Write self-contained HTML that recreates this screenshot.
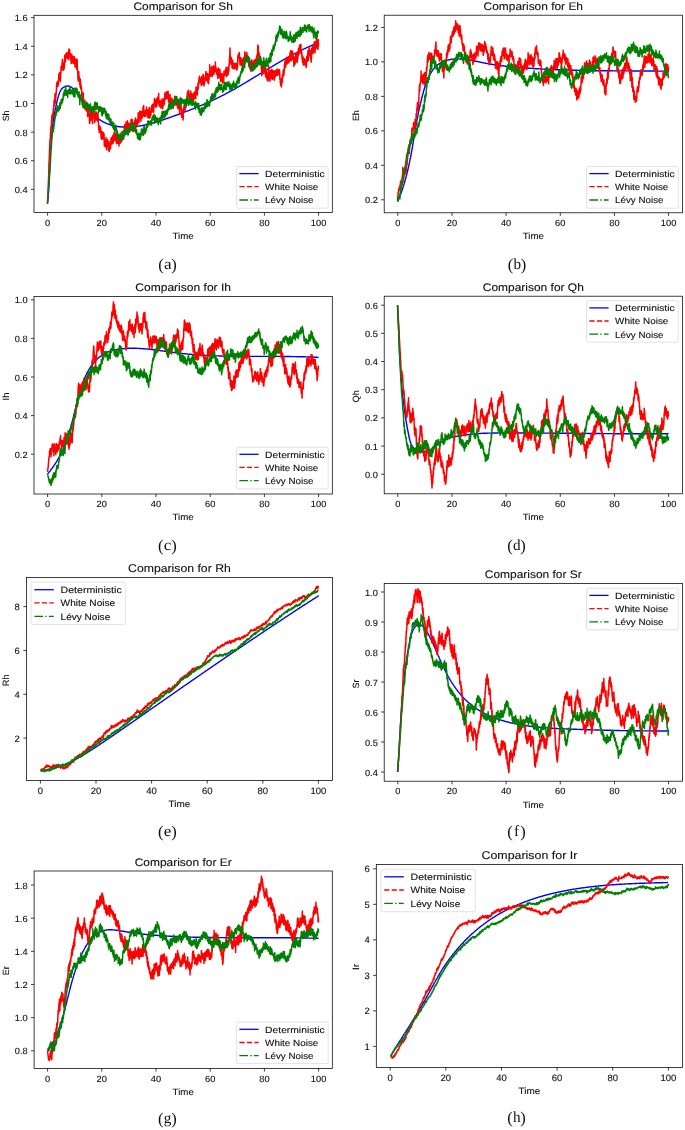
<!DOCTYPE html>
<html><head><meta charset="utf-8"><style>
html,body{margin:0;padding:0;background:#fff;}
svg{display:block;will-change:transform;}
text{font-family:"Liberation Sans", sans-serif;fill:#111;stroke:#111;stroke-width:0.12px;text-rendering:geometricPrecision;}
</style></head><body>
<svg width="685" height="1130" viewBox="0 0 685 1130">
<rect width="685" height="1130" fill="#fff"/>
<clipPath id="clipa"><rect x="34.0" y="15.3" width="298.3" height="197.29999999999998"/></clipPath>
<g clip-path="url(#clipa)" fill="none" stroke-linejoin="round" stroke-linecap="butt">
<path transform="scale(0.1)" d="M474 2036l1-5 1-5 0-5 1-6 0-5 1-5 0-5 1-5 0-5 1-5 0-5 1-5 0-5 1-5 0-5 1-5 0-5 0-5 1-5 0-5 1-5 0-5 1-5 0-5 0-5 1-6 0-5 0-5 1-5 0-5 0-5 1-5 0-5 0-5 1-5 0-5 0-5 1-5 0-5 0-5 1-5 0-5 0-5 0-5 1-5 0-5 0-5 1-4 0-5 0-5 0-5 1-5 0-5 0-5 0-5 1-5 0-5 0-5 0-5 0-5 1-5 0-5 0-5 0-5 1-5 0-5 0-5 0-5 0-5 1-5 0-5 0-5 0-5 1-5 0-5 0-4 0-5 0-5 1-5 0-5 0-5 0-5 0-5 1-5 0-5 0-5 0-5 0-5 1-5 0-5 0-5 0-5 1-5 0-4 0-5 0-5 0-5 1-5 0-5 0-5 0-5 1-5 0-5 0-5 0-5 1-5 0-5 0-5 0-5 1-4 0-5 0-5 1-5 0-5 0-5 0-5 1-5 0-5 0-5 1-5 0-5 0-5 1-5 0-5 0-5 1-4 0-5 0-5 1-5 0-5 1-5 0-5 0-5 1-5 0-5 1-5 0-5 0-5 1-5 0-5 1-5 0-5 1-5 0-5 1-5 0-4 1-5 0-5 1-5 0-5 1-5 0-5 1-5 1-5 0-5 1-5 0-5 1-5 1-5 0-5 1-5 0-5 1-5 1-5 0-5 1-5 1-5 1-5 0-5 1-5 1-5 1-5 0-5 1-5 1-5 1-5 1-5 0-5 1-5 1-5 1-5 1-5 1-5 1-5 1-5 1-5 0-5 1-5 1-5 1-5 1-5 1-5 2-5 1-5 1-5 1-5 1-5 1-5 1-5 1-5 1-5 2-5 1-5 1-5 1-6 1-5 2-5 1-5 1-5 1-5 2-5 1-5 1-5 2-5 1-5 2-5 1-5 2-5 1-5 2-5 2-5 2-4 1-5 2-5 3-4 2-4 2-5 2-4 3-4 2-3 3-4 3-4 3-3 3-3 4-3 3-3 4-3 4-2 4-3 4-2 4-1 4-2 5-1 5-1 4-1 5 0 5 0 4 0 5 1 4 1 5 2 4 1 4 3 4 2 4 2 4 3 4 3 4 4 4 3 4 3 3 4 4 4 4 4 3 3 4 4 3 4 3 4 4 4 3 4 3 4 3 4 3 4 3 4 3 4 3 4 3 4 3 4 3 4 3 4 3 4 3 4 3 4 2 4 3 4 3 4 3 4 2 4 3 4 3 4 3 4 2 5 3 4 3 4 2 4 3 4 3 4 3 4 2 4 3 4 3 4 3 4 2 4 3 4 3 4 3 4 3 4 3 4 3 4 3 4 3 4 3 4 3 4 3 4 3 4 4 3 3 4 3 4 4 4 3 4 4 3 3 4 4 4 3 3 4 4 4 4 4 3 3 4 4 3 4 4 4 3 4 4 4 3 4 3 4 3 4 4 4 3 4 3 4 3 5 3 4 3 4 3 4 3 5 2 4 3 4 3 5 2 4 3 4 2 5 3 4 2 5 2 4 3 5 2 4 2 5 2 4 2 5 2 4 2 5 2 5 1 4 2 5 2 5 1 4 2 5 1 5 2 4 1 5 2 5 1 5 1 4 1 5 1 5 2 5 1 4 1 5 1 5 0 5 1 5 1 5 1 5 0 4 1 5 1 5 0 5 1 5 0 5 1 5 0 5 1 5 0 5 0 5 0 4 1 5 0 5 0 5 0 5 0 5 0 5 0 5 0 5 0 5 0 5 0 5-1 5 0 5 0 5 0 5-1 5 0 5-1 5 0 5 0 5-1 5 0 5-1 5-1 5 0 5-1 5 0 4-1 5-1 5-1 5 0 5-1 5-1 5-1 5-1 5 0 5-1 5-1 5-1 4-1 5-1 5-1 5-1 5-1 5-1 5-1 5-1 4-2 5-1 5-1 5-1 5-1 5-1 4-2 5-1 5-1 5-2 5-1 5-1 4-1 5-2 5-1 5-2 5-1 4-1 5-2 5-1 5-2 5-1 4-2 5-1 5-2 5-1 5-2 4-1 5-2 5-1 5-2 4-1 5-2 5-2 5-1 4-2 5-1 5-2 5-2 4-1 5-2 5-2 5-1 4-2 5-1 5-2 4-2 5-1 5-2 5-2 4-2 5-1 5-2 5-2 4-1 5-2 5-2 4-1 5-2 5-2 4-2 5-1 5-2 5-2 4-1 5-2 5-2 4-2 5-1 5-2 4-2 5-2 5-1 4-2 5-2 5-2 4-1 5-2 5-2 4-2 5-1 5-2 4-2 5-2 5-2 4-1 5-2 5-2 4-2 5-2 5-1 4-2 5-2 4-2 5-2 5-2 4-1 5-2 5-2 4-2 5-2 4-2 5-2 5-1 4-2 5-2 4-2 5-2 5-2 4-2 5-2 4-2 5-2 5-2 4-1 5-2 4-2 5-2 4-2 5-2 5-2 4-2 5-2 4-2 5-2 4-2 5-2 4-2 5-2 4-2 5-2 5-2 4-2 5-2 4-2 5-3 4-2 5-2 4-2 5-2 4-2 5-2 4-2 5-2 4-2 5-3 4-2 5-2 4-2 5-2 4-2 4-3 5-2 4-2 5-2 4-2 5-3 4-2 5-2 4-2 4-3 5-2 4-2 5-2 4-3 5-2 4-2 4-3 5-2 4-2 5-3 4-2 4-2 5-3 4-2 5-2 4-3 4-2 5-2 4-3 4-2 5-3 4-2 4-2 5-3 4-2 5-3 4-2 4-3 5-2 4-2 4-3 5-2 4-3 4-2 5-3 4-2 4-3 5-2 4-3 4-2 5-3 4-2 4-3 5-2 4-3 4-2 5-3 4-2 4-3 4-2 5-3 4-3 4-2 5-3 4-2 4-3 5-2 4-3 4-2 4-3 5-3 4-2 4-3 5-2 4-3 4-2 4-3 5-3 4-2 4-3 5-2 4-3 4-3 4-2 5-3 4-2 4-3 5-3 4-2 4-3 4-2 5-3 4-3 4-2 5-3 4-2 4-3 4-3 5-2 4-3 4-2 5-3 4-3 4-2 4-3 5-3 4-2 4-3 4-2 5-3 4-3 4-2 5-3 4-2 4-3 4-3 5-2 4-3 4-2 5-3 4-2 4-3 5-3 4-2 4-3 4-2 5-3 4-3 4-2 5-3 4-2 4-3 5-2 4-3 4-3 4-2 5-3 4-2 4-3 5-2 4-3 4-2 5-3 4-2 4-3 5-2 4-3 4-2 5-3 4-2 4-3 5-2 4-3 4-2 5-3 4-2 4-3 5-2 4-3 4-2 5-3 4-2 5-2 4-3 4-2 5-3 4-2 4-3 5-2 4-2 5-3 4-2 4-2 5-3 4-2 5-3 4-2 4-2 5-3 4-2 5-2 4-2 4-3 5-2 4-2 5-3 4-2 5-2 4-2 5-3 4-2 4-2 5-2 4-3 5-2 4-2 5-2 4-2 5-3 4-2 5-2 4-2 5-2 4-2 5-2 4-3 5-2 4-2 5-2 4-2 5-2 4-2 5-2 5-2 4-2 5-2 4-2 5-2 4-2 5-2 5-2 4-2 5-2 4-2 5-2 5-2 4-2 5-2 4-1 5-2 5-2 4-2" stroke="#0000ff" stroke-width="14.0"/>
<path transform="scale(0.1)" d="M475 2035l3-73 1-13 3-71 0-12 3-69 1-20 3-107 0-19 3-59 1-15 2-67 1-13 3-92 2 12 1-28 2-22 1-39 2-14 2-46 1 2 1 35 2-7 2-97 2 18 2-66 1 66 1-40 3 6 1-21 2-1 1-33 3 36 2-72 1 59 2-85 1-11 2 10 2-62 2 44 1-1 2-58 3-5 0-46 3 25 1 39 1 26 3-47 1-4 2-56 1 27 2-39 1-6 2-53 1-3 2-25 4-2 1 31 1-5 1-25 2 44 2-24 2-40 2 44 1-12 2-58 3-42 1 57 1 4 1-50 2 42 2-61 1 3 3 57 1-13 1 41 2-28 3-47 1-8 2-65 1-4 2 23 1 17 3-49 0 29 3-58 1 4 2-36 2 9 1 93 2-23 1-48 2 25 1 55 3-62 2 56 1-59 3 45 0-13 3-30 1 3 2-90 3 70 1-55 2 46 1-68 2 29 1-33 2 11 1-12 3-12 1 48 1 0 3-41 1 22 1-34 2 21 1 37 2-2 2-44 2 19 2 39 2-20 2-52 0 8 3-40 2 77 2-69 1 33 1-37 2 18 2 58 1-23 3 52 1-10 1-54 3 19 1 44 2-11 1 49 3-29 0-30 3-34 1 31 2-2 1 31 2 13 3-51 0 9 3 59 3-10 0-28 2-21 2 50 0 8 2-57 2 32 2-42 2 53 2-28 1 25 2 54 2-7 1-44 2 38 1-46 4-20 1 48 1 33 2-30 2 11 1 41 1-6 2-55 1-39 3 108 2 0 2 39 1 11 0 31 4 29 1-74 1 20 2-41 1 11 2 45 2-3 3 42 0-14 3 49 2-62 1 75 1 14 1-79 3 39 1 55 2-44 2 35 2-12 2 39 1-23 1 65 2-26 1 32 2-7 3 51 1 13 3-80 2-2 1 25 1-11 2 82 1-14 3 50 2-26 1 41 1-35 2-26 3-13 1 35 1-17 1 35 3-17 2 55 0-4 2-37 3 22 1 35 3-72 1 35 1-25 2 61 1-16 1-20 4 0 1 94 1-10 3-50 0 5 2 27 2 21 1-76 2 61 1 14 3-36 2 41 1 32 1 33 2 6 2-68 2-9 1-20 2-1 2 71 2-12 2-27 1-9 0 29 4-25 1-43 2-2 2 63 2-58 1 61 3 50 1-36 1-7 3-40 0 15 2-45 3-33 1 45 1-51 3 68 2-20 1 31 1-7 2 71 2-70 2 39 1 13 2-42 1 26 2-47 2-28 2 78 2-40 2 30 1-37 2 55 1-74 2 39 1-19 2 63 2-29 2 23 2-69 1 78 1-37 3 72 1 3 0 44 4-33 2 62 0-12 3-52 1 10 3 47 0-6 2-44 2 26 2 18 1-32 2 41 1 12 2 47 2-56 1 41 3 28 2-69 2-9 1 54 1 5 1-31 3 47 2-61 1 7 1 20 3-28 2 38 3 23 0-55 1 5 3 120 0 1 2-53 4 27 1-28 1-6 1 38 2 30 2-58 2 15 2-50 0 18 3 71 1-3 2 36 1-44 1-45 4 25 0-31 2 21 2-27 2 58 2-35 1 21 3 41 1 24 2-29 1-10 2-35 1-15 2 97 2-12 2-43 1-6 2 16 1-33 2 44 2 9 2-45 1-8 2-49 1 15 2 38 2-63 2 49 2 16 2-35 2 24 1-30 1-39 1 46 4 21 1-34 2 37 2-82 1-7 2 42 1-50 1 29 2-13 2-36 2 19 2 73 1-76 1 48 3-40 2 58 1-38 2 47 1-3 2-45 1 10 3 70 1-27 2-77 2 12 2 63 1 14 1-17 2-5 2 32 1-7 2-45 3-36 2 72 1 10 1-52 2 85 2-35 1 14 1-63 2-1 3 42 1-16 2 33 2-55 2 41 2 5 1-23 3-48 1 54 0 10 2-67 3 62 2-64 1-36 1 42 2-25 2 24 2 2 0 21 3-57 2 29 1-5 3 50 0-12 3-44 1 10 2-52 2-47 2 32 2-9 1 31 2 3 0 29 2-22 1-24 3-10 2-57 2 13 0 21 3 33 2-40 1-14 2 47 2 1 2-75 2 42 1 27 1-4 1-36 2 27 2 23 3-13 1-41 1 25 1 26 3-11 2-24 1-13 3 86 0-25 2-53 2 62 2-39 2 16 1-53 2 46 1-75 2 12 0-20 3 4 3 44 1 9 3-54 1 18 1 43 2-7 1 25 2 40 3-62 1-18 1 21 2-21 1 78 4-49 1-38 1 4 2 18 1-9 2-29 1-8 2 44 3-19 1-47 2 53 2-44 3 81 0-47 2-16 1 40 1 3 3-34 2 16 1 32 3-48 0 29 2-48 2 26 1-11 2-84 2 44 1 31 2-53 3 77 0-20 3-54 1-21 1 36 2-24 2-34 1 11 3 45 2-14 1 34 1-9 2 37 2-36 2-45 1 18 1-38 4 68 1-38 2 38 0-45 4 26 1-28 2 2 1-64 1 16 2 74 2-49 2-57 1 39 1 62 4-29 0-13 2 11 1 40 2-5 2-42 3 40 1-52 1 9 0 47 3-13 3-54 1 12 2 32 1-68 2 50 3-18 1 33 2-34 2 70 1 1 2-52 1 24 2-48 1 37 2 43 1-16 3-29 1 4 2 47 2-109 2 71 1 18 1-23 4 34 1-36 2 15 1-34 2-7 1 43 2-37 1-40 2 10 0 16 5-50 1 46 0 22 2-52 2-23 2 38 4 2 0-35 2-13 1 34 1-10 2 49 1 10 2-50 2 6 3-46 0-8 2-40 3 21 0 42 2-44 2 52 1-40 2 52 2-16 2-34 1 19 3-25 1-15 1 72 3-6 2-82 1 13 2 34 1-3 1-50 4-3 1 47 1-18 1 27 2-1 3-92 0 31 3 88 3-37 1 40 1-26 2 35 1-1 1-56 2-3 2 64 2-21 2-39 1 23 1 49 2-22 3-41 1 24 1-35 2 47 2-65 2 3 2 68 1-29 1 57 3-19 2-64 2-16 1 53 2 5 1-28 1 30 2-45 4 36 1-41 1-17 2-27 1-22 2 43 2 20 1-71 3 53 1-49 1-5 2 38 1-11 1 31 3-14 2-43 1-8 2 67 4-25 0 27 1-8 0-23 4 2 1-44 2 44 2 61 2-32 1-38 1 21 3 58 1 9 2-27 2 18 2-63 1-18 1 30 3 11 2 44 2-43 1 29 1 2 2 68 3-66 1 44 1 0 2-60 1-24 2 76 2-27 1 25 2-8 2 35 2-21 2 20 1-15 2-62 1 25 2-33 1 43 2-42 2 51 3-55 0-30 3 85 1 1 2-40 1-27 2 43 1-59 3 70 3 9 1-30 1 34 2-58 3-6 0 19 1 3 1 54 3-32 0 41 5 16 0-32 3-17 0 28 2-12 1-43 2 34 1 39 2-41 3 66 1-35 1 65 2 9 3-107 1 27 2-89 1 37 2 76 2 0 1-33 4 40 1-16 2 25 1 67 1-11 1-37 2 34 2-49 2-9 2 62 2-30 1 65 1-17 3-86 1 17 2-35 1 14 2-38 1 30 2-19 2 3 2 31 2 6 1-34 3 18 1-47 1 0 3 30 0 1 3-19 1-3 1-44 3-1 2-41 1 68 2-97 1 27 2-46 3 1 1 45 3-4 1-45 1-12 2 17 1-7 2 49 1-22 2 50 1 32 2-63 2 64 2-18 2-10 1-51 2 49 2-67 1-14 3 95 0-18 2-27 2 6 1-29 3 1 1 47 3 25 1-42 2 45 2-22 0 2 1-47 3 43 1-51 2 41 1 28 3-10 1-70 4 12 1 40 0-11 2-29 3 26 2-51 0-2 3 29 1-10 2 55 1-42 2-75 3 1 1 18 2 19 1-19 1 15 2 24 2-15 2 37 1-49 0-23 3 18 2-67 3 60 1-52 3-30 0 39 2-13 1-53 2 7 3-25 3 43 0-30 1 11 1 25 4-23 1 36 3-30 0 16 3-8 1 48 1 6 2-63 1 5 1-31 3 9 1 40 2-29 1 55 3-81 2 50 1-14 1-53 2 2 3 73 1-29 2 69 1-5 1-50 2-5 1 39 2-9 2-57 2 2 3 22 0 7 2-52 2 24 2-59 2 2 2 32 0-2 3 30 1-16 2 43 1 3 3-72 1 39 2 45 1-1 2-79 2 25 2 66 2 5 2-54 2-26 0 43 2-20 1-31 2 7 3-66 0-42 2 92 3-24 2 38 2-19 1 31 1-2 2-45 2 30 2-53 1-26 2 58 3-59 1 50 0-2 2 46 2-20 1-62 2 12 1 21 3 1 2-42 2-14 2 56 0 31 3-46 1 17 2-40 1 45 3-41 1 26 2-37 2 15 1-65 3 98 1-54 1 27 2 26 2-6 2-22 0 9 1 45 4-53 2 57 1-33 2 35 1-6 2 43 1-30 3-46 0 28 2-57 2 23 2 54 2-63 1 37 2 44 2-29 2 28 2-49 0-29 2 35 2 4 3 72 2 9 1-43 1-36 2 65 1-53 1 24 4 13 1 18 1-22 1-47 2 24 2 77 2-9 2-49 3 28 1-28 0-28 3 70 1-14 2-77 2-19 1 46 2-39 2 30 1 2 2-36 3 28 1-33 1 34 3-47 2 5 1-23 1 5 1 84 3-32 2-41 0-21 3 55 2-30 1 44 2-50 2 57 1 4 2-64 2 53 2-73 0 2 2 49 2-20 2-50 2 6 2-61 1-11 1-15 2-19 2-68 1 56 2 74 3-43 2 46 1 27 1-55 2-10 2 68 2-41 1 37 2 0 2 39 1-22 1-36 3-21 2 60 1 5 2 22 2-13 1-40 3 13 1 35 1-52 2 57 3-27 1 16 1-2 2-37 1 21 2 25 2-28 1 26 2-44 2 31 2-21 1 29 3-43 1 66 1-10 1-30 3 41 1-51 2 35 2-33 1 20 2-104 2 15 2-39 2 26 1-26 2 38 2-30 1 15 3-35 0-5 3 87 1-33 2 54 2 16 1-27 2 28 2-55 1-22 2 69 1-12 1-32 5 17 0 16 1 25 3-42 1-26 2 69 1-1 3-27 1-28 2 40 2-1 1-20 1-4 3-37 0-4 3 43 1-26 2 40 1-13 3-57 2-45 1 72 2-42 1 39 1-18 2 22 3-27 2 31 0-8 1-31 3-2 2-30 1 2 3 62 1 23 2-41 1-21 2 45 1-15 3 49 1-12 2-19 1 5 3 57 1 3 2-28 1 14 1 22 2-52 3 67 1-42 2 8 1-38 3 48 1 48 2-43 1 13 1 26 2-3 2-36 3-68 1 79 2 2 2-63 1 46 0-30 3 13 2 61 2 1 2-55 1-21 1 36 2-23 3-17 0-24 2 36 4-10 1 31 1-14 2-47 2 29 1-26 1-8 2 54 1 2 3-51 3 27 1-36 0 16 3-47 1 10 2 57 1-24 2-57 1 15 3-47 2-62 2 70 0-20 3-39 1 54 2 31 1-5 2 49 2-64 2 52 1-36 2 36 1-10 3 72 1 2 2-77 1-1 1 42 4-17 1 30 1 13 3 65 2 5 1 35 1 20 2-108 2 24 2 65 0-4 3-33 3 19 0-24 2-51 2 40 1-10 2 35 1 22 2-53 3 23 1-50 3 45 1-40 1-27 2 52 1 14 2 50 2-22 1 46 1-21 3-60 2 86 1-61 3 21 1 20 1-11 1 40 2 15 3-64 0 25 2 47 4 2 1-35 1-25 2-71 1-21 2 70 2-9 1 68 2-45 1 37 2-23 2 44 1 13 3-84 2 8 0-31 2 8 2 45 3-11 1 38 1-16 2-76 4 4 0 38 1-2 1 51 2-82 1 89 3-3 2-27 2 14 2-42 1-28 2 60 1-29 2 41 1-17 3 30 0 12 3-47 1-11 2-36 2 60 1-35 2 4 2-34 1 51 3-48 1 14 1 29 2 6 1-51 3-6 2 37 1-41 2 31 1 26 2-63 2 57 1-42 3-4 2 36 1-34 0 42 4 4 1-34 1 2 3 28 1-48 2 54 1-4 1 48 2-12 3 56 2-28 0 42 2-31 2 27 1-6 3 27 1-20 2-66 2 43 2-52 1 53 2-74 2 34 1-38 2 24 2-58 2 43 1-63 2 52 2-47 2 50 1-50 1 18 3-73 1 37 2-66 3 19 0 33 3-19 1 26 2-31 1-55 2 39 2-43 2 28 0-34 3-6 0 20 3 50 2-33 1-15 1 16 2-23 2 41 2 0 2-43 1 5 2-22 1-3 3 46 1 15 0-55 3 40 3-36 0-10 3 41 1-81 2 35 2 38 2-64 2-31 1 49 1-11 3 66 0-6 3-89 1 18 1 38 4-55 1 24 2 52 1-54 1-21 3 74 0-16 3 35 1 3 2-45 3 99 1-55 1 20 2-58 2 7 2 67 0-3 3-47 2 43 1-51 1 13 2-61 3 29 1 36 3 0 1-46 0 16 3-50 1 46 1 52 3 2 2-35 1 14 2-62 1 43 3-30 0 2 3-62 1-11 1 38 3 26 2-35 1 7 2-65 1-2 3 67 1-14 2-55 2 15 2 65 0-11 3-53 1-22 2 63 1 18 1-17 3 11 2 34 1-17 1 51 3-31 1 28 2 40 2-54 1-7 3 49 2 37 1-67 2 11 1 36 2-37 2 56 2-60 1 46 2-46 1 21 3-10 1 32 2-33 1 54 2-41 1 48 3-18 1 34 2-17 1-53 3-40 1 48 2-40 1 22 3 17 1-74 2 3 1-35 1 10 2 91 2-90 2 24 1 20 2-69 2-16 0 40 4 6 1-25 1 50 2-37 1-2 3 51 2 29 2-52 1-31 2 74 2 43 1-52 2 5 2-64 0-26 1 42 4-43 1-23 2 1 2 49 2-9 1 32 1-23 2-35 2 43 1-61 2 42 2-49 1 15 2-49 3 31 1 30 1-59 2 107 2-58 1 25 2-9 2-47 3-28 1 70 1-18 2-53 1 10 1-42 3 49 2 57 2-74 1 42 1-27 3 50 1 19 2-29 1 0 1-70 2 60" stroke="#ff0000" stroke-width="15.0"/>
<path transform="scale(0.1)" d="M475 2035l3-48 1-10 3-47 0-9 3-35 1-10 3-58 0-3 3-47 1-5 1-21 2-12 3-67 1-10 2-26 1 11 3-41 0-10 3-92 2-23 1 25 1-12 2-43 1 2 2-53 2-15 3-49 1 6 2-54 1-7 2 21 1-10 1 33 3 1 2-40 1-26 1 36 3-56 0 25 3-18 2-25 1 0 2-50 3 23 1-27 1 10 2-46 3 2 1 26 1 2 2-29 2-5 1-36 3 15 1 23 1 0 2-35 1 3 2-31 3 23 0-14 2 12 2 27 3 5 1-39 2 17 2-21 1 31 2-32 2-19 1-19 2 31 2-34 0 10 2 48 2-31 3-31 1 30 2-41 1-19 1 37 2-29 1 33 2-31 2 23 2-29 2 31 1-12 3-31 1-7 2 24 2-60 2 33 0-8 3-40 1 2 3 19 0-11 2-37 2 9 1 46 4-19 1-32 3 40 0-41 1 22 1-54 2 30 3 43 1 9 2-24 1-21 2 27 3-25 1 36 1-19 1 25 3 23 2-58 1-13 1 23 2-20 3 23 0-11 2-22 3 10 2 31 1-38 1 34 2-23 1-31 2-12 2 47 1-15 2 41 3-32 2 28 0 2 2-24 2 22 2-29 1 26 2-33 1 25 2-30 3 6 2 18 1 1 1 24 3-17 1 25 2-43 2 51 0 4 2-32 2 4 3-35 2-18 1 43 1 13 1 30 2-34 1-27 2-22 2 29 2-12 2-23 1-1 2 30 3 2 1-16 2 10 1-19 2 22 1 40 2-38 3 44 1-10 2-7 1 32 1-23 3 30 1-39 1 15 3-35 1 23 2 41 2-5 2 72 1-30 2-58 2 35 1-24 3 28 1-24 2-30 2 49 1-17 2 22 1-13 1 31 2-12 2 30 2 14 2-42 1 13 3 52 0-19 3-31 2 17 1 19 1-6 2 26 2-18 2-28 2 10 2 35 0 12 3-51 1 1 2 33 3-10 1-24 1 12 1-21 2 0 1 33 3-43 2 33 2-24 1 22 1 16 2-13 1 1 1 26 4-47 1 31 2-14 2 31 1-2 1-15 4-15 1 30 0-1 2-19 3 36 1-45 1 25 3 17 1 9 2-30 2-34 2 58 2-7 1 39 1-4 1-40 2 16 2-27 2 36 2-21 2 22 2-41 1 1 1 27 3-31 2 48 2-22 1 26 2-17 1 27 2 6 2-36 2-27 1-22 1-11 2 17 3-35 1 29 1-7 2 42 1-13 2 27 1-40 3-31 2 57 2-32 0-6 2 45 4-24 0-23 2-13 1 34 1-10 1 22 3-9 2 25 2-19 2 52 1-20 2-37 1 2 1 48 2-52 2 33 3-6 0-14 2-4 1 33 3 2 1-44 3 35 1-15 3-8 1 26 1-12 2 33 2 24 2-71 1 6 2 75 1-17 2-17 1 6 3-47 1 8 2 41 3 3 1-53 1 1 2 35 1-3 1-20 3 21 1-34 2-1 0 35 3 4 1-24 3 45 1 12 2 5 2-49 3 12 1 31 1 35 2-40 2-5 2 39 1 5 2-53 1 35 3-32 2 53 2-16 3 26 0-10 1-34 3-12 2 33 2 24 1-12 3 28 1-24 2-8 2 48 1-2 2-36 1-9 1 30 2 11 2-34 2 36 0 16 4-6 1-20 1 21 3-22 3 25 0 28 1-3 2-14 1-13 1 22 5 6 1 17 0 7 3-65 1 19 1 47 2-7 1-23 3 1 2 43 2-11 1-19 1 1 3-27 1 32 1-28 3 46 2-43 0 7 3 74 1 2 3-43 0 4 2 32 3-21 1 31 2 33 1-41 1 7 3 22 2 15 2-31 0 2 3 45 3-37 0 27 1 2 0-19 4 3 2-23 1 18 3-37 1 8 2 27 2-5 1 41 1 2 1-49 4 6 1 25 1 0 3-42 0 18 2 16 3-16 1 31 2-62 1 36 1 2 3-30 1 20 2-44 2 45 2-48 1-9 2 26 1 28 2-42 2-12 1 28 3-14 1-29 2 49 2-14 1 23 2-26 1-17 1 17 4 14 1-19 1 12 3-31 0-7 3 39 1 14 1-38 2 16 2 29 3-1 1-46 1 22 1-28 3 24 2-25 1 6 2-30 1 38 3-44 0-3 3 37 3-40 1 41 0-4 3-31 1 16 1-27 3 52 1-39 2 24 1-27 2 9 3-33 2 8 1 21 1-5 2 20 2-4 2-24 1-5 2 31 3 11 1-38 0 4 3-34 1 2 2 52 1 16 0 10 4 10 2-52 1 32 2-25 1-9 3 66 2-17 1 28 2 1 2-42 1 6 2 44 2-12 2 18 0-13 2 41 2-40 2 29 1 4 1-23 2 42 2-58 3-4 2 39 0-8 3-20 1-5 2 53 1 9 1-30 3-1 2 30 1-41 2 20 2-9 1-46 4 29 0-33 1-29 1 31 2-12 1 19 3-37 2 58 2 0 1-39 2 23 1-24 3 24 1 22 2-55 1 50 2-66 1-23 4 23 1-19 1 24 2 43 1 4 2-21 3-27 1 23 1 20 3-46 1 30 1-22 2 12 2-43 1-3 3 19 0-6 2-20 3-16 1 41 2-18 1-42 2 48 2-57 2 7 1 20 1-17 3 25 1-25 1 22 2-25 3 19 1-8 2 17 1-27 1 34 4-12 1-18 2 29 2-44 1 10 1 13 3-12 1 36 1-17 3-52 2 6 1-13 2 10 2-23 0 14 2 25 3-5 1-24 2 23 1-21 2-26 2 27 1-33 2 42 1 1 3 47 1-7 2-31 1-10 1-30 3 24 2 17 1-2 3 24 0-4 1-14 3 17 2-33 2-9 2 20 1-6 2 38 1-38 2 35 1-20 1-16 3 3 2 57 1-14 1-37 3 31 2-27 1 12 2-29 1-2 3 18 1 20 1-35 2 28 3-37 0 7 3 57 1-30 1-26 2 14 2-42 3 1 1 15 1-7 2-47 1 13 3 48 1 9 3-47 1 4 1-29 2 32 1-23 2 3 1 40 3-52 2 37 1 28 1-17 2-2 3-25 1 16 2-43 1 29 2 28 3-30 1 24 1-12 0-27 4 9 1-21 2-7 2 31 2-33 2 42 0-12 2-19 2 9 3-32 1 24 2-27 2 17 1-45 1 41 2-54 2 3 1 41 2 1 3-61 1 30 1-24 2 36 0 23 3-27 3-37 0-2 3 48 1-7 3-20 1-14 1 30 2 12 1-20 2-4 2-24 1-9 3 44 2 11 2-25 0 5 3-46 1 0 2 44 2 6 2-25 1-11 2-17 2 11 0 21 2 3 2-67 3 10 1 41 1-32 3 27 1-40 1 29 2 0 2-39 2 41 1-45 2 17 1 26 3-22 2 43 1-35 2 34 3-29 1 14 1-8 2 38 1-13 2-27 2 42 2-42 0-11 3 40 2-16 1 29 3-52 1 42 2 15 1-23 2 17 0-39 3 46 2-34 2-33 1 33 2 18 2-47 1-1 2 28 1-7 1 21 4-2 1-30 1 4 3 23 1 5 2-14 1 17 1-15 3-16 2 21 0-7 3 46 1-18 2-10 3-37 1 31 1-1 1 17 2-17 2-26 1 9 3 47 1-33 3-42 2 0 1 41 1-11 2-33 1 7 2 46 2-1 1-19 2 11 3 34 0-12 2-59 2 48 2-34 2 8 2 30 0-9 2-47 2 61 3-58 1 15 1 23 3-19 0 11 2 24 3-37 0 4 3 46 1-1 3-17 0-22 3 37 2-27 1 32 1-5 3-44 2 6 1 33 2-30 2 30 1-37 2 36 1 5 1-23 2 0 3 19 1-3 2 34 1 8 2-33 3 24 0 19 2-30 2-45 1 10 3 40 1 0 2-30 1-4 2 17 3-7 1 27 2-18 1 16 2 0 2-34 3 33 0 25 1-6 1-43 4-10 1 51 2-4 1 34 1 9 2-27 1-8 3 29 1-36 3 40 0 27 3-29 1 23 1-19 3-14 1 31 2 12 2-51 1-21 2 42 1 14 2-22 2 6 2-33 2 24 1-33 2 6 2 34 2-42 1 28 1-22 3 25 1 3 2-27 2 6 2-35 1-21 2 47 1-44 3 28 2 19 1-39 1-13 2 22 2-15 1 36 2-25 2-28 2 12 2-37 2 3 1 32 1 1 2 33 1-14 2-29 1 20 3-28 1 3 3 21 1 13 1-28 2 19 1 14 2 5 2-20 1 9 2-28 2-1 2-29 2 12 2-35 1 14 1 26 4-6 1-31 2-16 1 32 2-18 2-35 2 7 1 36 1 16 2-36 1-6 3 34 0 5 3-28 1-15 0 22 4 2 2-38 1 0 2 41 1-19 2 19 1-12 3-51 1 19 2 31 1 3 3-36 2-46 1 21 2 6 2-32 0 4 3 26 2 18 0-24 2 3 2-30 2 30 1-29 3 7 1 31 2-30 1-35 2 15 2-41 1 32 3 38 2-51 1 27 1 17 2-21 3 10 1 22 1 4 3-55 2 28 1-24 1-3 2 45 1-7 2-27 2-8 2 38 1-14 3 23 0-13 3 34 1 5 2-23 1 0 1-22 3 36 2-33 1 2 1-34 3 5 1 21 2-23 1-29 2 24 2 46 1 5 3-54 1-16 3 53 0 7 2-47 2 15 1 31 2 6 3-50 1 19 2-41 3 41 1-19 0-8 1 27 3-34 2 27 1 6 3-37 0-5 2 25 2-27 3 40 0-23 3 41 2-23 1 28 3 21 1-28 2 17 1-49 2-1 1 30 3 10 1-27 2 1 1 26 1-8 2 26 1-24 3 26 1-4 3-56 1-6 2 20 2-22 1 27 1 9 2-44 1 22 1-35 3 18 2 36 2 11 1-23 2 29 0-41 3 25 1 23 2-24 3-28 1 14 2 23 3-7 1-34 1 26 2-20 1-21 3 39 3-51 1 21 1-27 3-1 2-14 1 36 2-29 2-23 2 40 2-29 1 56 1-10 2-26 2 15 2-39 1 19 2-37 1 5 2-21 2 21 1-15 2 1 2-35 1 20 2-13 3-9 1 16 2-49 2 27 1 19 2-29 1 2 1-30 3 45 1-26 3 17 1-46 1-17 3 37 1-31 2 30 1-4 2-40 1 10 2 34 2-25 2-26 2-52 2 34 0 21 2-16 2-28 3 35 0-7 2-20 2-5 2 13 1-33 2 33 2 7 0-37 4 42 2-44 1 41 1-23 3 32 1-32 1-22 3 42 1-7 2-17 2 26 1-30 1 9 3 54 2 18 1-26 2-2 2 17 0 6 2 19 2-17 2 31 1-1 1-46 3 33 2 35 1-20 2-38 1 25 2 33 2-4 2-50 1 11 3 18 1-25 2 24 1 8 3-34 0 20 2 18 2-23 2 21 3-47 1 43 1-5 2-29 1-18 2 22 3-13 1 22 1-22 3 24 0-10 3-28 1-3 1-18 2-8 2 28 1-3 1 35 4-49 1-29 4 5 0 20 1 9 1-17 2 5 3 24 2 19 1-27 2-5 1-49 1 17 1 27 3-7 0-22 5 18 1-29 2 54 1-37 1 10 2 40 2-25 1 18 2-13 2 58 1 1 2-41 2-21 2 24 1-18 1 18 3 6 2-32 1-3 1-20 2-16 3 57 2 48 1-38 1 30 2-50 2-11 2 35 1 8 2-11 2 28 1-38 1 4 3-22 2-33 2 43 1-30 2 39 1 24 2-33 1-3 1 38 3-49 2 40 1-7 2-35 1 7 2-34 2-3 2 34 2-33 1 47 2-34 1 34 3-8 1-32 2-12 2-41 1 21 1-20 2 23 3 55 0-24 3-66 2 41 1-34 2-31 2 37 1-10 2 26 1-12 2-43 2 16 2-40 3-1 0 10 2-32 1 36 2 19 2-24 1 5 3-32 0 29 3-27 1 8 3-28 1-13 2 25 1-12 1-27 2 7 1-47 3 34 1-52 2 10 2 52 2-7 2-32 1 12 1-45 2 41 1-50 2 10 3 26 1-9 1-39 2 22 3-23 1-8 2 26 1-13 2-39 1 5 1-31 5 25 1 21 0-5 3-35 1 18 2 37 1 21 2-14 1 9 1-34 4 39 2-27 0 10 1-32 3 21 1 45 2-24 3 15 1 31 2-24 2 26 2-36 2 34 1-38 1-30 2 24 1-25 3 61 2-3 1-21 2-4 1-24 1 28 3 33 1-34 2 28 1-29 2 43 1-39 2-39 2 39 1-24 3 25 1 17 2-7 2 9 1 13 1-20 4 6 1 45 3-8 1-24 1-12 2 26 1 10 2-20 3 13 1-10 1-4 2-18 1-26 3-24 1 20 2 40 1-7 1-18 3 48 1-36 2 22 2 28 2 4 2-42 1 19 2-20 1 18 2-20 1 14 2 35 3-24 1 25 1-6 2-63 2 70 2-36 2-43 1 27 2 5 1 18 3-6 1 15 2 7 2-48 1 12 2-29 1-18 1 30 3 15 1-16 1 7 2-39 2-3 2 61 1-17 1-30 3 32 2-40 2 24 2-27 0-14 3 27 1-13 2 34 2-40 2 32 1-7 2-41 1 8 3 50 0-15 2-22 3-53 2 65 0 20 3-49 2 32 1-45 1-3 3 50 0-19 3-35 2 9 1-20 1 4 3 34 1-33 2 25 1 17 2-33 1-15 2 31 3-20 1 21 2-14 1 14 2-8 2-51 1 9 3 38 2-9 1-22 3-11 1 34 2 20 1-33 1 14 2 27 2-1 2-22 1 27 2-39 1 11 3-27 2 18 1-31 2 2 1 23 1-28 1 19 4 11 1-26 3 46 1-16 1 32 2-51 2-17 1 41 2-25 2 30 1-29 2 22 2-14 2 36 2-26 1 16 1-10 2-15 1-2 2 48 1 1 3-38 3 11 1-22 0 16 3 34 1 4 1-20 2-3 2 37 1 4 2 35 2-25 2-73 1 48 2 20 2-12 2-11 1-13 1 26 3-19 2 38 1 29 0-20 3-6 2-31 2 5 2 36 1 2 2-43 2-8 2 53 1-7 2-28 3-30 1 28 1-3 2-23 1 16 2-11 1 11" stroke="#008000" stroke-width="14.5"/>
</g>
<rect x="236.6" y="166.6" width="91.6" height="41.599999999999994" rx="1.5" fill="#fff" fill-opacity="0.8" stroke="#d6d6d6" stroke-width="0.7"/>
<line x1="239.4" y1="173.6" x2="258.6" y2="173.6" stroke="#0000ff" stroke-width="1.3"/>
<text x="265.10" y="176.90" font-size="9.0" text-anchor="start" textLength="59.55" lengthAdjust="spacingAndGlyphs" >Deterministic</text>
<line x1="239.4" y1="186.7" x2="258.6" y2="186.7" stroke="#ff0000" stroke-width="1.3" stroke-dasharray="5.2 2.3"/>
<text x="265.10" y="190.00" font-size="9.0" text-anchor="start" textLength="53.27" lengthAdjust="spacingAndGlyphs" >White Noise</text>
<line x1="239.4" y1="200.0" x2="258.6" y2="200.0" stroke="#008000" stroke-width="1.3" stroke-dasharray="8.7 2.2 1.4 2.2"/>
<text x="265.10" y="203.30" font-size="9.0" text-anchor="start" textLength="48.37" lengthAdjust="spacingAndGlyphs" >Lévy Noise</text>
<rect x="34.0" y="15.3" width="298.3" height="197.29999999999998" fill="none" stroke="#000" stroke-width="0.75"/>
<line x1="47.6" y1="212.6" x2="47.6" y2="215.7" stroke="#000" stroke-width="0.75"/>
<text x="47.60" y="225.80" font-size="9.0" text-anchor="middle" textLength="5.16" lengthAdjust="spacingAndGlyphs" >0</text>
<line x1="101.8" y1="212.6" x2="101.8" y2="215.7" stroke="#000" stroke-width="0.75"/>
<text x="101.80" y="225.80" font-size="9.0" text-anchor="middle" textLength="10.32" lengthAdjust="spacingAndGlyphs" >20</text>
<line x1="156.0" y1="212.6" x2="156.0" y2="215.7" stroke="#000" stroke-width="0.75"/>
<text x="156.00" y="225.80" font-size="9.0" text-anchor="middle" textLength="10.32" lengthAdjust="spacingAndGlyphs" >40</text>
<line x1="210.2" y1="212.6" x2="210.2" y2="215.7" stroke="#000" stroke-width="0.75"/>
<text x="210.20" y="225.80" font-size="9.0" text-anchor="middle" textLength="10.32" lengthAdjust="spacingAndGlyphs" >60</text>
<line x1="264.4" y1="212.6" x2="264.4" y2="215.7" stroke="#000" stroke-width="0.75"/>
<text x="264.40" y="225.80" font-size="9.0" text-anchor="middle" textLength="10.32" lengthAdjust="spacingAndGlyphs" >80</text>
<line x1="318.6" y1="212.6" x2="318.6" y2="215.7" stroke="#000" stroke-width="0.75"/>
<text x="318.60" y="225.80" font-size="9.0" text-anchor="middle" textLength="15.48" lengthAdjust="spacingAndGlyphs" >100</text>
<line x1="30.9" y1="17.6" x2="34.0" y2="17.6" stroke="#000" stroke-width="0.75"/>
<text x="27.60" y="21.20" font-size="9.0" text-anchor="end" textLength="12.90" lengthAdjust="spacingAndGlyphs" >1.6</text>
<line x1="30.9" y1="46.23" x2="34.0" y2="46.23" stroke="#000" stroke-width="0.75"/>
<text x="27.60" y="49.83" font-size="9.0" text-anchor="end" textLength="12.90" lengthAdjust="spacingAndGlyphs" >1.4</text>
<line x1="30.9" y1="74.87" x2="34.0" y2="74.87" stroke="#000" stroke-width="0.75"/>
<text x="27.60" y="78.47" font-size="9.0" text-anchor="end" textLength="12.90" lengthAdjust="spacingAndGlyphs" >1.2</text>
<line x1="30.9" y1="103.5" x2="34.0" y2="103.5" stroke="#000" stroke-width="0.75"/>
<text x="27.60" y="107.10" font-size="9.0" text-anchor="end" textLength="12.90" lengthAdjust="spacingAndGlyphs" >1.0</text>
<line x1="30.9" y1="132.13" x2="34.0" y2="132.13" stroke="#000" stroke-width="0.75"/>
<text x="27.60" y="135.73" font-size="9.0" text-anchor="end" textLength="12.90" lengthAdjust="spacingAndGlyphs" >0.8</text>
<line x1="30.9" y1="160.76" x2="34.0" y2="160.76" stroke="#000" stroke-width="0.75"/>
<text x="27.60" y="164.36" font-size="9.0" text-anchor="end" textLength="12.90" lengthAdjust="spacingAndGlyphs" >0.6</text>
<line x1="30.9" y1="189.4" x2="34.0" y2="189.4" stroke="#000" stroke-width="0.75"/>
<text x="27.60" y="193.00" font-size="9.0" text-anchor="end" textLength="12.90" lengthAdjust="spacingAndGlyphs" >0.4</text>
<text x="183.15" y="10.10" font-size="11.0" text-anchor="middle" textLength="99.40" lengthAdjust="spacingAndGlyphs" >Comparison for Sh</text>
<text x="183.15" y="238.90" font-size="9.0" text-anchor="middle" textLength="21.20" lengthAdjust="spacingAndGlyphs" >Time</text>
<text x="8.90" y="115.90" font-size="9.0" text-anchor="middle" textLength="10.86" lengthAdjust="spacingAndGlyphs" transform="rotate(-90 8.90 115.90)" >Sh</text>
<text x="160.90" y="269.90" font-size="16.5" text-anchor="middle" style="font-family:'Liberation Serif', serif;fill:#111;stroke:none">(</text>
<text x="167.70" y="269.40" font-size="15.5" text-anchor="middle" textLength="7.60" lengthAdjust="spacingAndGlyphs" style="font-family:'Liberation Serif', serif;fill:#111;stroke:none">a</text>
<text x="174.10" y="269.90" font-size="16.5" text-anchor="middle" style="font-family:'Liberation Serif', serif;fill:#111;stroke:none">)</text>
<clipPath id="clipb"><rect x="384.2" y="15.2" width="298.2" height="197.60000000000002"/></clipPath>
<g clip-path="url(#clipb)" fill="none" stroke-linejoin="round" stroke-linecap="butt">
<path transform="scale(0.1)" d="M3976 2017l2-5 2-4 2-5 2-5 2-5 2-5 2-4 2-5 2-5 2-5 1-4 2-5 2-5 2-5 2-5 2-4 1-5 2-5 2-5 2-4 1-5 2-5 2-5 1-5 2-4 2-5 1-5 2-5 1-5 2-4 1-5 2-5 2-5 1-5 2-4 1-5 2-5 1-5 1-5 2-4 1-5 2-5 1-5 2-5 1-4 1-5 2-5 1-5 1-5 2-4 1-5 1-5 1-5 2-5 1-5 1-4 1-5 2-5 1-5 1-5 1-4 1-5 2-5 1-5 1-5 1-5 1-4 1-5 1-5 2-5 1-5 1-5 1-4 1-5 1-5 1-5 1-5 1-5 1-4 1-5 1-5 1-5 1-5 1-5 1-5 1-4 1-5 1-5 1-5 1-5 1-5 1-4 1-5 1-5 1-5 1-5 0-5 1-5 1-4 1-5 1-5 1-5 1-5 1-5 1-5 1-5 0-4 1-5 1-5 1-5 1-5 1-5 1-5 0-4 1-5 1-5 1-5 1-5 1-5 0-5 1-5 1-4 1-5 1-5 1-5 0-5 1-5 1-5 1-5 1-5 1-4 0-5 1-5 1-5 1-5 1-5 0-5 1-5 1-5 1-4 1-5 1-5 0-5 1-5 1-5 1-5 1-5 1-5 0-5 1-4 1-5 1-5 1-5 1-5 1-5 0-5 1-5 1-5 1-5 1-5 1-5 1-4 0-5 1-5 1-5 1-5 1-5 1-5 1-5 1-5 1-5 1-5 1-5 1-4 0-5 1-5 1-5 1-5 1-5 1-5 1-5 1-5 1-5 1-5 1-5 1-5 1-5 1-5 1-4 1-5 1-5 2-5 1-5 1-5 1-5 1-5 1-5 1-5 1-5 1-5 1-5 2-5 1-5 1-5 1-5 1-5 2-5 1-5 1-5 1-4 1-5 2-5 1-5 1-5 2-5 1-5 1-5 1-5 2-5 1-5 2-5 1-5 1-5 2-5 1-5 2-5 1-5 1-5 2-5 1-5 2-5 1-5 2-5 1-5 2-5 2-5 1-5 2-4 1-5 2-5 2-5 1-5 2-5 2-5 2-5 2-4 1-5 2-5 2-5 2-4 2-5 2-5 2-4 2-5 2-5 2-4 2-5 2-4 3-5 2-4 2-4 2-5 3-4 2-4 3-4 2-5 3-4 2-4 3-4 2-4 3-4 3-4 3-3 2-4 3-4 3-4 3-3 3-4 3-3 3-4 3-3 4-3 3-4 3-3 3-3 4-3 3-3 4-3 3-3 4-3 4-2 3-3 4-3 4-2 4-2 4-3 4-2 4-2 4-2 4-2 5-2 4-2 4-2 5-2 4-1 5-2 4-2 5-1 4-2 5-1 5-1 4-1 5-1 5-2 5-1 5-1 5 0 4-1 5-1 5-1 5 0 5-1 5-1 5 0 5 0 5-1 5 0 5 0 5-1 5 0 5 0 6 0 5 0 5 0 5 0 5 0 5 1 5 0 5 0 5 0 5 1 5 0 5 1 5 0 5 1 6 0 5 1 5 0 5 1 5 1 5 0 5 1 5 1 5 1 5 1 5 0 5 1 5 1 5 1 5 1 5 1 5 1 5 1 5 1 5 1 5 1 5 1 6 1 5 1 5 1 5 1 5 1 5 1 5 1 5 1 5 1 5 1 5 2 5 1 5 1 5 1 5 1 5 1 5 1 5 1 5 1 5 1 5 1 5 1 5 1 4 0 5 1 5 1 5 1 5 1 5 1 5 1 5 1 5 0 5 1 5 1 5 1 5 1 5 0 5 1 5 1 5 1 5 0 5 1 5 1 5 1 4 0 5 1 5 1 5 0 5 1 5 1 5 0 5 1 5 0 5 1 5 1 5 0 5 1 5 0 4 1 5 0 5 1 5 1 5 0 5 1 5 0 5 1 5 0 5 1 5 0 5 1 4 0 5 1 5 0 5 1 5 0 5 1 5 0 5 0 5 1 5 0 5 1 5 0 5 1 4 0 5 0 5 1 5 0 5 1 5 0 5 1 5 0 5 0 5 1 5 0 5 0 5 1 5 0 5 1 4 0 5 0 5 1 5 0 5 0 5 1 5 0 5 0 5 1 5 0 5 1 5 0 5 0 5 1 5 0 5 0 5 0 5 1 5 0 5 0 5 1 4 0 5 0 5 1 5 0 5 0 5 1 5 0 5 0 5 0 5 1 5 0 5 0 5 1 5 0 5 0 5 0 5 1 5 0 5 0 5 0 5 1 5 0 5 0 5 0 5 1 5 0 5 0 5 0 5 1 5 0 5 0 5 0 5 1 5 0 5 0 5 0 5 0 5 1 5 0 5 0 5 0 5 0 5 1 5 0 5 0 5 0 5 0 5 1 5 0 5 0 5 0 5 0 5 1 5 0 5 0 5 0 5 0 5 0 5 1 5 0 5 0 5 0 5 0 5 0 5 1 5 0 5 0 5 0 5 0 5 0 5 1 5 0 5 0 5 0 5 0 5 0 5 0 5 0 5 1 5 0 5 0 5 0 5 0 5 0 5 0 5 0 5 1 5 0 5 0 5 0 5 0 5 0 5 0 5 0 5 0 5 1 5 0 5 0 5 0 5 0 5 0 5 0 5 0 5 0 5 0 5 1 5 0 5 0 5 0 5 0 5 0 5 0 5 0 5 0 5 0 5 0 5 0 5 1 5 0 5 0 5 0 5 0 5 0 5 0 5 0 5 0 5 0 5 0 5 0 5 0 5 0 5 0 5 0 5 1 5 0 5 0 6 0 5 0 5 0 5 0 5 0 5 0 5 0 5 0 5 0 5 0 5 0 5 0 5 0 5 0 5 0 5 0 5 0 5 0 5 0 5 0 5 1 5 0 5 0 5 0 5 0 5 0 5 0 5 0 5 0 5 0 5 0 5 0 5 0 5 0 5 0 5 0 5 0 5 0 5 0 5 0 5 0 5 0 5 0 5 0 5 0 5 0 5 0 5 0 5 0 5 0 5 0 5 0 5 0 5 0 5 0 5 0 5 0 5 0 5 1 5 0 5 0 5 0 5 0 5 0 5 0 5 0 5 0 5 0 5 0 5 0 5 0 5 0 5 0 5 0 5 0 5 0 5 0 5 0 5 0 5 0 5 0 5 0 5 0 5 0 5 0 5 0 5 0 5 0 5 0 5 0 5 0 5 0 5 0 5 0 5 0 5 0 5 0 5 0 5 0 5 0 5 0 5 0 4 0 5 0 5 0 5 0 5 1 5 0 5 0 5 0 5 0 5 0 5 0 5 0 5 0 5 0 5 0 5 0 5 0 5 0 5 0 5 0 5 0 5 0 5 0 5 0 5 0 4 0 5 0 5 0 5 0 5 0 5 0" stroke="#0000ff" stroke-width="14.0"/>
<path transform="scale(0.1)" d="M3975 2000l3-33 1-7 3-40 1 6 2-22 2-13 2 17 1-8 1-23 2 10 2-15 1 21 3-36 1-6 1 45 2-44 2-40 2 4 1 36 1-3 2-25 3 22 2-54 2 16 1 24 1-15 2-50 3-3 1-35 1 20 1-77 3 65 2 24 0 13 1-40 5 54 1-55 0-10 2-14 2-21 2 50 1 4 3-66 0 14 3 50 1-35 1 26 3-4 2-21 1-12 2 20 1-57 2 13 1-10 3-53 1 40 1-43 3-1 2-76 1 37 2-68 2 16 2-36 1-8 2 17 2-11 1-29 1 37 2 52 1-45 2-48 2 24 2-57 3 37 1-44 2-8 1 39 1-26 3-21 1 7 2-30 1 23 3-82 2-24 1 42 1-29 2 19 2 7 2-7 2 8 1-24 3-15 0-23 3-32 1 33 2 29 1-34 2 33 2-23 2-21 1 46 1-49 2-45 1 29 2 55 2-52 2 28 1-15 2-75 2-30 1 42 2-5 2-77 2-18 0 23 3-18 1-55 2 20 3 57 0-50 3 36 2 10 1-57 1 18 3-88 1-13 2-54 1-13 2-44 3 62 1-43 1-10 2-29 3 3 1-28 2-11 1-33 1 35 1-84 2 45 3 27 1-21 3 44 0 13 2-54 2-12 2 41 2 40 2-73 3-7 0 43 1 9 3-65 0 23 3 32 2 55 1-67 1 39 2-70 3-26 1 48 3 5 0 50 2-71 1 52 2-43 2 43 2-82 1 28 2-81 2 38 1-13 3-42 1 1 2-65 2-28 2 53 1-70 2 70 0-26 3-32 1 12 2-35 2-12 2 52 1-29 0 43 4-1 0-15 3-21 1 24 2-32 2 29 1-43 1 42 3 57 2-72 1 7 2 40 1 11 3-83 1 32 1 27 3 8 1-40 2 7 1 60 4-57 0 18 2-26 2 57 1-41 3 21 0-15 2-30 2 11 3-20 0-23 2-29 2 32 2-33 1 16 3-51 1 17 2-57 1 22 2 99 1-36 3 37 2-39 1 57 3-25 1 29 1-57 1 48 2-28 2 22 2 9 2-45 0-4 2 37 2-19 2 52 1 13 3-48 1 38 1 29 2-31 2-38 2 32 2-36 1 23 1 35 3-18 2-32 3-5 1 49 1-15 2 65 1 6 1 28 3-66 2 108 0-7 2-59 2 6 1 48 3-33 2 34 2 32 1-40 1 84 2-76 3-2 1-56 2 24 2-52 1 56 2-42 1-1 1 25 2 19 2-46 2 1 2 29 2-27 2-100 2 15 1-19 2 50 1-45 3 1 0-31 2 48 1-47 2 3 2-46 1 19 2-31 2 38 1-31 2 59 2-35 2-1 1-39 3 58 1-37 1 23 2-54 1 5 3-70 1 24 1 44 4-59 1 19 1 31 2-45 2 1 1-30 2 14 2-36 1-7 0 23 4-8 0-24 5 49 1-32 2-41 1 43 2 6 1-57 2-13 2 70 0-9 3-56 2 45 1-44 2-10 2 53 0-10 3-86 1-13 2 68 2-29 1 27 3-16 2 35 0-12 1-46 2 20 1 31 3 16 2-58 4 9 0 21 1 13 2 44 2 1 2-29 1 12 2-48 2 96 2-67 2 2 1 36 1-13 1-65 3 28 1 39 1-31 3 57 1 10 2 25 1-25 3 38 1-23 1-24 2 26 2 56 2-2 1 23 2-21 2 15 1 9 3 54 1-4 2-65 1 26 2 32 3-48 1 37 1 23 2-41 1 34 2 53 3-5 2 35 1-4 2-57 1 26 2 34 2 38 2-29 1-16 2 47 1-2 1-52 2 23 3 29 2 18 1-35 2 22 2-58 0 16 3 45 1-52 3 51 1 7 1-37 1 18 2-46 2 24 3 25 0-18 3-46 2-43 2 63 0-15 3-67 1 12 1 32 3 22 2-41 0 1 2 43 3 23 2-37 1 32 2-33 0 7 3 47 3 41 1-23 1-33 2 35 2-79 1 42 1-13 2-34 1 25 2 36 2-33 3 41 0 7 3-68 1-21 3 48 0 6 2-33 1 32 2-33 2 21 2-47 3-52 1 25 1-31 2 65 2-26 2 20 1-11 0 29 3-24 2 45 2-71 2-46 2-11 1 48 2-19 2-33 1 9 2 52 1-14 2-27 3 27 1 33 2-1 1-62 2 15 2-22 1 56 2-49 3 64 1-37 1 7 2 28 3-13 1-34 1-9 1 53 1 8 2-64 2 16 3 90 0-6 3-63 1 36 2-58 1 30 1 32 4-48 0-15 3-46 1 37 2 10 2-30 3 1 1 36 2-19 0 24 1 30 3-36 1-3 2 56 1-29 2 33 2-21 1 29 3-20 1 23 1-8 3 69 2-33 2 41 2-67 1 55 1-12 2 34 1 30 2-69 2 66 2-37 1 42 2-49 1 26 2-39 2 28 2-61 2 1 2-43 0 9 3-56 1 40 3-37 0 7 3 33 1-18 2 66 1-8 3-38 2-28 1 59 2-23 2 37 1 4 2 41 2-56 1 41 3-19 1-23 0 1 2 49 2-30 2 47 1-22 3 74 1 22 2-66 2 31 0 30 3-34 2-27 1-3 2 61 1-21 2 39 2-24 3-34 1 27 2-40 1-2 2 78 1 5 1 35 2-53 3 76 1 8 1-77 2-7 1-43 3-10 2 24 1 17 2-67 2 49 2-37 2-48 1 39 3 5 1-42 1-4 1 34 2 10 3-45 0-7 3-49 1 51 2-34 3 28 1-11 0-9 2-47 3-6 1 38 2-40 2 69 1-20 2 60 1-58 2-43 1-7 3 46 3-2 1-26 2-19 1 37 1-13 2 66 1 11 3-33 1 18 2-28 1 16 2 45 1-50 2 44 4-12 1-30 1 33 1 23 2 0 2-33 2 16 2-32 3-2 0 25 1 41 2-56 1 22 2-44 2 13 2-33 1-35 2 76 1-21 2-39 2 33 2 26 1-30 2 17 2 5 2-40 2 43 1-39 1-2 3 68 1-30 2 38 2-2 2-28 1 3 1 40 3 6 1-26 1 1 3 117 1 19 1-67 2 37 1-55 3 52 2 49 1-59 2 22 1-3 2-52 2 40 1-39 3 9 1 36 1-8 1-30 3-2 1 62 3-18 1-42 3 21 1-61 2-2 1 57 4-18 0 28 2-71 1 39 2-30 2-41 1 58 2-57 1 47 1-43 2 13 3 54 2 13 2-16 1-57 1 79 4-29 1 40 0 8 1 54 4-4 1-42 2-34 2 47 1-1 2 14 1-3 3-22 0-39 3 40 1 33 2-71 1 33 3-43 1 50 2-49 2-19 1 47 1-38 2 28 1-37 3-40 1 34 2 49 1-71 3 50 1 37 1-71 3 47 1-58 2 67 1-25 2-12 2 50 2-25 1-44 2-36 1 37 2-95 2 84 3-65 1 68 2-45 2 51 1 28 2-66 2 1 1-24 2 46 2-16 2 50 1-36 2 25 2-64 2-17 1 40 1 7 2-35 2 30 1 38 3 17 0-36 2 12 0 32 3-21 2-56 2 31 1 71 3-65 2 46 1-53 1 43 2 13 3-77 1 23 2-33 1 4 1-42 3 50 1-74 3-31 1 42 2 11 2-62 2 6 1 25 1-13 2-32 1 8 3 72 1 7 1-24 4 0 1 34 1 4 1-33 2 11 3 84 0 12 1-39 4 8 1 26 1-11 3 28 2-9 0-32 2 52 1-46 4-8 1 42 2-36 1 43 3-37 1 46 1-10 2 60 1-16 2 51 1-20 3 57 1 22 1-28 2 5 2 46 2-55 2 40 1-32 3 74 0-7 2-52 1 13 3-37 1 7 1 41 3-19 2 20 2-34 1 30 2-48 1 35 3-39 1 53 3 12 1-55 3 33 1 5 2-35 2-9 1 40 2-48 1 43 2-53 3 38 2 22 1-37 1-26 3 77 1 13 1-62 1-9 2-77 2 12 2 47 1-25 3 51 2-13 2-53 0 20 3-43 0-9 3 72 1-34 2-23 2 22 1-58 2 8 2 35 2 16 2-24 3-6 0 20 2-24 0 23 3 15 1-31 2 37 2-63 2 29 2-39 0 18 3-64 2 10 2 24 2-1 1 27 1 19 1-32 3-6 1 29 2 7 2-89 1-8 1 48 3 11 2-56 1 57 2-47 2 33 2 36 0 16 3-65 3-34 1 35 1-25 1 58 2-24 2-31 2 17 2-84 2 28 1-27 1 1 2 64 2-39 2 31 2 35 2-50 1 20 1 38 1-12 3-31 2 12 2 80 1 11 2-74 2-22 1 38 1-11 3-65 1 10 2-24 1 34 3-37 1-37 2 37 1-9 2 51 2-27 1 30 2-18 0-24 4 18 1 41 1-62 2 54 2-40 3 75 1 13 1-64 1-9 1 26 5 7 1-23 0-4 2 33 3-14 1 26 1-7 2 40 1 11 3-74 1-2 2 82 1-13 2 42 2-24 1-35 3-13 2 38 1-22 2 86 1-18 1 22 3-79 2 85 1-9 1-61 3 23 1-38 1 27 2 61 4-6 1-29 0 30 2-41 2 23 2 47 1 6 2-40 2 52 1-36 3 30 2 97 0-6 3-74 1 11 2 33 2 4 2 46 1-26 1 48 2 7 1-44 2 9 2 20 2-19 2 67 1-10 1-50 2 18 2-22 2 33 3 35 1 46 2-76 3 14 1 47 1-24 2 21 0-13 2-62 2 43 0 24 4-33 2 39 2-9 2-44 0 1 3-31 0-17 1 44 5 13 1-45 1 29 2-51 2-15 1 49 1-35 3-45 0-13 2-46 2-4 2 63 2-48 2 34 1 17 0-36 4 9 1-55 1 26 3-60 1-1 2 72 1-24 2-46 2-11 2 44 1-19 3-83 0-16 2 51 3 50 2-83 1 26 2-38 2 57 2-50 1-6 1 32 2 21 2-52 1-25 2 67 2-21 0 42 3-18 1-39 3-9 2 55 0-4 3-21 3 1 0-21 2-5 1 60 2 13 3-52 0-5 2-54 1 17 1 46 4 22 1-23 2-44 2 56 1-20 0 15 4 1 1 24 4-22 0 30 1-3 2-44 2 2 1 46 2-60 2-29 3 19 1-51 2-12 1 69 1 27 1-54 3 12 0-40 3-12 1 19 2-3 3 18 0 7 3-53 1-2 2 71 2 6 2-42 1 25 3 39 0-22 2 47 2-63 1 38 2-14 2-62 3 81 1-57 1 23 2-33 2-5 1 92 1-37 3 37 1-54 1 48 2-48 3 80 2-22 2 14 1 22 2-25 1-19 2 62 1 12 1-35 3 21 1 43 3-14 2 47 0 1 2-65 1 17 1-23 4 3 2 39 1-26 1 19 2 22 1 35 3-42 1 39 2 20 2-34 2 10 2-28 0 13 3 45 3-1 1 72 0-21 1-54 2 18 2 66 2-17 2-66 1 14 3 80 1-39 2-87 3 29 1-28 1 6 1-46 3 49 2-40 0 18 3-89 1 15 2 49 2 3 2-51 0 11 2-68 2 35 0-24 4 23 2-66 2-35 2 45 1-42 1 33 1-24 2-30 3 12 1-38 1 47 3-44 1 4 3 41 1-36 2-49 2 1 1 44 2 34 2-54 0 12 3-50 1-11 2-41 2 8 1 35 2 16 1-25 3 8 1 23 4-19 0 20 2 34 1-51 2 1 2 43 1-7 2-20 1-20 3 73 0-13 2 56 3 24 2-61 1 24 2 35 2 52 1-46 3 1 0-15 1 21 1 54 3-44 3 48 0-18 2-18 1 10 3 68 1-14 1 31 3-63 2 54 2 7 1 55 1-2 2-78 1 11 2 64 2-59 1 38 3-11 2-66 1 56 3-51 0-16 1 22 2 10 3-58 1 32 2 60 3-32 1-13 1 28 3-61 1-27 2 26 0-36 1 65 4-26 2-33 2 4 1-36 1-12 2 35 2-25 2 57 1-39 2 37 1 1 2-77 1 51 3-95 2 13 1-12 2 25 0-35 3 24 2 56 1 33 1-24 2 17 2-47 2 25 2 40 1-40 2-25 1 14 2 54 2-28 2 43 1-52 3 73 1-26 3 30 0-3 2 72 1-56 2-46 2 70 2-82 2 30 2 40 2-41 1 71 1 28 1 52 3-41 1-56 2 50 3 88 1-55 1 45 2-32 3 27 1 7 2 74 1 14 2-48 2-36 2 46 1-15 2 59 1-33 3 34 0 21 1-41 4 29 1-46 2 26 1-23 3 46 1-16 1 8 2-26 1-47 2-38 1 20 2-46 2 18 3 30 1 5 0-30 3 20 2-29 1-1 2-65 1 57 3-69 1 24 2-49 2 24 1-30 3 19 2-58 0-10 3 44 0-29 3-38 1-2 2 39 1-12 1 28 3-52 2 29 1 16 1-25 2 27 1-26 3-38 2-37 3 48 1-49 1 9 1-26 2 10 3-40 2-39 1 70 2-71 2 63 1 52 1-46 2 16 1-64 2-10 3 34 0 23 3-19 2-46 2 64 0-2 2-54 3 32 1-31 3 59 1-53 0-3 2 25 2 2 3-62 0 11 2 50 4 20 1-33 0-22 2-33 4 42 0-47 1-17 2 64 1-22 3 60 1-47 1 63 2-54 3 40 1-21 2-47 1 34 3 37 0-21 3 57 1-40 2 45 2-18 1-49 1-2 1 51 3-5 1-51 2-7 3 54 2 22 1-42 1 39 1 46 3-48 2 16 2-6 2 46 1-4 2-53 2 19 2 36 2 20 0-38 2 57 2-32 2 51 2-47 1-48 2 55 2 56 2-51 0-36 2 43 1 6 3 42 3 14 1-33 0 13 3 71 1-17 3-50 1-6 1 24 2-15 1 67 3-40 2 41 3 11 0-37 1-33 2 90 1-1 3-40 1 53 2-39 1-8 2-37 2-19 2 46 2 16 2-69 0 21 3-21 3-1 0-20 1-34 2 25 2 37 1-31 2-27 2 42 2-19 1 6 2-47 0 56 3-36 1-42 2 24 3-73 2 1 1 17 1-23 3 65 1-24 2-36 1-2 2 56 2-41 1 27 2-34 3 50 1 12 2-62 1-1 2 64 1 7 3-39 0 9" stroke="#ff0000" stroke-width="15.0"/>
<path transform="scale(0.1)" d="M3975 2012l3-10 1 1 1-6 2 4 3-21 3-12 0 10 2-19 2 16 1-7 1-23 2-3 3 40 0 8 3-61 1-8 3-45 0 9 3-19 0 6 2 36 2-27 1-34 2-4 2-32 2 24 3 14 1-16 2-20 1-5 2 11 2 0 2-27 0-18 3-56 1 21 2-37 2-14 1 18 1 1 3 19 1 4 2-47 2 17 2-49 1 18 3-52 2-8 1 20 0-10 2-32 2-1 2-39 2 35 2-29 1 12 1-38 4 30 1-21 1 6 2-12 1-10 3-37 1 37 3-13 3-37 0-14 2 22 2 15 2-31 1 3 3-47 1-15 2 19 2-11 1 33 3-13 1-32 0-11 2 46 4-76 1 37 2 15 1-37 3 19 1-32 1 3 1-23 3 49 1-35 1 8 1-14 4-13 1 29 1-19 1 30 2-17 2-44 2 12 2 24 1 21 2-76 3 61 1-34 2 29 2-37 1-17 1 24 1-11 3-25 1 14 3 26 1 8 2-40 3 8 1-31 2 0 1-27 1 8 2-18 2 25 2-24 0 18 2 17 4-30 1-23 1 13 2-23 0 18 3-36 1 5 1-40 3-3 2 33 2-6 1 27 1-15 3 12 1-3 2-55 1 15 3-22 2 8 1-37 2-13 2 18 1 13 1-26 2-7 1-41 2 33 2 29 1-17 1-24 3 18 3-69 0-19 3-18 1-26 2 59 1-32 2-21 1-22 3 36 1-16 1-28 2 20 3-70 1 9 2-28 2 4 1-38 2 2 2-57 1 3 2 50 1-22 2 14 2 3 2-50 1 20 3-30 1 17 1-26 2 40 2-59 1 25 2-60 2-4 2 26 2-18 2-72 1-7 2 52 2 16 2-63 0-2 2 39 3-26 1 49 1-46 1-25 2 4 2-47 2 32 2-14 2-2 2 36 2-4 1-24 2 10 2-33 0 12 3 48 2-14 1 32 3 14 1-23 1-22 2 41 1 1 2-58 2 19 2 45 1-8 2 29 2-15 1-27 2 26 1-22 3 0 1 26 1-22 2 20 2 0 1 50 2-22 2-27 2 6 2 24 1-15 0 14 5 13 1-28 1 14 3-38 0 2 3-31 1-1 1 45 4-37 1 25 2 4 1-26 2 1 1-28 3 4 1-22 0 21 3 34 2-37 1 21 4 8 0-23 1-19 1 18 3-13 1 30 2-39 2 21 1 0 1 21 2-4 2-39 3 45 2-26 1 0 2-31 0 3 3 53 2 16 1-13 2-24 2 23 1 6 1 25 3 11 2-24 2-9 1 14 3 27 1-33 1-21 2 39 2 3 1 5 3-15 1 17 0-15 3 23 1-10 3-25 2 49 1-37 1 18 2-20 1 1 2-10 2-26 1 35 2-13 3 21 1-12 2-43 1 12 1 29 2-25 1-25 3 3 2 24 1-29 2 35 2-36 2 24 1 23 3-38 2-39 0 24 1-16 2 33 2 1 1 14 2-11 3-46 1 10 2 15 3 2 1-21 0-9 1 27 4-40 2 24 1 22 2-52 3-25 1 16 0-9 2 49 3-10 1-28 2 40 2-27 3 4 0-24 1 6 1-27 3 0 2 34 1-45 1 36 2-33 2 30 2 6 2-26 1 20 2-28 2 14 0 29 3-3 1-19 2-13 2 34 3-17 1-19 1-7 3 69 1-7 1-17 1-10 2 18 4-35 1 52 1 13 1-43 2 6 3 61 0-10 2-40 1 25 3-29 3-3 1 19 0-5 3-47 3 40 1-26 0 4 2-34 2 18 2 32 1 17 2-23 2-15 2 27 2 8 2-27 1 17 1 36 1-17 3-51 2 15 1 34 2-39 1 65 2-11 3 38 2 5 0-26 1 9 2 53 2-31 2 24 3-2 1-18 1-1 1-36 2 22 2 69 1-15 2-24 2 22 1 19 2-20 2 49 2-32 2 45 1-16 2 23 2-11 2 32 2 24 2-15 1-1 2 38 1-80 2 57 2 27 1-44 1 14 2 27 2-35 2 40 3-6 1-35 3 40 1-32 1 2 2 31 0 11 3-59 1 7 3 20 0 16 3-44 1-22 2 49 1-10 2-20 1 29 3-44 1 22 3-27 0 5 2 13 2 10 2-36 1-7 3 59 0-9 2-33 2 11 2 31 2-22 2 37 2 12 2-24 1 27 2-62 2 22 1-12 1 41 2-35 2-10 1 35 3 1 2-21 1 19 1-24 3-7 1 29 1-21 1 18 3-17 2 16 3 22 1-33 0 31 2-16 1 4 2 14 2-16 1 28 3-22 2-17 1-19 2 56 1 0 1-23 2 5 3-28 1 4 1-31 3 44 1 35 2-4 2-28 1 29 3 27 0-18 3 49 1-8 2-37 1 5 1-22 3 16 1-26 3-16 2-27 1 0 2 45 1-2 3-27 2-19 1 23 1 4 3-32 1-7 2 40 2 27 1-35 1-15 1-30 3 30 1 10 2-20 1 30 2-19 2-22 2 19 2-36 1 8 2 50 2-7 1-33 2 48 3-36 0 6 3 29 0 1 3-43 1 9 3 38 1 4 1-32 3 26 2-20 2-15 1 30 1-17 2 45 1-7 2-24 3 16 1-32 2 11 1-22 2 1 1 11 1-2 1-26 3 45 3-20 1 7 2-39 1 19 2 29 2 7 2-65 1 14 2 16 1-10 3 28 1 30 2-43 2-4 1 41 1-14 2 40 1-53 2-38 2 33 2-34 1 13 3 29 2 18 2-26 0-3 1-25 2 16 2 40 2-48 3 50 3-11 0-21 1 7 2-25 2 18 1-37 2 20 1-22 2-10 1 27 3 7 1-50 2 41 2-40 1 12 3-19 2-29 0 16 2-9 3-35 2 7 1 23 1 11 2-44 1 9 2-15 1-18 3 36 1 2 2-44 1 31 3-42 1 16 3 54 0-9 2-29 2 1 2 37 1-35 3 20 1 11 2-47 2 45 2-60 1 12 1 20 1 4 3 46 2 3 2-38 2-22 1 20 2-31 1 27 1 1 2 27 2-25 1 20 2-7 1 22 2-8 2-37 2 17 1 38 3-38 2 29 1-17 2 38 1-13 1-13 2 11 3 28 1-10 2-45 1 28 2-33 1 16 3 19 1-16 2 17 1-16 3 19 3-3 1 16 2-29 1 28 0-9 2-30 2 19 1-37 2 31 3 51 1-13 3-30 0-6 1-20 3 15 2 34 1 14 3-24 0-12 3 41 1-15 2 13 1 12 2-18 2 28 2-47 2 9 1 26 3-15 1 41 1-13 2-18 2 22 1-26 2 6 1 16 3 2 2 42 0-14 3-33 1-19 1 55 2-6 2-28 2 36 1-28 3 42 1-39 1 27 2 35 2-43 2 37 2-30 1 10 1 23 2-26 2 4 1 34 2-35 3 32 1-23 2-28 2 21 2-28 1-9 2 37 1-8 2-33 1 31 3-57 1 4 1 41 3-10 1-29 2 9 2-16 1 11 1 35 2-27 3 34 1-31 3 32 0-10 3-37 0-7 3 26 1 6 1-14 2 20 2-32 3-12 2-22 1 19 1-20 2 3 1 27 2-7 2-46 1 29 2 26 2-33 2 35 1 6 2-16 2 46 2-52 1 23 3-27 1-7 1 23 2 37 0-60 4 41 1-15 3 14 1 17 2-1 1-23 4-7 0 27 1-21 2 40 2-22 2-16 0-3 3-50 1 27 3 55 2-21 1 20 2-13 1 42 3-29 1 21 0 5 2-34 2 8 2-20 3 24 1-30 1 21 3-39 0 14 2 35 2-45 2 30 1-17 1 17 2-8 3-37 1 32 1-27 2 1 3-26 1 9 2 30 2-7 2-37 1-9 2 47 2-31 2 33 0 2 2-30 1-6 3-22 1 9 2-33 3 62 1-34 1 12 1-46 2 41 2 34 1-2 3-73 2 17 1 32 3-9 1 33 2 9 2-32 1 23 0-40 2 2 2 39 3-44 1 11 1 7 2 18 2-7 0 23 4-50 2 27 0 24 2-34 3 5 1 20 2 22 2-56 1 10 3 47 0 3 1-37 3 26 1-27 2-8 1 15 2 0 2 39 3-54 1 46 2-10 2-35 0 8 3 26 1 23 1 30 2-46 1 25 3-55 2 21 2 23 1-34 3 47 1-36 1 13 0 12 3 7 1 23 5-22 1-29 0-22 2 35 1 3 1-29 3 31 3-18 0-5 3-20 1 16 2-35 2-16 1 25 3 21 1-45 1 8 2 48 1 11 2-49 2-2 2 15 1-26 1 18 2 14 2-34 2 5 2-55 2 28 1-10 2 9 3 34 2-15 1-18 1 48 2-39 1 1 3 19 0-13 1 20 4-30 1 49 1-11 1-18 3 13 2-40 1-23 3 79 1 13 2-61 2-7 2 29 2-12 1 10 1-9 1 27 3 31 2-38 1-36 1 27 3-1 1 18 1 5 3 27 1 24 1-38 2 7 1 18 4-11 1-26 2 27 1-35 2 19 2 14 1-45 2 38 1 19 2 34 1-12 2 50 2-18 3-30 0 6 2 35 2 10 2 21 2 4 1-17 2 23 2-26 1 1 2-13 1-14 2 17 3-13 0-22 2 23 3-23 0-21 2 27 3-8 0-17 2-9 1 44 2-50 2 34 2-9 2-41 3 27 1-25 1 8 2-24 1 17 1 23 2-21 3-56 1 8 3 33 1 39 2-69 2 35 1-24 1 1 2 30 2-20 1 22 2-13 2 22 2 12 2-27 1-2 3-26 2 40 1-5 2-55 3 19 2-19 0-13 3 28 2 15 1-29 3-24 1 45 1 12 2-36 1 25 3-24 2-34 1 33 1-13 2-12 1-26 3 36 0 4 3 40 3 10 1-39 0 6 2-29 2 37 2-41 1 41 1-19 2-3 1 27 3-8 3-24 1-32 2 27 3-5 1-12 1 17 1-46 1 20 3 41 1-14 3 40 0-3 2-34 3-4 1 41 2-2 1-27 1 27 3-58 1 48 1-42 3 25 0-16 3 37 2-37 1-12 2 27 1-31 3 50 1-16 2-41 3-2 1 20 3-44 1 59 1-52 1 52 2-24 2 39 2-27 2 22 0-14 2-30 2 8 3 39 1-11 2 33 0-11 3-50 2 14 2-31 1 30 2-17 1 21 2-39 2 44 0-18 3 31 2-34 1 2 1 35 3-39 2 23 2-6 2-53 0 2 1 28 4-44 1 40 2 10 2-24 1 25 0-23 3-4 2 31 2-29 1 19 1 6 3-64 1-7 3 36 0 8 2-74 2 8 3 37 1-13 1 13 1-23 2-26 4 42 1-17 2 37 1-63 1-10 2 41 2-20 1 26 2 25 2-36 2 15 2-26 0 36 2-46 2-8 2 24 2-35 1 39 2 8 1-15 2 22 2-40 3-1 1 17 1-27 1 15 3-31 0 26 2-15 3 29 1-33 1 24 2-4 2-25 3 13 1 32 1-30 2-29 2 58 2-28 2 6 2 24 0 28 3-47 1 13 1 39 2-29 2-27 1-4 3 68 1-16 3-32 1-14 1 28 2-16 1 27 3-5 1 37 1-14 3-37 2-24 2 33 0-22 1 54 3-35 2 45 1-32 2-14 2-9 1 29 3-22 2 23 2 8 1-26 2-41 1 21 3 20 1-24 1-1 2 25 1-3 3 22 0-11 2 29 2-17 3 40 0 1 3-30 0 18 3-31 2 21 2-33 1-15 2 63 2-23 2 24 0-15 2-32 1 21 3 37 1 1 2-51 2 18 2-20 2-16 2 41 1-14 1 28 1-6 3-25 1 10 2 33 2-20 2 26 2-34 1 25 1-29 2 21 3 1 0-17 2 9 2-38 1 17 1 18 3-14 1-24 3 10 2-31 0-5 1-14 4 15 1-27 1-3 3 61 1 9 3-37 2 38 1-49 1 9 0 17 4 7 1-36 2 32 1-37 2-7 1 34 3-33 2-20 2 26 1-31 2 2 1 42 1-13 3-21 2 1 2-23 1-1 2 16 0-4 3-37 2-2 2 19 1-22 2 29 1-15 3-14 0-16 2 21 1 1 1 14 3-1 1 23 2-15 3-37 1 7 2 23 2 32 0-19 2-8 1-28 5 46 1-39 0-1 2-41 3 34 2-29 0-5 2 22 1 3 2 37 3-1 1-42 2 35 2-64 1 1 2 16 2-32 2 43 2 9 1-20 2 9 2 54 0-13 1-52 3 1 1 70 4-4 1-33 1-13 1 24 3 30 2-41 2-18 1 23 3-10 1 23 1 15 0-25 2 10 1-30 3 18 2 55 3 15 1-37 1-18 2 41 2-13 1 28 2-50 2 51 1-2 1-34 3 27 2-40 1 1 1-40 3 19 1 31 1-14 3 25 1-12 2-30 1 38 3-26 3 29 1 34 1-14 2-32 1 10 2-12 1 7 3-14 1 4 0-25 3 14 1 21 2-11 1-60 2 34 2 34 2-18 1-30 3-13 2 27 3 36 1-30 0-4 3 36 0-18 3-29 1-1 2 21 3-3 1-19 2-1 1-23 1 14 2 41 2-10 1-27 3 6 2-27 0 4 3 55 1-59 2 31 1-9 2 30 3-44 1 36 3-10 0-12 1 17 2-51 2 16 2 40 1-7 3 14 0 2 2-44 4 17 0-18 2 32 2 48 1 9 2-57 3 14 1 26 1-22 2 30 1-38 3 29 1 2 1-22 2 10 2 43 1-24 1-18 3 17 2 27 1-22 2 27 2-43 1 21 2-18 3 33 0 11 3-59 0-18 3 38 1 32 3-21 0-29 3 22 1 4 1 35 3-5 2-29 1-1 1 20 2-8 0 13 4-23 1 29 3-37 1 26 3-4 1-18 1-35 1 48 2 1 2 29 2-2 1-37 3 12 2 11 1-22 2 24 0-12 3 32 2-24 1 29 3-39 1 48 3 12 0-14 1 1 3-23 1-1 1 35 3-32 1 19 1 10 3 33 3 16 0-19 3 3 1 22 2-5 1 28 1 19 2 13 3-41 1 31 1-13 1 16 3 7 1 33 2 1 2-23 2 16 2-29 2 7 0 10 2 3 3-32 0 13 3 16 2-4 1 22 1-10 2 29 1 7" stroke="#008000" stroke-width="14.5"/>
</g>
<rect x="586.6" y="166.6" width="91.60000000000002" height="41.599999999999994" rx="1.5" fill="#fff" fill-opacity="0.8" stroke="#d6d6d6" stroke-width="0.7"/>
<line x1="589.4" y1="173.6" x2="608.6" y2="173.6" stroke="#0000ff" stroke-width="1.3"/>
<text x="615.10" y="176.90" font-size="9.0" text-anchor="start" textLength="59.55" lengthAdjust="spacingAndGlyphs" >Deterministic</text>
<line x1="589.4" y1="186.7" x2="608.6" y2="186.7" stroke="#ff0000" stroke-width="1.3" stroke-dasharray="5.2 2.3"/>
<text x="615.10" y="190.00" font-size="9.0" text-anchor="start" textLength="53.27" lengthAdjust="spacingAndGlyphs" >White Noise</text>
<line x1="589.4" y1="200.0" x2="608.6" y2="200.0" stroke="#008000" stroke-width="1.3" stroke-dasharray="8.7 2.2 1.4 2.2"/>
<text x="615.10" y="203.30" font-size="9.0" text-anchor="start" textLength="48.37" lengthAdjust="spacingAndGlyphs" >Lévy Noise</text>
<rect x="384.2" y="15.2" width="298.2" height="197.60000000000002" fill="none" stroke="#000" stroke-width="0.75"/>
<line x1="397.8" y1="212.8" x2="397.8" y2="215.9" stroke="#000" stroke-width="0.75"/>
<text x="397.80" y="226.00" font-size="9.0" text-anchor="middle" textLength="5.16" lengthAdjust="spacingAndGlyphs" >0</text>
<line x1="451.96" y1="212.8" x2="451.96" y2="215.9" stroke="#000" stroke-width="0.75"/>
<text x="451.96" y="226.00" font-size="9.0" text-anchor="middle" textLength="10.32" lengthAdjust="spacingAndGlyphs" >20</text>
<line x1="506.12" y1="212.8" x2="506.12" y2="215.9" stroke="#000" stroke-width="0.75"/>
<text x="506.12" y="226.00" font-size="9.0" text-anchor="middle" textLength="10.32" lengthAdjust="spacingAndGlyphs" >40</text>
<line x1="560.28" y1="212.8" x2="560.28" y2="215.9" stroke="#000" stroke-width="0.75"/>
<text x="560.28" y="226.00" font-size="9.0" text-anchor="middle" textLength="10.32" lengthAdjust="spacingAndGlyphs" >60</text>
<line x1="614.44" y1="212.8" x2="614.44" y2="215.9" stroke="#000" stroke-width="0.75"/>
<text x="614.44" y="226.00" font-size="9.0" text-anchor="middle" textLength="10.32" lengthAdjust="spacingAndGlyphs" >80</text>
<line x1="668.6" y1="212.8" x2="668.6" y2="215.9" stroke="#000" stroke-width="0.75"/>
<text x="668.60" y="226.00" font-size="9.0" text-anchor="middle" textLength="15.48" lengthAdjust="spacingAndGlyphs" >100</text>
<line x1="381.09999999999997" y1="27.4" x2="384.2" y2="27.4" stroke="#000" stroke-width="0.75"/>
<text x="377.80" y="31.00" font-size="9.0" text-anchor="end" textLength="12.90" lengthAdjust="spacingAndGlyphs" >1.2</text>
<line x1="381.09999999999997" y1="61.88" x2="384.2" y2="61.88" stroke="#000" stroke-width="0.75"/>
<text x="377.80" y="65.48" font-size="9.0" text-anchor="end" textLength="12.90" lengthAdjust="spacingAndGlyphs" >1.0</text>
<line x1="381.09999999999997" y1="96.36" x2="384.2" y2="96.36" stroke="#000" stroke-width="0.75"/>
<text x="377.80" y="99.96" font-size="9.0" text-anchor="end" textLength="12.90" lengthAdjust="spacingAndGlyphs" >0.8</text>
<line x1="381.09999999999997" y1="130.84" x2="384.2" y2="130.84" stroke="#000" stroke-width="0.75"/>
<text x="377.80" y="134.44" font-size="9.0" text-anchor="end" textLength="12.90" lengthAdjust="spacingAndGlyphs" >0.6</text>
<line x1="381.09999999999997" y1="165.32" x2="384.2" y2="165.32" stroke="#000" stroke-width="0.75"/>
<text x="377.80" y="168.92" font-size="9.0" text-anchor="end" textLength="12.90" lengthAdjust="spacingAndGlyphs" >0.4</text>
<line x1="381.09999999999997" y1="199.8" x2="384.2" y2="199.8" stroke="#000" stroke-width="0.75"/>
<text x="377.80" y="203.40" font-size="9.0" text-anchor="end" textLength="12.90" lengthAdjust="spacingAndGlyphs" >0.2</text>
<text x="533.30" y="10.00" font-size="11.0" text-anchor="middle" textLength="99.37" lengthAdjust="spacingAndGlyphs" >Comparison for Eh</text>
<text x="533.30" y="239.10" font-size="9.0" text-anchor="middle" textLength="21.20" lengthAdjust="spacingAndGlyphs" >Time</text>
<text x="358.90" y="115.70" font-size="9.0" text-anchor="middle" textLength="10.83" lengthAdjust="spacingAndGlyphs" transform="rotate(-90 358.90 115.70)" >Eh</text>
<text x="510.40" y="269.90" font-size="16.5" text-anchor="middle" style="font-family:'Liberation Serif', serif;fill:#111;stroke:none">(</text>
<text x="517.20" y="269.40" font-size="15.5" text-anchor="middle" textLength="7.60" lengthAdjust="spacingAndGlyphs" style="font-family:'Liberation Serif', serif;fill:#111;stroke:none">b</text>
<text x="523.60" y="269.90" font-size="16.5" text-anchor="middle" style="font-family:'Liberation Serif', serif;fill:#111;stroke:none">)</text>
<clipPath id="clipc"><rect x="34.0" y="296.5" width="298.3" height="197.5"/></clipPath>
<g clip-path="url(#clipc)" fill="none" stroke-linejoin="round" stroke-linecap="butt">
<path transform="scale(0.1)" d="M475 4740l3-4 4-4 3-4 4-4 3-4 3-4 4-4 3-4 3-4 3-5 3-4 3-4 4-4 3-4 3-4 3-4 3-5 3-4 3-4 2-4 3-4 3-5 3-4 3-4 3-4 2-5 3-4 3-4 2-4 3-5 3-4 2-4 3-5 2-4 3-4 2-5 3-4 2-4 2-5 3-4 2-4 2-5 3-4 2-4 2-5 3-4 2-5 2-4 2-5 2-4 2-4 3-5 2-4 2-5 2-4 2-5 2-4 2-5 2-4 2-5 2-4 2-5 1-4 2-5 2-4 2-5 2-4 2-5 1-4 2-5 2-5 2-4 1-5 2-4 2-5 2-5 1-4 2-5 2-4 1-5 2-5 1-4 2-5 2-5 1-4 2-5 1-4 2-5 1-5 2-5 1-4 2-5 1-5 2-4 1-5 1-5 2-4 1-5 2-5 1-5 1-4 2-5 1-5 2-5 1-4 1-5 2-5 1-5 1-4 2-5 1-5 1-5 1-4 2-5 1-5 1-5 2-5 1-4 1-5 1-5 2-5 1-5 1-4 1-5 2-5 1-5 1-5 1-5 2-4 1-5 1-5 1-5 1-5 2-5 1-5 1-5 1-4 2-5 1-5 1-5 1-5 1-5 2-5 1-5 1-4 1-5 2-5 1-5 1-5 1-5 2-5 1-5 1-5 1-5 2-5 1-5 1-4 1-5 2-5 1-5 1-5 1-5 2-5 1-5 1-5 2-5 1-5 1-5 2-5 1-5 1-5 2-5 1-5 1-4 2-5 1-5 2-5 1-5 1-5 2-5 1-5 2-5 1-5 2-5 1-5 2-5 1-5 2-4 2-5 1-5 2-5 1-5 2-5 2-5 1-4 2-5 2-5 2-5 1-5 2-4 2-5 2-5 2-4 2-5 1-5 2-5 2-4 2-5 2-4 2-5 2-5 2-4 3-5 2-4 2-5 2-4 2-5 2-4 3-5 2-4 2-4 3-5 2-4 3-4 2-4 3-5 2-4 3-4 2-4 3-4 2-5 3-4 3-4 3-4 2-4 3-4 3-4 3-3 3-4 3-4 3-4 3-4 3-3 3-4 4-4 3-3 3-4 4-4 3-3 3-4 4-3 3-3 4-4 3-3 4-3 4-4 3-3 4-3 4-3 4-3 4-3 4-3 4-3 4-3 4-3 4-3 4-3 4-2 5-3 4-2 4-3 5-2 4-3 4-2 5-2 4-3 5-2 4-2 5-2 5-2 4-2 5-1 5-2 4-2 5-1 5-2 5-1 4-1 5-2 5-1 5-1 5-1 5-1 4-1 5-1 5-1 5-1 5-1 5-1 5-1 5 0 5-1 5-1 4 0 5-1 5-1 5 0 5-1 5 0 5-1 5 0 5-1 5 0 5-1 5 0 5 0 5-1 4 0 5 0 5 0 5-1 5 0 5 0 5 0 5 0 5 0 5 0 5 0 5 0 5 0 5 0 5 0 5 0 5 0 5 0 4 0 5 0 5 0 5 1 5 0 5 0 5 0 5 0 5 1 5 0 5 0 5 1 5 0 5 0 5 1 5 0 5 0 5 1 5 0 5 1 5 0 5 0 5 1 5 0 5 1 5 0 4 1 5 0 5 1 5 0 5 1 5 1 5 0 5 1 5 0 5 1 5 1 5 0 5 1 5 0 5 1 5 1 5 0 5 1 5 1 5 0 5 1 5 1 5 0 5 1 5 1 5 0 5 1 5 1 5 0 5 1 5 1 5 0 5 1 5 1 5 1 5 0 5 1 5 1 5 0 5 1 5 1 5 0 5 1 5 1 5 1 5 0 4 1 5 1 5 0 5 1 5 1 5 0 5 1 5 0 5 1 5 1 5 0 5 1 5 1 5 0 5 1 5 0 5 1 5 1 5 0 5 1 5 0 5 1 5 0 5 1 5 0 5 1 5 0 5 1 5 0 5 1 5 0 5 1 5 0 5 1 5 0 5 1 5 0 5 1 5 0 5 0 5 1 5 0 5 1 5 0 5 1 5 0 5 0 5 1 5 0 5 0 5 1 5 0 5 1 5 0 4 0 5 1 5 0 5 0 5 1 5 0 5 0 5 1 5 0 5 0 5 0 5 1 5 0 5 0 5 1 5 0 5 0 5 0 5 1 5 0 5 0 5 0 5 1 5 0 5 0 5 0 5 1 5 0 5 0 5 0 5 0 5 1 5 0 5 0 5 0 5 0 5 1 5 0 5 0 5 0 5 0 5 0 5 1 5 0 5 0 5 0 5 0 5 0 5 0 5 1 5 0 4 0 5 0 5 0 5 0 5 0 5 0 5 1 5 0 5 0 5 0 5 0 5 0 5 0 5 0 5 0 5 0 5 0 5 1 5 0 5 0 5 0 5 0 5 0 5 0 5 0 5 0 5 0 5 0 5 0 5 0 5 0 5 0 5 0 5 0 5 1 5 0 5 0 5 0 5 0 5 0 5 0 5 0 5 0 5 0 5 0 5 0 5 0 5 0 5 0 5 0 5 0 5 0 5 0 5 0 5 0 5 0 5 0 5 0 5 0 4 0 5 0 5 0 5 0 5 0 5 0 5 0 5 0 5 0 5 0 5 0 5 0 5 0 5 0 5 0 5 0 5 0 5 0 5 0 5 0 5 0 5 0 5 0 5 0 5 0 5 0 5 0 5 0 5 0 5 0 5 0 5 0 5 0 5 0 5 0 5 0 5 0 5 0 5 0 5 0 5 0 5 0 5 0 5 0 5 0 5 0 5 0 5 0 5 0 5 0 5 0 5 0 5 0 5 0 5 1 5 0 5 0 5 0 5 0 5 0 5 0 5 0 5 0 5 0 5 0 5 0 5 0 5 0 5 0 5 0 5 0 5 0 5 0 5 0 5 0 5 0 5 1 5 0 5 0 5 0 5 0 5 0 5 0 5 0 5 0 5 0 5 0 5 0 5 1 5 0 5 0 5 0 5 0 5 0 5 0 5 0 5 0 5 1 5 0 5 0 5 0 5 0 5 0 5 0 5 1 5 0 5 0 5 0 5 0 5 0 5 1 5 0 5 0 5 0 5 0 5 0 5 1 5 0 5 0 5 0 5 0 5 1 5 0 5 0 5 0 5 1 5 0 5 0 5 0 5 1 5 0 5 0" stroke="#0000ff" stroke-width="14.0"/>
<path transform="scale(0.1)" d="M475 4719l3-26 1-5 3-18 0-3 3-41 1 0 3-47 1 8 2-25 2 2 1-55 2 22 2-29 1 15 2-31 1 1 2 13 3-1 1 39 1 29 2-73 2 48 2-60 0-2 2 18 3-51 1 29 2 13 1-46 3-4 1 46 1 8 2-11 1 39 1-32 4-20 1 89 1-34 3-64 2-21 1 41 1-6 2 48 3-24 0 18 2-40 3 38 1 31 2-72 1 8 2-46 1 6 2 39 3-1 1-34 2 16 1 60 2-15 2-37 1-17 2 41 1 10 1-26 3-29 2 44 2-33 1 28 1-7 3-65 2 14 1 20 1-19 2-45 3 36 1-25 1-41 1 55 2-12 3 25 1 16 1-15 2 6 2 59 1-28 3-57 2 33 1-29 2 34 0-31 4 57 1-26 1-32 2 61 1-49 2 36 2-32 1-50 2 64 2-37 3-6 1 20 1-34 2-56 1 52 1 57 3-24 3-36 0 6 3 34 1-10 2-62 2 29 1-38 1 25 2 64 3-36 1 52 2-36 1 29 2-24 1 34 2-25 2 52 2-106 2 81 1 47 2-35 2 15 1-49 2-1 2-46 3 68 1-61 0 9 3-62 1 13 3 38 1 27 2-74 1 14 2 41 1-9 2 48 3 0 1-75 1 5 3-65 1 25 2-91 1 21 1 52 2-25 1-51 2 29 3-51 1-12 2-31 2-22 2 37 1 1 2-40 2-36 2 73 0 5 3-84 1 56 3-99 2 41 0-46 2 39 2-36 1-17 2 17 1-50 3 53 1 13 2-90 2-8 2-79 1 1 1-29 4-27 1 64 1 32 2-59 1 4 3 40 0-7 3-56 1 23 2 88 1-13 1-56 5 47 0-18 1 15 3-63 1-27 2 73 1-16 2-56 2 32 0-51 3 43 1 35 2-50 1-35 3 12 2 69 2-3 1-47 1 46 3-82 2-36 1 72 1 17 3-43 2-37 1 58 1 3 1-68 2 5 3 84 2-63 1 71 1 20 3-51 0-9 3-26 1 16 1-62 2 30 2 55 2-42 1 37 2-14 1 50 4-32 1 46 1-27 2 46 1-39 2 43 2-36 2 32 1 0 2-38 1-19 3-105 1 21 2-38 1 30 1 49 3-85 1 61 2-22 2-46 1 24 3-85 1 21 2-75 2 66 2-43 1-5 1-37 3 54 2-50 0-15 3-84 1-2 2-33 2 18 1 61 1-27 2 38 3 5 2 51 0-14 3-31 3 15 0 21 1 72 2-49 1-6 3-62 1-3 3 54 2-89 2 14 2-81 1 30 2-57 3 84 1-55 1 1 3 32 1 24 2-44 2-32 1 41 2-7 0 13 4 8 1-65 1-8 1 33 4-12 1 41 1-34 2 39 1-26 2-43 1 25 1 27 3 62 2-46 1 61 3-74 1-1 2 87 1-28 1-50 2 45 1-45 3 26 0 37 3-31 2-38 2 17 2-58 2 31 1-24 3 14 1-22 1 7 2-44 2-30 2 54 1 4 2-46 1-3 2 63 1-51 3-42 2-22 2 51 1-16 1 19 2 2 1-26 3 8 1 72 1-4 2-81 3 60 1-51 1 29 3-66 1-24 1 40 2-45 3 33 0 13 3-61 2 30 2-23 0-7 2-48 2 24 2 40 1-1 3-34 1-11 1-50 2 20 3-69 1-20 1 57 2-12 2-22 2 10 2-27 0 29 3-106 2 31 1-58 1 22 3 81 1 23 2-50 2-52 2 50 0-31 3 103 1 15 2-39 2-42 2 69 1 16 2-42 1 13 2 51 2 3 2-52 1 14 1 59 3 1 2-26 1 23 2 26 2-46 2 56 2 13 1-37 1-13 3 45 1-52 2 54 2 25 1-33 2-19 2 57 2-55 1 44 2-24 1 48 2-12 2-26 1 40 2-51 2 15 2 46 0-36 1-42 4 33 2 61 2-16 1 32 3 41 0-47 3-16 1-32 1 57 2-53 2-2 2 44 0-6 1 19 4 36 1-47 2 35 0-33 2 10 3 47 3-24 1 44 1-12 2 59 1-20 1 30 3 8 1-50 2 38 1-24 2 11 3-110 1 19 2-69 1 6 2 48 1-19 0 14 4-40 2-35 1 9 3-73 2-10 1 69 1 22 2-44 1 5 3-65 1-6 2 84 1-31 3 44 0-9 3-34 1 10 1 36 2-43 2 61 1-4 3-44 1 7 2-34 2 11 2 30 1 11 2 48 1-6 2-40 1 22 2-36 4-4 1 38 1 61 2-73 1-8 1-24 2 0 3-26 0 28 3 56 1-18 3-84 0-34 3 79 1-9 1-39 3 9 2-69 2 58 1-73 1-28 2 65 1-7 3 29 1-54 2 61 1-40 2 77 1-20 3 59 1-25 2-31 1 35 3 56 1-50 1 31 3-8 2-37 0-6 3 12 2-27 1 28 3 36 1-43 1-16 2 49 1-59 2 47 1-37 3 94 2-35 1-48 2 15 2-29 1 32 2-93 1 36 2-56 2 32 1-64 3 14 1 76 1-3 3-52 1-1 0-27 3-11 3 74 1-3 2 34 1 2 3 26 0 22 2-32 3-8 0 51 2-31 2-42 3 49 0 43 2-22 3 78 0 7 3-78 1 16 2 28 1 7 3 42 2 29 0-37 2 47 2 28 1-5 3 41 1-18 1-49 2 28 2-47 2 24 2-30 2-28 2 68 1-2 2-33 1 30 2 29 2-54 2 49 1 28 2-67 2-28 2 47 0-13 3-65 1 7 2 27 1-28 2 47 3 14 1-30 2 10 2-40 0 36 2-40 2-6 2 72 2-8 1-17 3 10 1-34 1 39 2-50 2 53 1-57 3 22 1 35 2 11 1 34 2 29 1-78 4-5 1 49 2-27 1-31 1-10 2 63 1-17 3 41 2 20 1-74 1-21 2 50 2 30 2-59 1 5 1-55 3 58 2-42 0 61 2-38 4 46 1-49 1-36 2 38 1-22 2 34 1-47 2 50 2-52 1 32 2 9 1-39 3 31 2 66 1-18 2-33 1-31 2-50 1 10 1 59 4 35 1-59 2 5 2 79 1-49 2 33 1 5 1 32 3 9 2-50 1 32 1-66 2 44 1-45 3 46 1 41 2-8 1 53 2-46 2 28 2-24 2 59 1-1 3-39 1 26 2-54 2 1 1 24 2-11 0-29 3 20 3-51 1-13 2 77 2-16 1 25 2-21 2-37 2 35 0-26 2 1 3 51 0-8 2-52 2 69 2-53 1 0 1-56 3-14 0 26 4-28 1 57 1-16 3-79 1 9 2-34 1 17 2 49 3 13 1-44 2 74 2-34 1-21 2-45 2-5 1 55 2-16 0 38 5-63 0 45 2-68 2 16 1 26 2-32 1 0 0 30 3-10 3-74 1-12 2 52 1 21 1-50 4-6 1 42 1 26 2-22 1 26 3 53 0 15 2 37 2-2 2-32 2 26 2 39 2 20 1-35 2-24 1 41 2-15 2-67 1 26 2-38 2 69 2-48 2-30 1 41 2 13 1-44 1 16 1 55 3-35 1-72 2 24 3-44 1 8 2-97 2 11 2-52 0-3 2-36 2 13 2 55 2-51 2 90 1 0 2-49 1-22 3 47 0-24 3 43 1-2 1-51 4 62 1-68 1-13 2 62 1-44 0 58 3-13 2-56 3 25 1 67 1-10 3-36 2 43 1-49 1 25 3-52 0-22 3 28 1-14 1 54 3-47 2 56 1 52 2-49 2 40 1-43 2 23 2 45 2-6 1-38 1 36 2 28 2 10 1 31 4 13 1-47 0-15 3 100 2 37 2-60 1-11 2 44 1 14 1-32 2-31 3 94 1-25 2 38 1-27 2 46 2 21 2-46 2-3 1-23 1 15 2 49 3 0 0-23 3-32 2 42 1 23 2-28 1 35 2-36 1 35 3-48 0-27 1 34 4-53 1 86 1-28 3-78 1 18 2 35 1 10 2-65 1 37 3-55 2-32 2 56 0 1 2 49 2-53 2 57 1-31 3 34 0 14 2-54 2-21 1 34 2-33 3-36 1 42 2 58 2-60 1 62 3 6 1-31 1 0 2 52 2-37 2 32 1-18 1 58 2 12 2-45 2 58 2-42 1 69 3-73 0-25 3 53 1-3 2 27 1-5 3-43 1-17 2 50 2-6 1-41 1-13 1 44 3-60 2-42 2-21 2 24 1-24 2 33 2-38 2 49 1 32 2-47 1 33 2-72 2-10 2 81 0-12 2-64 2 21 2-33 1 19 3 42 1-14 1 56 2-72 1 65 3-29 2-85 1 22 1 45 2-40 3-29 1-13 2 62 2 31 2-57 2 31 1-24 1-38 2 42 2-36 2 36 1-28 2 49 1-19 3-33 0-31 3-30 1 13 2 49 1 1 2-46 2 7 2 63 1 25 2-55 2 33 2-30 2 3 1-58 3 7 1 48 1-26 1 23 2-10 3 23 1 24 2-43 1-27 3 17 1-31 1 36 2-61 2 74 1-18 1-55 4 5 1 46 2 43 1-88 3 28 1 41 1 8 2-35 1-6 3 47 1 4 2-51 1 17 3 72 1 11 1-16 2-10 2 43 1-41 2 38 2 15 2-45 1 52 3-54 0 31 2 48 2-17 1-18 2 6 1 31 2 4 2 19 2-32 3 33 1 6 1 26 3 9 1-66 2 25 1-44 3-39 1 55 1 8 1 54 3-79 2 125 1-40 2 65 1-2 2-30 1 27 2 85 2-61 2 50 1-24 3-32 1 45 2-33 1-6 3 66 1 59 1-61 3 42 2 36 0-13 3-47 1 32 2 45 1 21 3-98 1 12 2 62 3 13 0-52 2-9 1 35 2-19 1 26 2-65 2 35 2-3 2-52 1-31 3 48 1 74 2-42 2 28 1-83 1 13 2 36 1-20 3-83 1 30 0-44 4 45 2-63 2 51 0-30 2 23 1 32 5-43 0 23 1 15 3-66 2 37 1-46 1 71 2-59 3-14 1 31 0-10 2-53 2-36 1 57 2-29 3 51 1-27 1-32 2-29 2 60 1-11 2-29 2 25 2-54 3-20 1 22 1 27 1-38 3-61 2 80 1-48 2 49 1-6 3-30 1 10 2 43 1-9 0-33 3 20 2-64 1 30 3-42 1-17 3 54 0 12 3-59 1-13 2 62 1-20 1-43 2 41 3-42 2 52 2-57 1 39 1-41 2 20 1 65 2-62 2 47 3-51 1 43 1 9 1-62 2 24 2-47 3 7 1 54 2 3 1-52 1 1 3 44 1 7 3 92 1-71 2 45 1 21 2-47 1 34 2-36 1 6 2 46 2-15 3 63 0-2 3 26 2-33 1 26 2-17 1 61 3 25 1-23 2 63 1-47 2 35 2-39 1-5 1 48 2-16 2-25 2 32 2-30 2-10 2-26 1 49 1-68 3 36 1-39 1 2 2 63 2-51 1 31 2 27 3-41 1-15 2 80 1-20 2-50 2 31 1-30 3-1 1 46 2-66 2 55 0-16 3 62 1-27 0-41 4 89 1-50 2-6 1-24 2 33 1-41 3-4 1 59 2-51 2-47 1-25 3 74 2-21 1 33 1-28 3 48 0-30 2-37 2 36 2 61 1-2 3-57 2 57 4-37 1 35 1-8 2 48 2-36 1 39 1-2 3-52 1 9 2-84 1 5 1 34 3 12 1-36 2 17 2-54 2 40 2-34 2-15 1 23 1 0 2 41 3-18 1-30 2-34 1 25 1-43 2 50 2-14 0 20 3-11 2-62 2 6 2-50 1 5 1-29 2 24 2-37 3 50 1-41 2-32 1 32 1-26 1 73 3-62 2 49 1-24 1 67 4 13 1-63 1 48 3-52 1-18 2 41 2-48 1 49 1 33 2-25 1-14 3-67 2 31 1-23 2 23 1-70 2 8 2 32 1-8 3-58 0 16 2 75 2-40 2-48 1 8 1-45 3 24 2 35 1-35 2 47 1-26 3-46 2 20 1-47 2-1 2 39 1-27 2 74 1-9 3-45 0 26 1 26 3-23 2-68 2 46 2 72 1-22 2-24 1 16 2-59 2 23 2 36 2 26 1-38 1 39 3-42 2-20 1 31 1-10 2 68 3-70 1 47 1-8 2 46 2-38 1 56 2-38 2 34 1 6 1-60 3 84 2-37 1 22 2 56 1-8 2-79 3 25 1 71 1 5 2-22 3 88 1-66 1 18 1-17 2-4 2 17 2-41 2 82 1-30 2 43 1-30 3-25 1 15 2 40 3-22 1 60 1 16 2-31 1 23 1 25 3 21 1-35 2 42 2-28 1 36 3-63 1-23 2 52 2-26 0 48 2 2 2 34 2-4 1-46 4 36 1-41 1 29 2-72 2 13 0-25 4 30 1-27 1 17 3-80 1 13 0-38 3 14 2-50 2 51 2-54 0 2 3 37 2 0 1 58 1-22 1-65 4 59 1 42 1-5 3-95 1-5 2 55 3 6 1-82 0 17 2 76 3-20 1 29 2 14 1-37 1 17 3 68 3-51 1 50 1-11 1 44 3 15 1-35 1-12 3 31 0 19 3-39 3 3 1 39 2 38 1-59 1 17 2 31 1 2 1-20 4-22 1 52 1-3 1-33 3 33 2-45 1-9 2 92 1-24 1 48 3-36 1 28 2 2 2 51 1-63 3-39 1-9 1 23 2-1 2-60 2 56 2-76 1 10 3-47 0 5 3-53 1 13 1 57 2-27 3-49 1 12 0-27 4 7 1 22 2-18 1-44 2 52 2-71 3 46 1-54 1 3 1-55 3-12 1 80 2-39 2-31 2 31 0-35 2 18 2 28 3 33 1-42 1-58 2 41 1-20 1 40 3-11 2 24 2-41 1 38 2-25 2 33 3-3 1-29 0-1 3 46 1-68 0-45 3 2 3 51 2 34 1-26 2-58 1 44 3-2 1-25 1 7 1 17 2 6 3 46 1-1 2-33 2 12 2-26 3 7 0 44 2-43 1 47 1 35 3-83 1-6 2 74 1-26 3 45 0-50 2 62 3-33 1 50 2 28 1-23 1-31 3 116 1-9 3-43 2 10 1-46 1 2 2-46 2 15 1-27 1 4" stroke="#ff0000" stroke-width="15.0"/>
<path transform="scale(0.1)" d="M475 4742l3 12 1 1 3 13 0 2 3 13 1 0 3 16 1 0 1 20 3-26 1 34 1-21 3 21 1-23 1 30 3-9 2 19 0-4 3-43 1 38 1 18 2-11 3-40 1-17 2 38 2 3 2-36 2 1 1-31 2-8 1 23 2-19 2 32 1 10 1-67 2 11 1 33 2-44 3 36 1 6 2-21 2 23 1-48 2-3 2 28 2-18 1-24 2 61 2-60 2 4 1-25 2 9 2-38 1 20 1-27 2 2 1 30 3 2 2-31 1-4 2 29 2-7 1-28 2 3 2-39 1 15 2-22 3 1 1-35 2 22 1-40 2-16 2-43 0 5 2 42 2-27 1 32 4-41 1-27 1 13 2 63 1-18 1 21 3-14 0-13 3-19 3 20 2 11 1-27 2 23 1-33 1 12 2 38 2-40 2 16 1 0 3-49 1-5 2 45 1-1 1-19 2 34 3-55 0-22 2-31 3 17 2-29 1-20 2 16 1-1 1 16 4-24 1 37 0-37 2-28 2-14 3 41 0-5 3-67 1 19 2-40 1 6 2 33 2-18 2 32 1 13 3-48 1-17 2 29 1-9 2-36 1 8 2 28 3 4 1-21 1 13 1-38 3-4 2-26 1 5 2 15 1 13 3-48 1 13 1-26 2 13 2-27 4 14 0-16 2-25 1 20 1 12 2-37 2 18 1-35 2 25 3-35 1 0 2-27 1 21 2-35 1-6 1 30 3-39 1 26 2-35 3-18 0-9 3-24 1 15 2-27 1 12 2-51 2-9 1 21 2 25 3-32 1 44 2-40 1-6 1-27 3 32 1-27 2-14 1 34 2-21 1-24 2 19 3-25 2-10 1 24 1 9 2-28 2 3 2 30 1-16 2-41 2 1 2 35 1 11 1-41 3 8 1 21 2 8 1-38 2 30 3-57 2-11 1 26 1-14 1-31 2 22 1 29 2-31 3 18 1 5 2-47 4 9 0-23 1-1 2 48 1-17 2-69 2 28 1 25 2-16 1-36 4 5 1 23 3 4 0-18 2-16 1-28 3 9 1-26 1 19 1-39 3 28 2-32 1 21 1 35 2-40 1-31 3 24 1-21 4 4 1 22 2 11 1-41 1-26 2 40 1-24 1 49 3-18 2-43 3 13 0-19 2 21 2-38 2 49 1-25 2-30 2 39 1-18 2 29 2-41 1 47 2-7 1-25 2 31 1-26 3 4 2 32 0 19 2-80 2 22 0 24 3 3 2-45 4 16 0 33 3-33 1 23 0-17 2-34 2 10 2 26 1 19 1-9 4-13 1 30 2 3 2-41 0-11 3 22 1 11 0-23 4 53 2-37 1 21 1-32 2 1 1-36 2 48 3-43 1 23 2-37 3 32 1 17 1-20 1-27 2 49 2-57 1 17 2-28 3-32 2 48 0-3 2-37 3 30 1-27 1 4 2-45 2 34 1-19 2 19 3-19 1-20 2 23 1-18 2-28 2 20 1-25 2-15 1 22 3-6 1-14 3 17 1-18 1 42 2 9 3-10 1-14 0-7 2-26 2 13 3 20 2 7 1-11 1-17 2 35 1 16 1 25 3 2 1-49 3 46 1-49 3 6 1 18 1 7 2-29 2 21 2-36 1-26 2 38 1-20 3 42 0 17 3-49 1-9 2-38 1 27 2-33 2 2 1 33 3 0 1-31 1 16 3-23 3-5 0-24 1 13 1 31 2-52 2 31 3-50 2 30 2-21 1 34 1 15 2 38 1 24 3-46 0 1 3 41 2-27 2 19 0-14 1 35 3 8 2-36 1 24 1-58 3 49 2-42 1-3 2 57 3-23 1 36 1-23 2 21 2-3 2-30 2 10 1-35 2 9 2 28 0 4 3-28 1-15 2-32 1-16 2 39 2 4 2-47 1 4 3 34 0-12 2 54 2-15 2-44 1 16 2-24 1 22 2 39 2-28 2 33 1 0 3 36 1-44 2 46 1-9 2 23 3-16 1 61 1 19 1-40 3 37 1-36 2 9 1-16 3 8 2 26 2-24 1 28 1-19 2 32 1-2 2-25 3-17 1 63 2-9 2 42 0-5 1-31 3-28 3 54 0-23 1-31 3 25 1-42 2 32 3-28 2 15 1 26 1 10 3-49 1 33 2-33 1-2 2 21 2-2 1 18 1-3 2 69 3-30 1 27 2 30 1-29 2-3 2 28 1-14 1 25 3 0 1-43 2 34 3-28 1-19 2 55 1-16 2-32 1 12 2 21 1-12 2-44 3 13 2-11 1-4 2 51 1-17 0 22 3-10 2-46 1 8 2 47 3 3 2-31 2-8 1 28 2-6 1 21 1 9 2-34 1 44 3-31 2 15 2-27 1-19 2 36 3 12 0-20 2 22 0-21 2 17 2 17 2 6 3-47 1 6 1-27 2 5 1 42 3 20 1-28 1 20 3-73 1-10 2 27 1-6 3 51 1-10 2-45 2 4 1 42 2-38 2 29 2 12 0-16 3-16 2 50 2-29 1 27 1-4 3-18 1 29 2-32 1-10 1-19 3-26 2 55 1 17 2-27 1 13 1-26 3 15 2 43 1-25 2-22 1 10 3 29 1-10 1-29 2 13 3 66 1 9 0-15 4-50 2 47 1-23 2 43 1-9 2 25 1 12 2-25 1 12 3 34 1-28 3-57 0 17 3-34 1-22 1 30 2-4 3 32 0-12 3-71 1-19 2 41 1-17 1-16 3 17 2-20 1-63 3 34 0-5 2-23 2-10 2-38 2 16 1-38 2 5 2 18 3-26 1 19 1-8 2-38 1 2 3-44 0-5 3 64 1-4 2-59 1 15 2 29 2-22 2-40 1 2 1 40 2 5 2-44 4-2 0 15 1-21 2 33 2 5 2-45 1 0 3 26 0 16 2-57 2 26 2-45 3-19 1 22 1-9 1-25 3 18 1-10 1-24 3 48 1-7 1-40 3 33 1 51 2-41 0 22 3 2 1-23 2 11 1 18 3-20 2-34 1-12 3 25 1 11 2-49 1 15 3 43 1 5 1-29 3 14 1 35 1-14 2-13 3-11 1 32 1-26 1-19 2 3 3 62 2-33 1 31 1-1 3-36 0 8 3 19 2 4 1 36 2-1 1-17 3 36 1-34 1-8 3 37 1-28 2 31 1-24 3 39 1-13 2 40 2-16 0-36 2 5 1 25 2-29 2-38 3 24 1-29 2 6 2 46 1-3 2-38 2-19 2 30 0 15 2-58 2 29 1-57 3-1 2 50 1-14 2-39 1 2 2 51 2 13 1-40 3 21 0-21 2-3 3-26 1 10 2-27 2-13 1 20 3 3 1 45 1 8 1-16 4-29 1 49 1-3 2 39 1 7 3-38 1-18 1 42 3 22 2-40 1 16 2-17 2 40 1-33 1-11 3 32 0 7 1 26 3 3 2-32 2 6 1-17 2 13 1-21 2 0 2 34 1-6 2 22 2-17 1 58 4-26 1 28 1 20 2-75 1 0 3 32 1-6 1 43 3-45 1 35 3 25 1-48 2 20 1-22 2-19 2 32 1 16 1 16 2 0 3-32 0-26 3 28 1 19 2 30 2 1 1-41 2 33 2-47 1 18 2-29 1 10 3 27 1 7 1-28 2 19 3 39 0-3 3-10 1 20 1-45 3 45 2-27 1 22 2-30 1-10 3-20 0-3 1 18 3-12 3-31 1 14 2 33 2-40 1 30 1-8 2 32 2-16 1 35 3-29 2 20 2-37 1 41 1 15 1-35 3 26 1-22 3 19 1-34 1-18 1 18 2-23 1 26 5-6 0-10 1-35 2 29 1-2 3 33 1 16 3-78 0 2 3 73 1 8 2-32 1 7 1 35 4-61 1 41 1-14 1 30 3-26 2 20 1 29 1-31 3 52 1-49 2 15 2-19 2-3 2 25 1-1 1 28 3-27 1 44 2-23 2 24 0 30 3-39 1 6 2 11 1 1 3 21 2-23 1 28 1-1 3-22 2-18 1 18 1-29 2 60 1-15 3-37 1 9 2 30 3-4 1 10 2 13 1-38 2-17 1 17 2-39 2 41 2 8 1-28 2 51 1-41 2 24 2-37 1 26 1-21 3 24 2-31 1-6 1 26 2 1 2-60 3 43 1-36 2 0 2 33 0 9 3-39 1 11 2-22 2 12 1-30 3 12 1-22 1 17 1-35 2 48 3-38 1-20 2 36 1-20 2 41 1-31 3 44 2-4 2-18 2 12 1-48 2-19 1 33 2-39 1 27 3-24 1 37 2-4 2-23 2-19 1 19 1 17 1-16 3-27 2 51 0-17 2-50 2 8 1 30 3-1 1-41 3 11 0-23 2 13 3 31 0-6 3-27 1 36 2-62 2 12 1 43 2-21 2-25 1-14 3 43 1 24 1-24 2 17 2 35 3 26 1-40 1 16 2-32 1 1 1 25 4-3 0 17 2-12 3 46 0-15 3-45 1 4 2 27 1-10 3 37 2 13 1-27 2 9 2 43 1-22 2 37 1-1 1-41 2 52 3-59 0-6 3 46 2-31 2-16 1 26 2-26 1 24 1 27 3-15 1 44 1 23 3-39 2 10 1-49 1 20 2-57 2 60 2-41 3-10 1 20 1-48 0 31 3-38 1 57 2-36 1-29 3 39 2-40 2-43 1 41 3-2 1-27 1 19 2-22 2 14 1-29 2 0 1-24 2 13 1 31 3-9 2-27 2 6 2-29 2-8 1 37 1 18 0 37 3-37 1-19 2 20 3 45 1-2 1-31 3-11 2 41 2-13 1-37 2-10 2 28 1-4 2-31 1-9 2-35 3 5 1 18 1-13 2 50 1 11 1-36 2 3 3-27 1 14 2 26 3-9 1-27 1-4 2 51 2 37 2-50 1 11 2 28 2-31 1 34 1-13 2-31 2 11 2 42 1 8 3-22 1 47 2-21 1 12 3-54 1-21 2 32 2-28 1 26 1-2 1-32 4 33 1-18 2 14 0-24 2 19 3-42 1 21 2 32 1 11 1-42 3-3 2 40 1-13 1-24 4 25 1-30 1 0 1 35 3-33 1 28 2 7 2-32 1-17 3 49 2-3 1-31 1 3 2-18 1 31 2-28 3 6 1 30 1 0 3-27 1-2 2-20 1 9 2 8 2-31 1 31 1 6 2-32 2 11 2 45 2-56 2 39 1 2 1-40 3-27 2 41 0-8 1-41 3-15 3 22 1-28 2 28 1-3 2-44 1-7 2 40 1-25 3-42 2-11 1 45 1 7 2-58 3-4 1 33 1 8 1-33 2 5 3 14 1 25 2-55 2-7 1 31 2 0 0 26 4-13 2-29 0-4 3 47 1 6 1-29 2-22 3 49 2-31 0 20 2-4 1-45 2 0 3 39 2-23 1 23 3-15 1-35 1 11 0 19 5-3 0-25 2 6 1 24 3-4 2-24 1-20 2 31 1 1 1-22 2-23 2 43 2-30 1 33 2-1 1-26 2 5 3-20 1 23 1-28 2 36 3-33 2 8 0 10 3-28 2 16 1-20 1 16 2-4 2-30 1-6 3 41 1-10 2 33 1-12 2-23 3 60 1-47 2 49 1 16 1 12 2-23 1 30 2-30 2 26 2 36 2-40 1 14 2-10 1 32 2-47 2 28 2-29 2 50 1 0 0 37 3-2 2-26 2 4 2 31 1-19 3 41 1 33 2-56 1 17 1-40 4 20 1-37 1 12 2-26 2 23 2-27 0-6 1 38 3-4 2 73 1-9 3-69 2 36 1-13 1 29 2-17 3 19 1-23 1-11 3 33 2-38 1 38 1-12 2 26 1-7 3 36 0-14 2 34 2-54 1 33 2-32 2 60 2-6 2-20 2 13 1 17 2-10 0-30 3-4 2 35 3-23 1 25 1-1 2-35 2-17 2 47 3-39 1-1 1 27 3 18 2-53 2-18 1 34 1-26 2 22 3-14 1 20 1 7 3-29 2-7 1 35 1 5 2-10 2 15 2-38 1 5 2 15 3-4 1-18 1 10 2-22 1 22 2-61 1-11 3 48 1 11 2-23 1 20 1 20 2 4 3-46 3-16 0 16 3 21 0-28 2-3 1 23 3-34 1 20 1-25 2-41 3 36 0-8 2 10 2 20 2-7 2-34 1 13 1-28 2 8 3 50 1-21 1-45 3 20 2-21 2-24 1 20 1 5 1-18 3 17 2-36 1 4 2 36 2-36 1 30 2 14 2-40 1-12 3 21 0-28 3 21 2 3 1-21 2 6 1-13 2 4 2 27 2 16 2-32 0 19 2 20 3 23 1-35 3 6 1-28 1 14 1 30 4-26 1 22 2 32 1-49 1 10 1 27 2-24 2-47 1 16 3 47 1-7 3-12 1-51 2 45 2 2 1 14 2 10 1-26 1 5 1 27 5-25 1-35 0-7 2 30 2 23 2-36 1-28 1 31 3-25 2 20 1-14 2-42 2 48 2-29 1 12 1-30 2 7 1 39 3-35 2 33 2 25 2-35 1-32 2 27 1 10 2-40 1 9 2 34 1-31 1 28 3-26 2-42 1 43 1 24 4-11 1-17 3 4 1 41 1-6 2-48 2 39 2-59 2 39 1-25 1 9 1-19 2 14 3-25 1 13 1-20 4 36 1-27 1-28 2 59 2 0 1-15 1 7 1-48 3 38 1-35 2 39 2-55 3-7 1 21 3-2 0 12 1-10 1 29 2-14 3 48 1-3 2 24 2 42 2-40 2-6 1 33 1-15 2 22 3-17 1 33 2-11 1 30 2-13 2-9 1-4 2-23 1 8 2 26 1-27 3 37 2-2 1-21 3-6 1 25 1-31 1 21 3-12 2 31 1 1 2-32 1-4 3-54 0 38 2-40 3 36 1-20 1-1 1 26 2 20 2-17 2 11 3-41 0-3 3-40 2-10 1 36 2-17 1 44 1 2 2-30 3 44 2-61 0 3 3 55 2-20 1 34 1-38 2 52 2 14 2-48 1-2 2 31 2 10 2-21 1-4 1 48 2-45 2 37 2-27 2 51 3-46 1 43 1 11 2-22 1-6 2 39 1 6 2-55 1-6 3 45 1-30 2 44 1-19 3-21 1-2 2 37 2-4 2-20 0-4" stroke="#008000" stroke-width="14.5"/>
</g>
<rect x="236.6" y="447.3" width="91.6" height="41.599999999999966" rx="1.5" fill="#fff" fill-opacity="0.8" stroke="#d6d6d6" stroke-width="0.7"/>
<line x1="239.4" y1="454.3" x2="258.6" y2="454.3" stroke="#0000ff" stroke-width="1.3"/>
<text x="265.10" y="457.60" font-size="9.0" text-anchor="start" textLength="59.55" lengthAdjust="spacingAndGlyphs" >Deterministic</text>
<line x1="239.4" y1="467.3" x2="258.6" y2="467.3" stroke="#ff0000" stroke-width="1.3" stroke-dasharray="5.2 2.3"/>
<text x="265.10" y="470.60" font-size="9.0" text-anchor="start" textLength="53.27" lengthAdjust="spacingAndGlyphs" >White Noise</text>
<line x1="239.4" y1="480.6" x2="258.6" y2="480.6" stroke="#008000" stroke-width="1.3" stroke-dasharray="8.7 2.2 1.4 2.2"/>
<text x="265.10" y="483.90" font-size="9.0" text-anchor="start" textLength="48.37" lengthAdjust="spacingAndGlyphs" >Lévy Noise</text>
<rect x="34.0" y="296.5" width="298.3" height="197.5" fill="none" stroke="#000" stroke-width="0.75"/>
<line x1="47.6" y1="494.0" x2="47.6" y2="497.1" stroke="#000" stroke-width="0.75"/>
<text x="47.60" y="507.20" font-size="9.0" text-anchor="middle" textLength="5.16" lengthAdjust="spacingAndGlyphs" >0</text>
<line x1="101.8" y1="494.0" x2="101.8" y2="497.1" stroke="#000" stroke-width="0.75"/>
<text x="101.80" y="507.20" font-size="9.0" text-anchor="middle" textLength="10.32" lengthAdjust="spacingAndGlyphs" >20</text>
<line x1="156.0" y1="494.0" x2="156.0" y2="497.1" stroke="#000" stroke-width="0.75"/>
<text x="156.00" y="507.20" font-size="9.0" text-anchor="middle" textLength="10.32" lengthAdjust="spacingAndGlyphs" >40</text>
<line x1="210.2" y1="494.0" x2="210.2" y2="497.1" stroke="#000" stroke-width="0.75"/>
<text x="210.20" y="507.20" font-size="9.0" text-anchor="middle" textLength="10.32" lengthAdjust="spacingAndGlyphs" >60</text>
<line x1="264.4" y1="494.0" x2="264.4" y2="497.1" stroke="#000" stroke-width="0.75"/>
<text x="264.40" y="507.20" font-size="9.0" text-anchor="middle" textLength="10.32" lengthAdjust="spacingAndGlyphs" >80</text>
<line x1="318.6" y1="494.0" x2="318.6" y2="497.1" stroke="#000" stroke-width="0.75"/>
<text x="318.60" y="507.20" font-size="9.0" text-anchor="middle" textLength="15.48" lengthAdjust="spacingAndGlyphs" >100</text>
<line x1="30.9" y1="299.8" x2="34.0" y2="299.8" stroke="#000" stroke-width="0.75"/>
<text x="27.60" y="303.40" font-size="9.0" text-anchor="end" textLength="12.90" lengthAdjust="spacingAndGlyphs" >1.0</text>
<line x1="30.9" y1="338.4" x2="34.0" y2="338.4" stroke="#000" stroke-width="0.75"/>
<text x="27.60" y="342.00" font-size="9.0" text-anchor="end" textLength="12.90" lengthAdjust="spacingAndGlyphs" >0.8</text>
<line x1="30.9" y1="377.0" x2="34.0" y2="377.0" stroke="#000" stroke-width="0.75"/>
<text x="27.60" y="380.60" font-size="9.0" text-anchor="end" textLength="12.90" lengthAdjust="spacingAndGlyphs" >0.6</text>
<line x1="30.9" y1="415.6" x2="34.0" y2="415.6" stroke="#000" stroke-width="0.75"/>
<text x="27.60" y="419.20" font-size="9.0" text-anchor="end" textLength="12.90" lengthAdjust="spacingAndGlyphs" >0.4</text>
<line x1="30.9" y1="454.2" x2="34.0" y2="454.2" stroke="#000" stroke-width="0.75"/>
<text x="27.60" y="457.80" font-size="9.0" text-anchor="end" textLength="12.90" lengthAdjust="spacingAndGlyphs" >0.2</text>
<text x="183.15" y="291.30" font-size="11.0" text-anchor="middle" textLength="95.75" lengthAdjust="spacingAndGlyphs" >Comparison for Ih</text>
<text x="183.15" y="520.30" font-size="9.0" text-anchor="middle" textLength="21.20" lengthAdjust="spacingAndGlyphs" >Time</text>
<text x="8.90" y="396.50" font-size="9.0" text-anchor="middle" textLength="7.95" lengthAdjust="spacingAndGlyphs" transform="rotate(-90 8.90 396.50)" >Ih</text>
<text x="160.70" y="550.70" font-size="16.5" text-anchor="middle" style="font-family:'Liberation Serif', serif;fill:#111;stroke:none">(</text>
<text x="167.50" y="550.20" font-size="15.5" text-anchor="middle" textLength="7.60" lengthAdjust="spacingAndGlyphs" style="font-family:'Liberation Serif', serif;fill:#111;stroke:none">c</text>
<text x="173.90" y="550.70" font-size="16.5" text-anchor="middle" style="font-family:'Liberation Serif', serif;fill:#111;stroke:none">)</text>
<clipPath id="clipd"><rect x="384.2" y="296.2" width="298.2" height="197.60000000000002"/></clipPath>
<g clip-path="url(#clipd)" fill="none" stroke-linejoin="round" stroke-linecap="butt">
<path transform="scale(0.1)" d="M3976 3052l0 5 0 5 0 5 1 5 0 5 0 6 0 5 0 5 1 5 0 5 0 5 0 5 1 5 0 5 0 5 0 5 0 5 1 5 0 5 0 5 0 6 0 5 1 5 0 5 0 5 0 5 0 5 1 5 0 5 0 5 0 5 0 5 1 5 0 5 0 5 0 5 0 5 1 5 0 5 0 5 0 5 0 5 1 5 0 5 0 5 0 5 0 5 1 5 0 5 0 5 0 5 0 5 1 5 0 5 0 5 0 5 0 5 1 5 0 5 0 5 0 5 0 5 1 5 0 5 0 5 0 5 0 5 1 5 0 5 0 5 0 5 0 5 1 5 0 5 0 5 0 5 1 5 0 5 0 5 0 5 0 5 1 5 0 5 0 5 0 5 1 5 0 5 0 4 0 5 0 5 1 5 0 5 0 5 0 5 1 5 0 5 0 5 0 5 1 5 0 5 0 5 0 5 1 5 0 5 0 5 0 5 1 5 0 5 0 4 0 5 1 5 0 5 0 5 1 5 0 5 0 5 0 5 1 5 0 5 0 5 1 5 0 5 0 5 1 5 0 4 0 5 0 5 1 5 0 5 0 5 1 5 0 5 0 5 1 5 0 5 0 5 1 5 0 5 0 5 1 4 0 5 1 5 0 5 0 5 1 5 0 5 0 5 1 5 0 5 1 5 0 5 0 5 1 5 0 5 1 4 0 5 0 5 1 5 0 5 1 5 0 5 1 5 0 5 0 5 1 5 0 5 1 5 0 5 1 4 0 5 1 5 0 5 1 5 0 5 1 5 0 5 1 5 0 5 1 5 0 5 1 5 0 5 1 5 0 4 1 5 0 5 1 5 0 5 1 5 1 5 0 5 1 5 0 5 1 5 0 5 1 5 1 5 0 5 1 5 0 4 1 5 1 5 0 5 1 5 1 5 0 5 1 5 1 5 0 5 1 5 1 5 0 5 1 5 1 5 0 5 1 5 1 5 1 5 0 5 1 5 1 4 0 5 1 5 1 5 1 5 1 5 0 5 1 5 1 5 1 5 0 5 1 5 1 5 1 5 1 5 1 5 0 5 1 5 1 5 1 5 1 5 1 5 1 5 0 5 1 5 1 5 1 5 1 5 1 5 1 5 1 5 1 5 1 5 1 5 1 5 1 5 1 5 1 5 1 5 1 5 1 5 1 5 1 5 1 5 1 5 1 5 1 5 1 5 1 5 2 4 1 5 1 5 2 5 1 5 1 4 2 5 2 5 1 4 2 5 2 4 2 5 2 4 2 4 3 4 2 4 3 4 2 4 3 4 3 4 3 3 3 4 3 3 4 4 3 3 4 3 3 2 4 3 4 3 4 2 4 2 4 2 5 2 4 1 4 1 5 2 5 0 4 1 5 1 5 0 5 0 4 0 5 0 5 0 5-1 5-1 5 0 5-1 5-2 5-1 4-1 5-2 5-2 5-2 5-2 4-2 5-2 5-2 4-3 5-2 5-3 4-3 5-2 4-3 5-3 4-3 4-3 5-3 4-3 4-3 4-3 4-3 4-4 5-3 4-3 4-3 4-3 4-3 4-3 4-3 4-3 4-3 4-3 4-3 4-3 4-3 4-3 5-2 4-3 4-2 4-3 4-2 5-3 4-2 5-2 4-2 4-2 5-2 5-2 4-1 5-2 4-1 5-2 5-1 4-2 5-1 5-2 5-1 4-1 5-1 5-1 5-1 5-1 5-1 4-1 5-1 5-1 5-1 5-1 5-1 5-1 5-1 4-1 5-1 5 0 5-1 5-1 5-1 5-1 5 0 5-1 5-1 5 0 4-1 5-1 5 0 5-1 5-1 5 0 5-1 5-1 5 0 5-1 5 0 5-1 5 0 5-1 4 0 5-1 5 0 5-1 5 0 5-1 5 0 5 0 5-1 5 0 5-1 5 0 5 0 5-1 5 0 5 0 5-1 5 0 5 0 5 0 5-1 5 0 5 0 5-1 5 0 5 0 5 0 5 0 5-1 5 0 5 0 5 0 5 0 5-1 5 0 5 0 5 0 5 0 5 0 5 0 5 0 5-1 5 0 5 0 5 0 5 0 5 0 5 0 5 0 5 0 5 0 5 0 5 0 5 0 5-1 5 0 5 0 5 0 5 0 5 0 5 0 5 0 5 0 5 0 5 0 5 0 5 0 5 0 5 0 5 0 5 0 5 0 5 0 5 0 5 0 5 0 5 0 5 0 5 0 5 0 5 0 5 0 5 0 5 0 5 0 5 0 5 0 5 0 5 0 5 0 5 0 5 0 5 0 5 1 5 0 5 0 5 0 5 0 5 0 5 0 5 0 5 0 5 0 5 0 5 0 5 0 5 0 5 0 5 0 5 0 5 0 5 0 5 0 5 0 5 0 5 0 5 0 5 0 5 0 5 0 5 0 5 0 5 0 5 0 5 0 5 0 5 0 5 0 5 0 5 0 5 0 5 0 5 0 5 1 5 0 5 0 5 0 5 0 5 0 5 0 5 0 5 0 5 0 5 0 5 0 5 0 5 0 5 0 5 0 5 0 5 0 5 0 5 0 5 0 5 0 5 0 5 0 5 0 5 0 5 0 5 0 5 0 5 1 5 0 5 0 5 0 5 0 5 0 5 0 5 0 5 0 5 0 5 0 5 0 5 0 5 0 5 0 5 0 4 0 5 0 5 0 5 0 5 0 5 0 5 0 5 0 5 0 5 1 5 0 5 0 5 0 5 0 5 0 5 0 5 0 5 0 5 0 5 0 5 0 5 0 5 0 5 0 5 0 5 0 5 0 5 0 5 0 5 0 5 0 5 0 5 0 5 1 5 0 5 0 5 0 5 0 5 0 5 0 5 0 5 0 5 0 5 0 5 0 5 0 5 0 5 0 5 0 5 0 5 0 5 0 5 0 5 0 5 0 5 0 5 1 5 0 5 0 5 0 5 0 5 0 5 0 5 0 5 0 5 0 5 0 5 0 5 0 5 0 5 0 5 0 5 0 5 0 5 0 5 0 5 0 5 0 5 0 5 0 5 0 5 1 5 0 5 0 4 0 5 0 5 0 5 0 5 0 5 0 5 0 5 0 5 0 5 0 5 0 5 0 5 0 5 0 5 0 5 0 5 0 5 0 5 0 5 0 5 0 5 0 5 0 5 0 5 1 5 0 5 0 5 0 5 0 5 0 5 0 5 0 5 0 5 0 5 0 5 0 5 0 5 0 5 0 5 0 5 0 5 0 5 0 5 0 5 0 5 0 5 0 5 0 5 0 5 0 5 0 5 0 5 0 5 0 5 0 5 0 5 0 5 1 5 0 5 0 5 0 5 0 5 0 5 0 5 0 5 0 5 0 5 0 5 0 5 0 5 0 5 0 5 0 5 0 5 0 5 0 5 0 5 0 5 0 5 0 5 0 5 0 5 0 5 0 5 0 5 0 5 0 5 0 5 0 5 0 5 0 5 0 5 0 5 0 5 0 5 0 5 0 5 0 5 0 5 0 5 0 5 0 5 0 5 0 5 0 5 0 5 0 5 0 5 0 5 0 5 0 5 0 5 0 5 0 5 0 5 0 5 0 5 0 5 0 5 0 5 0 5 0 5 0 5 0 5 0 5 0 5 0 5 0 5 0 5 0 5 0 5 0 5 0 5 0" stroke="#0000ff" stroke-width="14.0"/>
<path transform="scale(0.1)" d="M3975 3053l3 49 1 5 3 46 0 4 3 55 1 11 3 59 0 23 3 23 0 30 3 41 1 35 3 39 0 22 3 38 1-11 3 79 1-2 2 75 1-4 2 59 2 33 1-38 3-14 1 62 2-46 1 57 1-6 3-24 0-2 3 81 1 5 2 55 1 6 1 41 3-44 2 38 1-22 3 59 0 10 3 46 1-27 2 50 2-1 1 28 2 25 3 32 1 24 1-35 1-6 3 57 3 2 1-32 0-5 1 34 3-14 1-57 4-27 0 39 1-23 2-51 2-18 1 31 3-16 0-58 3 75 0 35 3-26 1 67 2-26 2 34 2-30 2 105 3 14 1-45 2 46 1-32 1-21 3 50 0 3 2-95 4 29 1-23 0 23 3 49 1-12 3-40 1-23 2-52 0 13 3 35 1-12 2 47 1-2 3 37 2-21 2 64 0 11 1 51 2-47 1 79 4-32 1 52 3-78 1 46 1 5 3-45 1 19 2 68 0-3 3 87 1-22 2 43 2-26 2 113 2-45 2 65 1-34 1 39 1-31 3-47 1 8 3-71 1 19 1-24 2 3 2-66 2 40 2-29 1-5 0-34 3 7 2-99 3 76 1-59 2-7 2 36 0-49 3 33 2 14 1-41 1 49 2 58 2-32 2 85 2-28 2 53 0-23 2 91 1-23 3 43 2-39 2 63 1-24 1-32 2 2 2 53 1-10 3 61 1-5 2-44 1 47 2-56 3-15 1 64 3-1 1-50 1 10 1-60 2 22 2-31 1 14 1-29 3-31 2 46 1-11 2 49 2-19 0-40 3 30 2 51 1-23 2 64 2-8 1 52 2 12 2-31 1 19 3-32 0 2 2 48 2-9 1 48 2 1 1 32 3-26 3 66 1-16 1 49 1-27 3 69 2 37 2-55 1-21 1-50 2 6 1 72 3-73 2-48 1 43 2-79 2 28 1-19 1 15 1-64 4-14 1 33 1-13 2-48 3-21 1 72 1-33 1-64 2 15 3-82 1-29 3 57 2-25 1 31 0-24 3 77 1-12 1 53 3-18 1-23 3-4 2 57 0-17 2-27 1 30 3-76 2 18 1-48 1 49 2-67 3 4 2 64 1 31 1-51 2 15 1 20 2 6 1 36 4-41 1 93 1-59 3 72 1-4 1-59 2-3 1 57 3-20 2 27 2-39 1 51 1-24 3 25 1-3 1 34 2 23 2-31 1-8 2 42 2-14 2 83 2-29 2 35 0-2 3-51 0 9 3 71 2-40 2 35 1-15 2-23 1-13 2-41 1 11 3-94 2 46 1-66 1-33 3 61 2-32 1 19 2-29 1 36 2-36 1 36 2-21 2-93 1 3 3 110 1-2 1-55 4 1 1-17 2 32 1-31 0-9 2 49 3 1 1-49 1 25 1 46 4-10 1-66 2 28 1-28 2 20 2-67 1 11 1 32 3-21 2-45 2 25 2-86 1-11 2 43 1 13 2-103 1-24 1 53 3-27 1-34 2 18 3-78 0-23 2-54 3 25 1-22 1 22 2-31 2 18 1-21 3 22 1-39 2 5 1 43 2-24 1 59 2-48 2 56 2 39 2-63 2-2 2 38 1 33 2-57 0-7 3 34 1 1 2 50 2-11 2-31 1 11 1 52 2-1 1-39 3 38 1-52 2 32 1-40 3-15 1 69 2-35 2-69 2 43 2-47 0-1 1 68 4-71 1 42 1-41 2 26 2 38 2-45 1 62 2-19 2 37 2-35 1 1 2-52 1 55 1-48 4 29 1 49 1 9 3-54 1-8 1 56 3-22 1-46 1 21 3-50 2 5 1 42 1-21 1 24 4-30 1-31 1 50 1-58 3 83 2-47 1 13 1-46 2 39 3-73 0 16 3 36 1-10 1 65 2-9 2-48 2 58 1-78 2 20 2 24 2-60 2 51 1-23 3 67 1-10 2 19 3-10 0-34 2 45 2-53 1-1 1-57 3-10 1 44 2 4 2-74 1 13 2-24 1-19 1 33 2-12 3-69 1 8 3-58 0 18 3-35 2 11 1-55 1 16 3 81 0-13 2 23 2-39 3 79 0 1 2-40 2 40 2 63 1 1 3 30 1-7 2-33 1 1 3 36 0-27 3 73 2 7 2 35 0-13 1-28 2 15 2-40 3 9 2-24 0 35 3-70 2-32 2 15 0-6 2-53 2-23 2 61 2 0 2-38 1-3 2-37 1 8 1 68 3-58 1 44 3-5 1 36 2 13 2-40 1 22 2 59 1-11 2-60 1 61 3-48 0 22 3 49 1-5 0-40 4 18 2-45 1 66 0 44 3-33 3-91 0 4 3 43 1-1 2-56 2-10 2 31 1 56 2-49 2-5 2-7 0 4 3-46 1 25 2-31 1 18 2-36 2 37 2-44 3 46 1-22 1-64 2 36 1-4 1-49 2 35 2-30 2-12 3 36 0-4 2-48 4 0 0-31 1 8 2 62 2 2 0 37 4-60 2 67 0 1 2 17 2-8 2 51 1 6 2-43 1 17 2 32 3 24 2-33 0 29 2 14 1-7 2 42 3-31 2 44 0-28 3-64 1-14 2 38 2-42 1 46 2-43 1 27 4-28 1 43 2-19 0-47 2 56 3-79 1 1 0-43 2 21 3-48 1-22 1 53 2-44 3-18 2 55 2-39 1-33 2 54 0 13 1-51 3 37 2-60 1 25 3 28 1-2 1-51 3 45 1-33 2 24 1-61 2 28 2-61 1 4 1 40 3 15 1-29 2 23 2-22 2 3 2 57 1 19 2-35 2 49 2 71 1-17 0 32 5-56 1 41 0 6 3 49 1-30 1 56 4-43 1 40 1 27 1-61 3-10 1 47 2-22 1 33 2 27 3-43 0 11 3 39 1 2 3 13 1-24 2 15 1 25 1-51 2 48 1-35 2 32 1-41 3 12 2 80 1 16 2 40 1 0 2 22 2-18 2-48 2-5 2 41 1-1 1-29 3-17 1 37 3 46 1-40 2-11 1 70 3-42 1 41 1-21 2-75 1 12 2 73 2-31 1 38 3-70 1 30 2-73 2 64 1-11 2-54 1 6 2 70 1-17 3-62 1 10 0 27 4-7 2-65 2 12 1-33 2-3 2 38 1-7 2 40 2 2 1 29 1-28 3 37 1-24 3 21 0-5 3 88 1-59 2 68 1-3 1 42 4-79 1 73 1-10 2-35 1 33 1 30 2 11 2-24 2 46 2-58 3-4 1 56 2-2 2-21 1 3 1 21 1-30 3-59 2 3 1 49 1 8 3-72 3 41 1-40 1-27 1 29 2-26 1-27 2 33 3-47 1-34 2 51 1-46 3 41 0 6 2-17 2 15 2-69 1 62 2-54 1 14 2-58 3 19 1 34 1-18 2 36 1-17 2 61 4-74 1 36 1-16 2 60 2-4 1 27 2-73 1 34 1-40 3 59 2-16 1-44 1 19 3 41 2-37 2-30 1-8 2 47 1-14 1 27 2-31 3 33 1 31 2-46 3-17 0 41 2-56 1 39 1-1 1-39 3-41 2 51 2-39 2 42 1-18 2-41 2 32 0-32 2-23 2 80 2-32 0 42 4-13 0 72 4-10 2-69 0 24 2 50 2-28 2 48 1-37 3 54 2-4 1 30 1 24 2-31 1 2 2 47 2-50 1 38 2-51 2 49 2 1 2-32 2-27 2 29 0-21 3-29 2 27 0-29 2 8 2 58 2-29 2-72 1 15 2 35 1 4 2-61 1 17 3-44 1 25 3-43 0-2 2-38 3 22 1-90 2-2 2 55 2 34 1-77 2 28 1-53 3 71 0-34 3 36 1-37 1 18 3-51 0 3 2-63 2 18 2 31 2-14 1 31 2-25 2-47 2 14 1-41 2 1 2 57 1-21 3-53 0 5 1 33 3-37 2-103 2 31 2 52 2-11 1 35 2 27 1-20 3-6 1 64 1-15 2 69 1 5 1-36 2 9 3 70 1 15 2-69 1 22 2 53 2-24 2 59 1-2 2 69 1-34 3-56 1 29 1 33 3 39 2-42 1 22 2 35 2-6 2 40 2-11 1 29 2-28 2 31 1-7 2 67 1-42 2 39 3-44 1 27 1 25 2-93 1-3 3-50 0 22 1-42 4 35 1-50 2 37 1 38 1-65 1-58 3 37 2-56 1 15 3-68 1 20 3-62 0-12 1 46 4-74 1 82 1-19 1-22 2 20 3-106 2 45 1-50 2-13 1 29 2-58 2 37 1-4 2 22 2-1 2-49 1 4 3 28 1-46 1 33 3 8 1-44 1-14 1 23 2-52 2 31 3 24 1-51 1 9 3-36 1-3 2 27 1-29 2 30 1-43 3 71 2 43 2-22 1 56 1-37 1 44 3 70 3-59 1 27 0 9 1-21 4-5 2 52 0-13 2 40 2 15 1-37 4 19 1 45 1 10 2 37 1-23 0 37 5-27 1 28 0 39 3-40 2-4 2 49 1 1 1 38 2-15 2 64 1-2 2 21 1-51 3 62 2-1 1 49 1-22 3 55 1 8 3-61 0 1 2 30 2-46 1 58 3-38 2-39 1 15 2-76 1 49 2-30 1-5 3-53 0 30 3-69 1-20 3 37 0 14 3-43 1 36 3-42 0 35 2-54 2 0 2-49 2 67 2-75 2 6 1 69 1-44 1 40 4-23 1-23 1 20 2-49 1 20 1 89 2-45 3 47 1-29 2-51 2-6 1 30 2-31 1 77 2-46 0 27 4-16 2 28 1-16 3 34 0 3 1 20 2-22 2 32 3-44 1 30 1 2 3 35 1-41 2 33 1 2 1 43 2-7 3-89 1 30 1-42 2 23 3 41 1-5 1-49 2 27 2-51 1 25 3 81 1 15 3-50 1 3 2 22 1 11 2 37 2 12 1 31 3-61 1 40 3 11 1-41 0-11 2 52 2-40 2 94 1-13 2 41 1-24 3-40 1-6 2-77 1-21 3 41 2 27 1-51 3 8 1 35 1 3 1-40 2 1 3-51 1 10 2 32 2 8 1-34 1 33 3-23 1 30 2-28 2-23 1 32 2 9 2-40 1 1 2-25 2-23 1 57 1-5 3-61 2 51 2-55 2 67 1-62 1 3 1 44 2-1 2-46 1 9 2-40 2 52 3-56 0 20 3-56 1 26 0-29 3 37 1-41 2 33 2 49 2-32 2-57 2 0 1 65 2-71 2 42 1-15 2-55 2 54 2-25 1 22 2-39 1 13 2-42 2 32 2-43 3 8 0 28 2-4 2 15 2-39 2 55 0-15 2-53 2 61 1-38 2 11 2-14 1 1 1 34 5-39 1 45 0 7 1 49 4-53 2 66 1-23 2-29 0 28 3 37 1-22 2 60 1 0 1-39 4 34 2-23 0 14 1 34 2-40 1 47 3-28 2 48 1-40 3 101 1-68 2 51 3-14 1-15 2 11 1 28 1 5 3 43 2 65 1-46 1-16 1 51 3 40 0-61 3 11 1 44 3-37 2 45 1 21 2-56 1 19 1 44 3-11 2 41 2 7 1-35 2-13 2-62 2 0 1-48 2 69 2-43 1 20 0 30 3 21 2-70 1-13 2-22 1-3 1 36 3-3 3-44 0-8 2 35 2-12 2-80 1 34 1-56 2-10 2-15 2 29 2-38 1 5 2-28 2 16 2-41 2 33 2-84 1-23 2 43 2 14 2-34 2 13 1-38 1-15 0-27 3 12 3-36 1-2 2-71 2 48 2-24 1 9 1-42 2 21 2-44 1 9 1 49 3-16 2-22 1-15 3 46 2-12 1-25 1 3 2 51 1 11 1 56 2-57 3 50 1-33 1 44 4 40 1 38 2-15 0 27 3-40 2 68 2-26 1 35 1-38 2 47 1-36 2 75 3-21 1 34 1 4 3-40 1-34 2 30 1-1 3-39 1-22 1 14 2-15 2-47 2-1 2 50 1-8 0-54 3 38 3-46 1 2 1 37 2-50 2 30 1-27 2 28 1-37 3-72 2 102 2-64 1 42 2-45 1-22 2 39 1-21 3 34 1 5 2-46 2-19 2 39 0-22 1-24 4 28 1-53 2-4 2 33 0 2 3-39 3-9 0 21 1-47 2 64 2-40 2 52 1 1 2-50 3 25 1-54 1-13 3 72 1 5 1-25 1-15 2-49 3 59 2-39 0 21 2-54 2 36 2-50 1 8 1-52 3 30 2-45 1 22 2-34 2-21 2-32 2 44 2-40 2 18 1-60 0 3 2-44 2 53 0 24 4-1 2 39 1-21 2-35 1 11 3 31 1 18 1-41 2 11 2 36 1 16 2 43 3-58 1 30 2 12 2-20 0 24 2 36 2-1 2 44 1-15 3 88 2-41 2 45 1-14 1 36 2 21 1-43 2 44 1-78 3-5 2 31 2 49 1-48 3 12 1 14 1-32 2 62 2-20 1 19 2-3 2-46 1 45 3-30 1 22 1-41 1 33 2-94 2 33 2 52 1-52 3 72 1-9 3 50 2-10 1 41 0 4 2-53 2 2 2 51 1 0 2 83 2-21 2-28 3-18 1 55 0-26 2 79 3-22 2-50 0-10 2 62 3 0 1-30 2 55 1 35 2-34 2 54 1-30 2-56 2 23 1 40 2-17 3 36 1-5 0 40 2 18 2-43 2 0 3 25 2 14 1 25 1-41 1 81 3 12 2-38 1 28 1-60 2 73 1-42 2 30 3 54 2-2 1-40 1 17 1-23 3-16 2 25 1 9 2-74 1 21 2-43 3 41 2-67 1-41 1 43 2-38 1 24 3 11 1-40 1-20 3-22 3-10 1 24 1-29 2-39 1-3 2 80 2-7 2-65 1-10 2 40 1 23 2-48 1 48 3-88 2 62 1-74 3-9 1 56 0 13 3-64 1-26 2 71 3-73 1 44 2 37 1-49 1 41 2-46 1-2 2-97 2 24 2 37 2-4 1 50 2-19 2 28 1-7 2-39 2 12 2-62 1 50 3-71 0-14 1-34 2 5 3-45 1-14 2 73 3-90 1 48 1-32 1 33 3 31 1-33 2-20 2 65 1-18 3 37 1-46 1 28 2-33 0 51 3-17 2 38 1-26 2-52 2 12 2 36 1-3" stroke="#ff0000" stroke-width="15.0"/>
<path transform="scale(0.1)" d="M3975 3053l3 68 1 11 3 75 0 12 3 66 1 10 3 81 0 14 3 55 0 18 3 74 1 11 3 67 0 16 3 32 1 3 2 64 1 17 2 65 3 4 1 44 1 18 2 46 2-5 2 46 1 15 2 18 1-9 3 71 0 8 3 40 1-15 3 38 0 6 3 50 1 22 1 50 3-33 1 18 1 7 2 83 2-42 3 37 1-25 2 47 2-8 1 32 2-8 1 22 3-13 1 30 1 2 3 37 2-24 1 41 2 7 1-29 1 12 2 38 3-43 1 30 1-20 3 61 1-17 1 18 3 31 1-44 2 28 1-41 1 6 3 35 1-25 1 52 2-24 3-46 1-18 2-20 3 20 0-10 1 10 1 46 3-23 1-21 4 0 1 33 3-24 0-16 2 18 0 24 2-23 3 54 1-6 2-37 2 13 1 39 3-59 1 31 2-35 2 27 0-27 2 36 2-39 3 43 0 8 3-38 3 11 1-31 0 8 2 27 2 23 2-54 1 13 2-57 2-4 2 42 2 18 1-19 2-2 2 21 0-26 2-40 2 32 2 32 2-34 2 49 2-9 1-31 2 2 2 20 1 17 1-35 2 32 2 30 1-18 3-51 1-17 2 54 3-3 1-6 1-1 2 29 1-3 2-35 2 24 2-29 2-34 1 53 1-67 3 55 2-22 1 15 2 11 1-32 2 7 2 23 2-32 0-18 3-31 2 29 2 1 1 30 2 26 2-51 1-25 1 24 2 7 2-29 3-10 1 45 1-5 2-39 1 43 1-26 2 43 2-40 2 6 1 26 3 14 0-28 4 3 1 23 1 29 2-10 3-13 1 54 3-31 1 26 0-17 2 45 3-26 1 37 2-25 1 20 2-30 2-33 1 21 1-25 2 30 2 36 2 6 2-32 1 34 3-52 0-1 2-39 3 41 1-16 3 27 0-21 1-1 1-41 3 41 1-41 3-1 2 20 2 0 1-45 2-1 1 33 3-42 1 47 1 1 2-28 2 7 2-47 1 23 2 25 2-26 1-14 2 28 2-32 2-13 1 22 3 18 1-29 2 35 1-28 2 0 0 11 4-18 1 19 1-34 2 45 2 10 2-30 1 19 2 31 1-18 1 36 3-46 0 18 3-5 2-44 2 9 1-30 2 8 2-55 3 38 1-28 1 16 2-43 1 13 2 52 2-23 2 39 1 23 2-30 2 0 2 35 0 10 3-54 1 28 2-17 2 35 2-26 3 17 1-14 0-6 2-69 2 15 2 43 1 5 3-31 1-13 1 17 2 10 2-30 2 0 2 24 1-22 2 40 1 1 2-16 1 0 1-28 3 20 3-27 1-11 2 31 2 17 1-41 1 6 1 41 4-24 1 19 1 1 2-35 2 6 2 22 1-9 2-23 2 19 1-32 1 17 3-54 1 10 3 66 0 2 3-53 2 17 1-20 1 10 3 33 0-1 3-38 1 24 2-29 1 8 2-28 3-2 0 27 3-61 2 32 0-5 3-55 1 4 3 31 1 12 1-23 2-2 1-64 2-10 2 55 1-18 1-13 3 12 3 47 1-16 1 24 1 7 3 54 1-19 1-34 4 9 1 48 1-8 3-54 0 8 3 80 0-9 3 22 1-31 3 38 0 2 1 43 3-23 2-42 2 33 1-15 1 41 3-23 1-11 3 56 0-10 2-27 2 34 1-46 2 9 2 52 1-19 3-37 2-1 1 31 2 3 0-33 3 35 1 42 4-38 1 22 0 4 3-38 1 24 2 57 3-58 1 33 3-9 0-19 1 25 2-30 2 3 2-30 2 31 2-36 0 9 3 36 2-58 1 26 2-20 1 21 1-27 1 27 3-8 2-11 3 21 0-29 2 9 1 28 3-13 2-29 1 14 2-53 2-14 2 29 0-13 3 51 3-42 0 18 2 15 2-30 1-8 2-54 1-18 1 28 2 2 1-31 3 26 2-30 2 6 2-31 1 1 2 26 2-21 1 31 2 14 1-38 2 23 2-62 1 35 2 51 1 15 2 28 2-38 3 33 0 16 1-29 4-6 2 29 1 12 2-34 2 1 1-18 2 20 1-23 1-2 2 20 2-33 3-34 0 8 3 37 1 5 1 34 4 0 0 10 2-14 1 42 2-32 3 43 0-29 2 39 3 15 0-25 2 19 1-32 2 17 3 31 1-2 2-39 2 40 1 32 2-19 2-35 2-1 1 23 2-23 2 34 2 13 2-29 0-7 2 45 3-44 1 43 1 7 2-33 1 19 3 32 1-17 2 44 1-8 2 9 2 11 1-19 2 32 1-17 4-2 1 26 2 48 2-53 2-16 1 14 0-9 3 43 2-32 1 34 2-37 1 47 2-7 3-46 0 3 3 23 2-22 1 26 1 8 1-48 3 38 1-41 4 12 1-35 0 1 1-28 3 11 1-23 2-13 1-36 2 19 3-11 1 10 2-33 1 14 2-18 1 4 3-76 1 46 3-34 1-25 1-37 2 12 2-55 2-18 2 35 0 10 2-20 2 19 2-47 1 10 2-29 4 23 1-32 1-9 1 25 1-20 3-25 1-1 3 62 2-15 1-15 1 3 3 25 1 1 1 9 3-7 1 27 1 11 3-22 2-19 1 30 3-5 1 28 2-5 0-21 2 5 2 52 2 0 1-17 1 8 3-31 1-3 2 29 1 0 2 16 2 27 2-44 3 10 1 50 0-2 3-70 1 23 2 19 1 3 2-57 3 24 0-25 2 13 2 29 1-19 3 37 1 14 3-39 0-1 2 34 1-11 3 31 1 4 3-10 1-20 1 31 3 19 2-37 2 24 1-22 0 26 2-55 3 11 1-22 2 20 2-14 2 58 2-55 0-5 2-20 3 40 1-28 1-26 3 43 0 3 3-44 2 9 2 13 0 12 1-18 2 8 2 32 2-26 3-29 0-4 2 39 3-24 1-27 2 20 1-26 2 2 2 34 1 7 1-27 3 24 2-33 1 22 3-35 1 34 1-41 2 5 2 30 2 28 1-32 3 48 1-40 1-13 1-56 3 54 2-9 3-14 0 22 2-12 1-55 3 6 1-39 1 4 1 37 2 2 3-46 1-14 2 29 2-45 2 39 2-25 1 39 1-19 2-52 1 7 1-33 3 17 2-45 1 28 2-35 2-15 2 25 1 24 2-34 1-11 2 44 2 7 2-54 1 6 2 68 3-3 1-23 1-15 1 28 2-13 2 45 2-2 2-21 1 20 3-44 1 11 2 42 2-2 1 24 1-25 2 63 2-5 2 21 3-11 1 36 1-31 2 43 1 2 2 25 1-26 2 30 1-12 3 34 1-24 2 43 2 13 2-23 1-18 3 17 2 0 0-20 4-10 0-23 1 20 3 45 0 2 2-56 2 40 3-51 1 28 0-14 4 4 1-34 1 22 2-42 1-5 3 28 2-7 1-28 2 17 0-22 2 21 1 20 3-21 1 31 2-18 3 31 2-7 1-19 3 59 1-48 2 7 1 14 1 5 2-30 1 17 3 51 3-1 0-19 2 25 1-37 2 6 2-31 1 12 1 35 3-16 1 26 4-19 1-14 0 5 2 29 2 10 2-36 1 32 2-40 2 6 2 43 2-32 1 38 2-16 1-29 2 1 2 37 3-49 1 31 0 11 2 27 2 9 2-33 2 17 2-17 1 11 2-24 2 24 1-18 3 25 1-27 1-8 2 5 1-15 2 35 2-14 2 41 1-3 2-23 2 12 1-16 2 13 2-40 1 23 1 35 2-19 2-37 2 40 1-36 2 4 3-50 1 2 3 56 0-4 3-24 1 1 2-26 2 26 1-29 2 26 1-19 3 7 2 47 1-12 2-60 1 12 2-37 2 28 1-71 2 22 1 36 4-1 0-23 1 4 2-56 2 52 2-22 1-14 1 48 2-18 3-27 2 36 2-31 0-3 3 43 1 7 1-52 3 60 2-38 0-21 2 64 2-9 3-31 0-5 3 38 0 11 1-21 3 11 1 22 2-4 2-21 2 15 1 31 2-31 1-9 2 24 1 37 3 5 2-19 1 22 2-24 4 15 1-20 0 7 2 27 2-13 2 35 1-24 2 41 2-19 2 51 1 2 2-22 1 25 3 22 1 10 2-15 1-11 3 70 0-16 3-39 1 2 3-62 0 33 2-31 2 15 2-34 1-12 2 38 3-2 1-34 1 20 3-31 1-12 2 25 0-26 3 32 3-3 0 14 2-6 2-19 2 50 2-69 0 5 3-18 0 4 1 21 3 4 2-23 3-28 1 30 1 1 2-28 3-7 1 33 0-10 3-42 1 12 2-23 2-7 2 38 1-4 2-35 1 5 3 19 1-11 2 68 1-6 2-61 3 12 1-17 1 17 1-37 2 14 2-33 1-16 3 21 1-23 2 51 2-13 1-15 2-7 1-39 2 17 2-23 3 30 1-19 1 4 2 38 1 6 1 27 3-11 2-29 2 34 1-32 3 44 1-30 1 39 2-57 1 4 3 39 1-10 1 42 3 13 1-27 3-20 1 50 1-9 1-11 3-10 2 40 1-17 3-37 1-12 1 59 2 2 1-26 2 1 2 25 1 6 2 29 2-32 1-36 3 37 2 17 0 2 1-23 4-24 1 32 2 5 1-15 3 14 1-24 3 53 1-29 1 17 1-12 3 7 1 30 3-47 1 23 2 9 1-20 2 42 1-27 2 17 2-38 2 11 1 34 2 27 2-47 1 17 2 38 1-51 2 63 2-37 2 33 2-27 1 30 2-5 1-23 2 46 1-14 2 0 2-22 2-5 1 28 2-20 2 33 1 7 3-22 3-5 1-21 1-31 2 35 0 2 1-37 4 46 1-15 1-5 2 61 2-28 3-47 2-15 0 14 1-1 3 17 1-8 1-22 3 9 2 17 2-31 1 30 1-21 3-24 1-34 1 55 3-21 1-23 1 10 3-43 1 16 2 18 1 2 2-49 1 8 3-42 1-16 1 42 2-16 1-22 3-7 1-20 3 16 1-42 1 6 3 19 1-7 1 20 2-6 2-24 2-5 1 28 2-9 2-40 2 37 1-47 2 25 3-42 3 2 0-17 2 3 2 36 0-2 2-52 2 8 2 31 1 10 3-37 0-11 1-30 5 51 0-19 2 38 2-50 1 53 1-53 2 5 1 22 3 14 2-37 1 15 3 34 1 8 1-18 2 24 1-29 2 31 2-36 2 17 1 39 2-17 2-27 1 19 2 25 2 9 2-44 1-14 1 32 2-21 3 25 1-18 2 66 1-23 1-18 2 10 3 24 1-14 3-47 3 35 1 9 1 30 3-8 1-22 2-7 2 25 1-10 2 31 2-2 2-31 1 2 1-24 2 11 1-24 2 24 2 29 2-32 2 47 2-46 1 29 4 17 0-33 1 31 2-24 2-6 1 36 2-34 2 24 2-24 1 21 3-24 2 49 0-6 2-44 1 17 1-29 3 5 1 42 4-33 1-15 2 38 1-23 3-13 1 30 0-13 2 47 2 8 2 24 1-12 3-56 2 45 1 27 3-11 1 11 1 0 2 35 1-26 1-24 3 13 1 21 3-12 2-41 1 7 2 26 1-2 1-24 2 14 2 24 2-43 1 23 2-23 1 39 3-1 1-30 2 30 2-28 1-27 1 27 2 10 3-30 2 31 1-36 2-3 1 13 2 24 2-50 3-9 0 28 2 13 1-19 2 3 0-35 4-28 1 25 1-7 2-27 3 26 1-38 3 32 1-46 1 31 3-50 1 28 2-18 1 6 0-26 4-6 2-27 1 2 2 48 2-33 1 31 2-26 2 41 0 8 2-41 4-14 1 30 1 25 2-28 1-19 3 25 0 14 2-27 2 39 1-31 2 22 3-13 0 23 2-30 2 22 1-6 4-15 0 23 2-8 2-29 2-30 2 46 0-8 2 50 3-20 2 21 0 10 2-45 2 25 1-21 2 23 1 38 3-39 2 29 2-36 1 33 2-2 2 43 1-3 2-25 2-12 2 42 0-7 2 36 2-39 3 45 2 9 1-22 0 11 3 21 1-8 1 29 2-16 1-21 3 34 3-48 0 40 3 24 1 17 2-51 2 4 1-38 1 16 3 49 2-11 2 33 1-11 2 13 1-26 2 52 2 33 1-55 1 11 3 52 1-15 3-34 1-22 2 46 1-7 2 40 1 0 1-29 3 18 2 22 1-22 1 26 3-31 2 31 1-4 2 43 1-29 2 32 3-22 1 12 2-40 1 31 3 13 1-23 0 5 2 51 3-9 1-34 2 22 2-28 1 16 2-35 1 32 2-62 2 31 1 12 3 6 1-24 1-3 3 10 1-28 1 39 2-11 3-26 0 18 3-53 1-3 2 38 2-34 2 40 2-22 0 28 2-27 2-34 4 16 0 25 1-1 2-38 2 23 2-19 1-2 3 26 0-2 2-49 2 41 1-34 2 24 1 33 3-28 2-26 3 21 1-26 0-17 3 47 0-8 3-46 1 2 3-31 0 9 3 44 2-43 1 40 2-55 1 29 3-30 1 15 1 1 1-27 2 42 2-38 4 28 0-19 2-2 1 10 1-1 2-22 2-26 2 46 2 2 2-31 2 33 2-40 0 8 3 47 1 18 2-22 3-7 1 30 1 6 2 41 1-14 2-11 2 10 1-15 1-5 3 48 1 4 3-11 1-21 2 35 1-25 2 35 2-26 1 35 2-13 2-24 2-3 1-14 1 28 3-34 2-30 2 35 0-9 3-39 0-7 2 15 3-47 1 36 2-20 2 28 1-10 3-35 1 39 2-44 0 21 1 29 4 22 1-47 1 0 1 34 3-32 3 35 0-9 2-21 1-1 3-24 1 6 2 40 1-8 2 52 3 4 2-32 1-13 1 30 1-9 2 11 2 4 2 43 3-2 1-32 1-26 3 42 0-12 2-44 1 32 2 23 2-12 1 31 4-26 1 35 1-11 2 39 3-30 1 19 1 25 2-52 1-13 3 41 1-19 2-22 1 45 1-20 2 6 1 24 3-2 2-43 1-11 3 33 0 10 3-34 1-6 3 31 0-8 2 22 1-24 3-28 1 20 1-26 4 10 1-25 1 5 2 37 2-9 2 24 1-28 2 26 1 1 3-29 0 13" stroke="#008000" stroke-width="14.5"/>
</g>
<rect x="586.6" y="300.6" width="91.60000000000002" height="41.599999999999966" rx="1.5" fill="#fff" fill-opacity="0.8" stroke="#d6d6d6" stroke-width="0.7"/>
<line x1="589.4" y1="307.9" x2="608.6" y2="307.9" stroke="#0000ff" stroke-width="1.3"/>
<text x="615.10" y="311.20" font-size="9.0" text-anchor="start" textLength="59.55" lengthAdjust="spacingAndGlyphs" >Deterministic</text>
<line x1="589.4" y1="321.0" x2="608.6" y2="321.0" stroke="#ff0000" stroke-width="1.3" stroke-dasharray="5.2 2.3"/>
<text x="615.10" y="324.30" font-size="9.0" text-anchor="start" textLength="53.27" lengthAdjust="spacingAndGlyphs" >White Noise</text>
<line x1="589.4" y1="334.2" x2="608.6" y2="334.2" stroke="#008000" stroke-width="1.3" stroke-dasharray="8.7 2.2 1.4 2.2"/>
<text x="615.10" y="337.50" font-size="9.0" text-anchor="start" textLength="48.37" lengthAdjust="spacingAndGlyphs" >Lévy Noise</text>
<rect x="384.2" y="296.2" width="298.2" height="197.60000000000002" fill="none" stroke="#000" stroke-width="0.75"/>
<line x1="397.8" y1="493.8" x2="397.8" y2="496.90000000000003" stroke="#000" stroke-width="0.75"/>
<text x="397.80" y="507.00" font-size="9.0" text-anchor="middle" textLength="5.16" lengthAdjust="spacingAndGlyphs" >0</text>
<line x1="451.96" y1="493.8" x2="451.96" y2="496.90000000000003" stroke="#000" stroke-width="0.75"/>
<text x="451.96" y="507.00" font-size="9.0" text-anchor="middle" textLength="10.32" lengthAdjust="spacingAndGlyphs" >20</text>
<line x1="506.12" y1="493.8" x2="506.12" y2="496.90000000000003" stroke="#000" stroke-width="0.75"/>
<text x="506.12" y="507.00" font-size="9.0" text-anchor="middle" textLength="10.32" lengthAdjust="spacingAndGlyphs" >40</text>
<line x1="560.28" y1="493.8" x2="560.28" y2="496.90000000000003" stroke="#000" stroke-width="0.75"/>
<text x="560.28" y="507.00" font-size="9.0" text-anchor="middle" textLength="10.32" lengthAdjust="spacingAndGlyphs" >60</text>
<line x1="614.44" y1="493.8" x2="614.44" y2="496.90000000000003" stroke="#000" stroke-width="0.75"/>
<text x="614.44" y="507.00" font-size="9.0" text-anchor="middle" textLength="10.32" lengthAdjust="spacingAndGlyphs" >80</text>
<line x1="668.6" y1="493.8" x2="668.6" y2="496.90000000000003" stroke="#000" stroke-width="0.75"/>
<text x="668.60" y="507.00" font-size="9.0" text-anchor="middle" textLength="15.48" lengthAdjust="spacingAndGlyphs" >100</text>
<line x1="381.09999999999997" y1="305.2" x2="384.2" y2="305.2" stroke="#000" stroke-width="0.75"/>
<text x="377.80" y="308.80" font-size="9.0" text-anchor="end" textLength="12.90" lengthAdjust="spacingAndGlyphs" >0.6</text>
<line x1="381.09999999999997" y1="333.37" x2="384.2" y2="333.37" stroke="#000" stroke-width="0.75"/>
<text x="377.80" y="336.97" font-size="9.0" text-anchor="end" textLength="12.90" lengthAdjust="spacingAndGlyphs" >0.5</text>
<line x1="381.09999999999997" y1="361.54" x2="384.2" y2="361.54" stroke="#000" stroke-width="0.75"/>
<text x="377.80" y="365.14" font-size="9.0" text-anchor="end" textLength="12.90" lengthAdjust="spacingAndGlyphs" >0.4</text>
<line x1="381.09999999999997" y1="389.71" x2="384.2" y2="389.71" stroke="#000" stroke-width="0.75"/>
<text x="377.80" y="393.31" font-size="9.0" text-anchor="end" textLength="12.90" lengthAdjust="spacingAndGlyphs" >0.3</text>
<line x1="381.09999999999997" y1="417.88" x2="384.2" y2="417.88" stroke="#000" stroke-width="0.75"/>
<text x="377.80" y="421.48" font-size="9.0" text-anchor="end" textLength="12.90" lengthAdjust="spacingAndGlyphs" >0.2</text>
<line x1="381.09999999999997" y1="446.05" x2="384.2" y2="446.05" stroke="#000" stroke-width="0.75"/>
<text x="377.80" y="449.65" font-size="9.0" text-anchor="end" textLength="12.90" lengthAdjust="spacingAndGlyphs" >0.1</text>
<line x1="381.09999999999997" y1="474.22" x2="384.2" y2="474.22" stroke="#000" stroke-width="0.75"/>
<text x="377.80" y="477.82" font-size="9.0" text-anchor="end" textLength="12.90" lengthAdjust="spacingAndGlyphs" >0.0</text>
<text x="533.30" y="291.00" font-size="11.0" text-anchor="middle" textLength="101.03" lengthAdjust="spacingAndGlyphs" >Comparison for Qh</text>
<text x="533.30" y="520.10" font-size="9.0" text-anchor="middle" textLength="21.20" lengthAdjust="spacingAndGlyphs" >Time</text>
<text x="358.90" y="396.30" font-size="9.0" text-anchor="middle" textLength="12.16" lengthAdjust="spacingAndGlyphs" transform="rotate(-90 358.90 396.30)" >Qh</text>
<text x="509.90" y="550.70" font-size="16.5" text-anchor="middle" style="font-family:'Liberation Serif', serif;fill:#111;stroke:none">(</text>
<text x="516.70" y="550.20" font-size="15.5" text-anchor="middle" textLength="7.60" lengthAdjust="spacingAndGlyphs" style="font-family:'Liberation Serif', serif;fill:#111;stroke:none">d</text>
<text x="523.10" y="550.70" font-size="16.5" text-anchor="middle" style="font-family:'Liberation Serif', serif;fill:#111;stroke:none">)</text>
<clipPath id="clipe"><rect x="26.5" y="577.6" width="305.9" height="202.79999999999995"/></clipPath>
<g clip-path="url(#clipe)" fill="none" stroke-linejoin="round" stroke-linecap="butt">
<path transform="scale(0.1)" d="M405 7709l5-1 5 0 5-1 5-1 5 0 5-1 5-1 5 0 5-1 5-1 5-1 5-1 5-1 5-1 5-1 5-1 4-1 5-1 5-1 5-1 5-1 5-1 5-2 4-1 5-1 5-2 5-1 5-1 4-2 5-1 5-1 5-2 4-1 5-2 5-1 4-2 5-2 5-1 4-2 5-1 5-2 4-2 5-2 5-1 4-2 5-2 4-2 5-1 5-2 4-2 5-2 4-2 5-2 4-2 5-2 4-2 5-2 4-2 5-2 4-2 5-2 4-2 5-2 4-3 5-2 4-2 5-2 4-2 5-3 4-2 4-2 5-2 4-3 5-2 4-2 4-3 5-2 4-2 4-3 5-2 4-3 5-2 4-3 4-2 5-2 4-3 4-2 5-3 4-2 4-3 4-2 5-3 4-3 4-2 5-3 4-2 4-3 4-3 5-2 4-3 4-2 4-3 5-3 4-2 4-3 4-3 5-2 4-3 4-3 4-2 5-3 4-3 4-3 4-2 4-3 5-3 4-2 4-3 4-3 5-3 4-2 4-3 4-3 4-3 4-2 5-3 4-3 4-3 4-2 4-3 5-3 4-3 4-3 4-2 4-3 4-3 5-3 4-2 4-3 4-3 4-3 4-3 5-2 4-3 4-3 4-3 4-3 4-2 5-3 4-3 4-3 4-3 4-2 4-3 4-3 5-3 4-3 4-3 4-2 4-3 4-3 4-3 4-3 5-2 4-3 4-3 4-3 4-3 4-3 4-2 5-3 4-3 4-3 4-3 4-3 4-2 4-3 4-3 4-3 5-3 4-3 4-3 4-2 4-3 4-3 4-3 4-3 4-3 5-2 4-3 4-3 4-3 4-3 4-3 4-3 4-2 4-3 5-3 4-3 4-3 4-3 4-3 4-2 4-3 4-3 4-3 4-3 5-3 4-3 4-2 4-3 4-3 4-3 4-3 4-3 4-3 4-3 5-2 4-3 4-3 4-3 4-3 4-3 4-3 4-2 4-3 4-3 4-3 5-3 4-3 4-3 4-3 4-2 4-3 4-3 4-3 4-3 4-3 5-3 4-2 4-3 4-3 4-3 4-3 4-3 4-3 4-2 4-3 4-3 5-3 4-3 4-3 4-3 4-3 4-2 4-3 4-3 4-3 4-3 5-3 4-3 4-2 4-3 4-3 4-3 4-3 4-3 4-3 4-2 5-3 4-3 4-3 4-3 4-3 4-3 4-2 4-3 4-3 4-3 5-3 4-3 4-3 4-2 4-3 4-3 4-3 4-3 4-3 4-3 5-3 4-2 4-3 4-3 4-3 4-3 4-3 4-3 4-2 4-3 5-3 4-3 4-3 4-3 4-2 4-3 4-3 4-3 4-3 4-3 5-3 4-2 4-3 4-3 4-3 4-3 4-3 4-3 4-2 4-3 5-3 4-3 4-3 4-3 4-3 4-2 4-3 4-3 4-3 5-3 4-3 4-3 4-2 4-3 4-3 4-3 4-3 4-3 4-2 5-3 4-3 4-3 4-3 4-3 4-3 4-2 4-3 4-3 5-3 4-3 4-3 4-2 4-3 4-3 4-3 4-3 4-3 5-3 4-2 4-3 4-3 4-3 4-3 4-3 4-2 4-3 5-3 4-3 4-3 4-3 4-2 4-3 4-3 4-3 4-3 5-3 4-3 4-2 4-3 4-3 4-3 4-3 4-3 4-2 5-3 4-3 4-3 4-3 4-3 4-2 4-3 4-3 4-3 5-3 4-3 4-2 4-3 4-3 4-3 4-3 4-3 5-2 4-3 4-3 4-3 4-3 4-3 4-2 4-3 4-3 5-3 4-3 4-2 4-3 4-3 4-3 4-3 4-3 5-2 4-3 4-3 4-3 4-3 4-3 4-2 4-3 5-3 4-3 4-3 4-2 4-3 4-3 4-3 4-3 5-3 4-2 4-3 4-3 4-3 4-3 4-3 4-2 5-3 4-3 4-3 4-3 4-2 4-3 4-3 5-3 4-3 4-2 4-3 4-3 4-3 4-3 4-3 5-2 4-3 4-3 4-3 4-3 4-2 4-3 5-3 4-3 4-3 4-2 4-3 4-3 4-3 4-3 5-2 4-3 4-3 4-3 4-3 4-2 4-3 5-3 4-3 4-3 4-2 4-3 4-3 4-3 5-3 4-2 4-3 4-3 4-3 4-3 4-2 5-3 4-3 4-3 4-3 4-2 4-3 4-3 5-3 4-3 4-2 4-3 4-3 4-3 4-3 5-2 4-3 4-3 4-3 4-2 4-3 5-3 4-3 4-3 4-2 4-3 4-3 4-3 5-3 4-2 4-3 4-3 4-3 4-2 5-3 4-3 4-3 4-3 4-2 4-3 4-3 5-3 4-2 4-3 4-3 4-3 4-3 5-2 4-3 4-3 4-3 4-2 4-3 5-3 4-3 4-2 4-3 4-3 4-3 5-3 4-2 4-3 4-3 4-3 4-2 5-3 4-3 4-3 4-2 4-3 4-3 5-3 4-2 4-3 4-3 4-3 4-2 5-3 4-3 4-3 4-3 4-2 4-3 5-3 4-3 4-2 4-3 4-3 4-3 5-2 4-3 4-3 4-3 4-2 5-3 4-3 4-3 4-2 4-3 4-3 5-2 4-3 4-3 4-3 4-2 5-3 4-3 4-3 4-2 4-3 4-3 5-3 4-2 4-3 4-3 4-3 5-2 4-3 4-3 4-3 4-2 5-3 4-3 4-2 4-3 4-3 5-3 4-2 4-3 4-3 4-3 4-2 5-3 4-3 4-2 4-3 4-3 5-3 4-2 4-3 4-3 4-2 5-3 4-3 4-3 4-2 4-3 5-3 4-2 4-3 4-3 4-3 5-2 4-3 4-3 4-2 5-3 4-3 4-3 4-2 4-3 5-3 4-2 4-3 4-3 4-2 5-3 4-3 4-3 4-2" stroke="#0000ff" stroke-width="14.0"/>
<path transform="scale(0.1)" d="M405 7697l2 0 2-2 2 1 2-1 2 1 2-6 2 8 2-5 2-3 2 0 2 4 2 2 2 1 2-3 2-5 2 6 2-11 2 7 2-1 2-15 2 3 2 1 2-11 2-2 2-2 2 9 2-14 2 8 2 7 2-10 2-13 2 12 2-1 2 1 2-8 2 11 2-7 2-2 2-1 2 9 2-1 2-6 2 0 2 1 2 3 2 7 2-4 2 0 2 10 2 3 2-10 2 3 2 1 2-2 2-2 2 12 2-10 2-5 2 3 2-5 2 4 2-17 2 2 2 17 2-11 2-3 2-4 2 4 2 11 2-15 2 17 2-12 2 16 2 2 2-18 2 2 2 0 2-3 2 2 2-1 2 0 2-11 2 8 2-2 2 9 2 0 2-1 2-2 2 0 2 0 2-14 2 8 2-1 2 12 2 2 2-6 2 6 2 12 2-9 2 2 2 13 2-9 2-4 2-2 2-2 2 6 2-12 2 13 2 2 2 1 2 7 2-1 2-8 2 2 2-4 2 17 2-9 2-9 2 1 2 15 2-6 2 1 2-4 2-8 2 13 2-9 2-7 2 8 2-8 2 11 2-3 2-7 2 9 2-3 2-9 2-4 2 2 2 5 2-18 2 9 2-11 2 2 2-13 2-2 2 8 2-4 2 1 2 10 2-9 2 3 2-17 2 9 2-7 2-6 2 3 2-3 2-4 2-4 2 6 2-3 2-17 2 21 2-8 2-4 2 4 2 9 2-22 2 1 2-4 2 5 2-5 2-1 2-8 2 3 2 4 2-8 2-5 2 2 2-17 2 10 2-2 2-4 2-1 2-6 2-6 2 9 2-5 2-4 2 7 2-11 2-1 2-4 2 10 2-9 2 2 2-9 2 1 2 7 2-3 2 2 2-3 2 3 2-2 2-10 2 7 2-8 2-2 2 3 2-7 2 0 2-4 2-6 2 1 2-1 2-2 2 2 2-8 2 2 2-1 2 5 2 16 2-7 2-15 2 4 2-8 2 2 2-12 2-2 2 10 2-18 2 13 2-8 2 5 2-12 2 0 2-8 2 5 2-16 2 7 2 9 2-12 2 0 2 6 2-7 2-9 2 26 2-24 2 10 2-3 2 11 2-17 2 4 2 9 2-8 2-5 2 5 2-6 2-1 2-10 2 3 2-4 2-2 2 0 2-7 2 17 2-17 2 14 2-5 2-6 2-14 2 20 2-34 2 15 2-9 2-9 2 9 2-2 2 1 2-7 2-7 2-1 2 9 2-6 2 2 2-5 2 4 2-17 2 11 2-15 2-5 2 15 2-4 2 9 2-12 2 1 2-6 2-8 2 9 2 0 2-10 2 14 2-14 2 10 2-13 2-2 2-5 2 9 2-13 2 5 2-13 2 1 2-2 2 1 2 12 2-10 2-1 2-27 2 9 2-1 2-5 2-1 2-10 2 6 2-11 2 20 2-17 2 4 2-2 2-10 2-10 2 14 2 3 2-6 2-2 2 6 2-14 2-5 2 3 2-4 2 10 2-4 2-6 2 8 2-7 2-7 2-9 2 11 2-9 2-5 2 2 2-3 2 1 2-10 2-17 2 26 2-5 2-6 2 10 2-14 2-2 2-4 2 12 2-5 2 6 2 1 2-9 2 1 2-6 2-2 2-6 2 17 2 0 2-11 2 5 2-4 2-3 2-11 2 4 2 1 2 2 2 6 2-19 2-1 2-5 2 12 2 8 2-17 2-1 2 10 2-15 2 8 2-6 2 4 2-13 2 8 2-4 2 11 2-11 2-5 2 5 2-9 2-8 2 12 2 4 2-12 2 13 2-15 2 1 2-4 2 6 2-20 2 15 2-11 2 9 2-8 2 12 2-9 2 10 2 0 2 7 2 0 2-11 2 4 2 5 2-7 2-5 2-4 2 14 2-8 2-2 2 5 2-10 2 5 2 0 2-15 2 7 2-10 2-8 2 10 2 4 2-9 2 15 2 5 2-19 2 2 2-6 2-1 2 8 2 5 2-23 2 8 2 1 2-5 2-6 2 6 2-1 2-3 2 5 2-10 2-5 2 9 2 0 2-15 2 0 2-4 2 1 2-6 2 6 2 4 2 0 2-11 2-2 2-1 2-13 2 1 2 3 2-2 2 0 2-3 2-8 2 10 2-9 2-20 2 13 2-6 2 4 2-5 2 18 2-11 2 4 2 5 2-2 2-7 2 10 2 3 2-6 2 1 2-3 2 1 2 7 2-19 2 10 2-12 2 4 2-4 2 10 2-7 2 0 2-5 2-3 2-12 2 14 2-5 2-4 2-8 2 0 2-7 2 2 2 8 2-1 2-4 2-5 2-17 2 18 2-14 2 7 2-11 2 13 2-16 2 8 2 0 2-13 2 5 2-9 2 5 2-14 2-7 2 9 2 1 2-1 2 3 2 5 2-21 2 4 2-6 2 1 2-2 2 8 2 1 2-8 2 6 2-10 2-5 2-2 2 7 2 3 2-10 2 1 2-3 2-8 2-3 2-6 2 0 2 7 2-7 2 5 2-12 2 17 2-22 2 14 2-6 2 1 2-4 2-6 2 7 2-9 2-3 2 11 2-7 2-5 2 4 2 14 2-18 2 14 2 5 2-6 2-5 2-5 2 2 2-12 2-1 2-11 2 15 2-3 2-8 2 2 2-13 2-4 2-7 2 13 2-7 2-4 2-2 2-3 2-2 2 3 2-3 2-8 2 8 2-9 2-4 2 1 2 5 2-1 2-12 2 5 2-1 2 1 2 11 2-4 2-3 2-4 2-8 2 2 2-2 2-5 2 8 2 1 2 8 2-23 2 0 2-1 2 3 2 3 2 0 2-6 2-3 2-2 2-13 2 14 2-6 2-8 2 3 2-1 2 3 2-8 2 12 2 11 2-4 2-12 2 2 2 1 2 5 2-1 2-6 2-9 2 2 2 6 2-7 2 5 2-22 2 6 2 7 2-2 2 0 2-6 2-5 2-1 2 15 2-29 2 19 2-19 2 6 2 11 2-9 2-5 2-1 2 5 2 0 2-10 2-7 2-6 2 7 2-13 2-2 2 7 2-3 2-14 2 12 2-9 2 1 2-8 2 0 2 2 2-4 2-7 2 9 2-21 2 4 2-3 2-8 2 17 2 2 2-14 2-8 2 15 2-9 2 4 2-13 2 3 2-10 2 5 2-5 2 2 2-2 2-6 2 8 2 3 2-1 2-16 2-3 2 12 2-5 2 2 2-7 2 8 2-5 2-3 2-5 2 16 2-7 2-17 2 16 2-20 2-4 2-3 2 0 2-2 2 2 2 1 2-10 2 13 2 6 2-17 2 10 2-18 2-3 2 22 2-18 2 5 2-8 2-1 2 9 2-11 2-15 2 11 2-3 2-16 2 7 2-1 2-11 2 10 2-8 2-2 2 11 2-6 2 12 2-5 2-3 2-10 2 13 2-8 2-6 2 16 2-15 2 13 2-13 2 0 2-3 2-4 2 10 2 2 2-20 2 6 2 9 2-7 2-1 2 9 2-11 2-6 2 6 2 4 2 3 2 1 2 2 2-14 2 9 2 0 2 0 2-10 2 0 2 2 2-7 2-2 2 0 2 1 2-5 2-5 2-1 2 5 2-9 2-17 2 9 2 6 2-9 2-3 2-6 2 3 2-3 2-4 2-9 2 4 2 2 2-8 2 1 2-15 2 15 2-16 2 0 2-4 2-11 2 6 2-12 2-3 2-16 2 13 2-2 2-4 2-3 2-2 2 2 2-3 2-4 2 11 2-13 2-10 2-11 2 10 2-7 2 13 2-20 2 5 2-8 2 4 2 8 2-5 2-7 2-3 2-3 2-10 2 7 2 0 2 5 2-3 2 1 2 8 2-4 2-7 2-7 2 7 2 0 2 4 2-6 2-16 2-1 2 10 2-12 2 9 2-8 2 4 2-6 2-5 2 0 2-11 2 6 2 1 2-17 2 7 2 1 2-1 2-2 2 7 2-4 2 0 2 4 2-6 2 1 2-8 2 2 2-10 2 11 2-4 2-3 2 0 2-11 2 4 2 3 2 3 2 0 2-13 2-4 2 6 2-5 2 7 2 4 2-9 2 0 2 4 2 1 2-7 2-2 2-13 2 5 2 1 2-10 2 8 2-9 2 6 2 6 2-12 2 3 2 2 2 3 2-5 2-4 2-8 2 19 2-4 2-4 2-2 2-2 2 3 2-4 2 2 2-9 2-10 2 17 2 5 2-8 2-2 2 1 2 16 2-11 2-12 2 5 2 7 2-15 2-4 2 13 2-7 2-6 2 3 2 2 2 4 2-4 2 7 2-10 2-7 2 12 2 6 2-11 2-7 2-7 2 13 2-17 2 17 2-2 2-7 2 0 2-9 2 1 2 7 2-11 2 3 2 0 2 4 2-3 2 0 2 4 2-2 2-16 2 2 2 0 2 14 2-1 2 8 2 1 2-3 2-9 2-4 2 10 2-5 2-2 2-7 2-3 2 6 2-12 2-1 2 5 2-6 2 3 2 9 2 3 2-11 2-5 2 11 2-4 2-3 2-17 2 14 2 3 2-2 2-8 2 6 2 3 2-13 2 3 2-3 2 0 2-9 2 5 2 3 2-5 2 3 2-1 2 0 2-1 2-5 2-18 2 3 2 1 2 0 2-2 2-5 2 6 2-11 2-9 2 5 2-5 2-8 2-4 2 9 2-4 2-3 2 0 2 5 2-2 2 1 2-2 2 3 2 4 2-1 2-7 2 2 2-10 2 5 2 5 2 0 2-10 2 12 2-5 2-9 2-6 2 7 2 3 2-6 2 14 2-7 2-6 2 3 2-22 2 10 2-6 2 2 2 2 2-6 2-2 2 2 2-8 2-1 2 18 2-16 2 0 2 7 2-7 2 0 2-3 2-4 2 0 2-2 2 6 2-9 2 12 2-12 2-5 2 4 2-11 2 12 2-15 2 11 2 4 2-8 2-13 2 3 2 8 2 0 2 1 2 2 2-7 2-7 2 10 2-8 2 6 2-11 2-13 2 6 2 3 2-4 2 4 2 10 2-21 2 6 2-12 2 4 2-3 2-1 2-6 2 4 2-7 2 2 2-6 2-4 2 3 2 2 2-2 2-11 2-11 2 2 2-1 2 3 2-6 2-8 2-2 2 5 2 1 2 0 2-12 2 1 2 6 2-7 2-9 2 6 2-10 2-3 2-8 2 8 2-7 2-12 2-3 2 18 2-13 2-6 2 9 2 1 2-8 2 7 2-16 2 7 2-6 2-9 2 13 2-2 2 2 2-5 2-17 2 1 2 4 2-3 2 7 2-4 2 0 2-3 2-3 2 3 2-7 2 5 2 4 2-9 2 1 2 5 2-8 2-4 2-4 2 5 2 2 2-9 2 0 2 3 2 9 2-23 2 15 2-12 2 0 2-1 2 1 2-9 2 5 2-8 2 5 2-9 2 7 2-3 2-3 2 3 2-2 2 2 2 2 2-9 2-6 2 12 2-7 2-2 2 4 2 3 2-5 2-6 2 2 2-4 2-3 2 5 2-5 2 2 2 3 2 9 2-11 2 4 2 0 2 1 2 7 2-13 2 2 2-3 2-5 2 7 2 2 2-2 2-10 2-1 2 4 2-3 2-12 2-2 2 0 2-3 2 13 2-1 2-20 2 11 2-5 2 1 2 5 2 4 2-12 2 4 2-19 2 11 2-5 2 1 2 5 2-2 2 2 2-7 2 0 2 1 2-1 2 11 2-16 2-2 2-1 2-7 2 1 2-7 2 12 2-1 2 11 2-12 2 7 2-18 2 9 2 0 2-5 2-6 2-2 2 1 2 0 2-5 2 4 2 11 2-9 2-12 2 3 2-7 2 5 2-3 2 1 2 2 2-10 2 5 2 2 2-1 2 14 2-12 2 2 2 13 2 1 2-8 2 1 2-7 2 6 2-1 2-7 2 4 2 0 2-13 2 14 2-8 2 3 2-14 2 7 2-15 2 2 2 0 2 9 2 1 2 10 2-15 2 8 2-5 2-4 2 7 2-6 2-2 2-1 2-6 2 1 2-2 2-15 2 11 2-3 2-4 2 7 2-10 2 8 2-5 2-8 2 6 2-12 2 0 2 3 2-6 2-5 2-1 2 4 2-11 2-8 2-4 2 4 2-10 2-9 2 4 2 5 2-1 2 4 2-18 2 22 2-7 2-9 2 9 2-14 2 7" stroke="#ff0000" stroke-width="15.0"/>
<path transform="scale(0.1)" d="M405 7707l2-1 2 1 2-1 2 2 2-1 2 2 2-3 2-1 2 2 2 0 2 2 2 1 2-1 2-7 2 7 2 0 2 0 2-4 2 10 2-6 2-4 2 12 2-10 2-9 2 1 2 3 2 0 2 9 2-6 2 2 2 1 2-6 2 1 2-7 2 0 2 10 2-13 2 3 2 9 2 0 2 0 2-14 2 6 2 12 2-18 2 10 2 1 2 0 2-7 2 6 2 2 2-7 2-5 2 10 2-7 2 1 2 0 2-12 2-7 2 14 2 0 2-5 2 3 2 1 2-6 2 3 2-1 2-3 2 5 2 0 2-4 2-3 2 3 2-7 2-1 2-8 2 13 2-7 2-1 2-3 2-4 2-4 2 5 2-7 2 5 2 1 2-5 2-8 2 2 2-5 2 5 2 4 2 2 2 4 2-7 2-3 2 6 2 1 2-8 2 8 2-9 2 3 2-6 2 5 2-1 2-4 2 3 2-6 2 9 2-8 2-7 2 10 2 3 2-2 2-2 2 10 2-4 2-6 2 6 2-9 2 4 2 5 2-6 2 2 2 1 2-5 2 10 2-21 2 10 2-2 2 3 2 2 2-9 2-5 2 10 2-1 2-2 2-2 2-15 2 4 2 5 2 2 2-12 2 8 2-3 2 2 2 7 2-9 2-3 2 1 2-6 2-7 2-2 2 2 2-15 2 11 2-6 2 12 2-7 2-9 2 14 2-11 2-2 2 4 2-2 2-3 2-7 2-3 2 6 2-7 2 3 2-19 2 18 2-6 2 0 2-4 2 6 2 0 2-11 2 0 2-1 2 2 2-7 2 6 2-5 2 4 2-6 2 5 2-8 2 6 2-1 2-1 2 2 2-10 2 0 2 10 2 0 2-6 2-4 2-3 2 10 2-21 2 11 2 1 2-3 2-4 2-2 2 11 2-3 2-9 2-3 2-7 2 6 2 0 2-1 2-11 2 7 2-6 2 2 2-3 2-4 2-10 2 11 2-4 2 1 2 4 2-3 2-13 2 4 2-2 2 1 2 0 2 8 2-25 2 8 2 4 2-13 2 2 2-4 2 4 2 0 2-3 2-7 2 7 2-12 2 12 2-11 2-1 2 0 2-7 2 0 2-7 2 3 2 2 2-6 2 0 2-2 2 1 2-3 2 5 2-14 2 6 2 3 2 2 2-8 2 3 2-1 2-8 2 6 2-5 2 3 2 3 2-14 2 9 2-10 2 0 2-4 2 1 2-2 2 5 2-4 2-6 2-4 2-1 2 2 2-7 2-1 2 2 2-10 2 2 2 3 2-8 2 10 2-2 2 7 2-18 2-1 2 4 2-5 2-2 2 8 2-12 2-7 2 0 2 0 2 7 2 0 2-4 2 2 2-1 2-10 2 1 2 0 2 4 2-4 2-8 2-5 2 16 2-9 2-1 2 5 2-4 2 1 2-3 2 4 2 4 2-8 2-2 2-4 2 4 2 0 2-10 2-11 2-2 2 11 2-4 2-4 2-5 2 8 2-8 2 17 2-9 2-11 2-3 2 13 2-7 2-4 2 1 2 1 2-3 2-4 2-1 2-2 2-11 2 11 2-1 2-16 2 1 2-4 2 8 2-1 2-7 2 3 2-1 2 3 2-12 2 9 2-11 2-4 2 2 2-1 2-1 2 9 2-12 2 2 2-1 2-1 2 4 2-13 2 5 2 0 2-1 2-8 2 11 2-11 2-1 2 3 2-3 2 1 2 5 2-8 2-1 2 7 2-4 2-13 2 13 2-17 2 14 2-18 2-2 2 3 2-3 2 3 2-1 2-2 2-2 2-5 2-3 2-4 2 0 2 4 2-10 2 13 2-19 2 7 2-7 2-1 2 4 2-5 2 5 2 6 2-17 2 4 2-5 2-1 2 2 2 5 2-6 2-6 2-2 2 0 2-2 2 1 2-7 2 14 2-20 2 5 2-2 2-7 2 8 2-12 2 4 2-4 2-6 2 15 2-11 2-7 2-5 2 4 2-15 2 18 2-11 2-10 2 10 2 3 2-1 2-7 2 8 2-9 2 2 2-5 2 2 2 0 2-10 2 4 2 0 2-5 2-4 2 4 2-2 2-1 2 3 2 0 2-3 2-2 2 9 2-17 2 3 2 2 2 5 2-4 2 6 2-1 2 4 2-4 2 0 2-6 2-2 2 5 2-7 2-6 2 4 2-9 2 4 2-5 2-14 2 10 2 2 2-11 2 16 2-12 2-2 2 2 2-1 2 8 2-2 2 4 2-6 2-4 2-4 2-10 2-5 2 5 2 5 2-4 2-2 2-11 2 8 2-7 2-8 2 4 2 5 2-2 2-3 2-2 2-5 2 5 2-8 2 8 2-8 2 1 2-7 2-1 2-9 2 1 2-9 2 11 2-10 2 1 2 7 2 2 2-6 2 2 2-4 2-9 2 2 2 2 2-5 2-1 2-11 2 9 2-6 2-5 2 6 2-12 2 4 2-7 2-7 2 4 2 2 2-2 2-6 2 0 2-1 2-3 2-1 2-5 2 2 2 4 2-14 2 4 2-12 2 12 2 6 2-7 2-15 2 9 2-5 2-11 2 10 2 2 2-12 2 10 2 1 2-16 2 8 2-5 2-3 2 10 2-10 2 2 2 0 2 2 2-1 2-4 2-5 2 1 2-15 2 14 2-2 2-11 2 2 2-11 2 3 2-10 2 2 2-7 2 14 2-9 2-4 2 10 2 2 2-8 2-6 2 8 2-10 2-5 2 9 2-13 2 2 2-3 2-8 2-12 2 15 2 0 2-5 2-2 2 9 2-17 2 9 2-3 2-2 2-8 2 3 2 2 2-8 2 1 2 3 2-4 2 7 2 2 2-8 2 5 2 6 2-12 2 2 2-4 2-5 2 5 2 5 2-7 2-3 2-2 2 4 2-7 2 3 2 1 2-12 2 0 2 0 2-1 2 2 2-2 2-15 2-1 2-1 2-3 2 0 2-5 2-1 2 11 2-11 2 5 2-14 2 7 2 2 2-8 2 2 2-8 2 0 2-3 2 1 2-7 2 9 2-5 2-4 2-4 2-6 2 8 2-2 2-9 2-7 2-2 2 7 2-10 2 6 2-13 2 2 2 3 2-11 2-10 2 7 2-4 2-6 2 7 2-6 2-2 2 4 2-4 2-4 2 8 2-7 2 6 2-5 2-3 2-14 2 7 2-6 2-4 2 8 2-5 2 1 2 1 2-7 2 5 2 5 2-6 2-5 2-5 2 1 2 7 2 2 2-4 2-5 2-7 2 0 2 1 2 9 2-11 2-5 2 4 2-11 2 8 2 0 2-4 2 1 2-5 2-7 2 12 2-5 2-2 2 0 2-7 2-7 2 5 2-3 2-5 2-2 2 0 2-7 2-2 2 3 2 1 2 2 2-12 2 7 2-5 2 9 2-8 2 4 2-7 2-2 2 5 2-13 2 3 2-3 2 4 2-1 2-5 2-4 2 7 2-13 2 0 2 4 2-2 2-10 2-2 2-1 2 8 2-4 2 10 2-19 2 2 2 5 2-9 2 7 2 4 2-18 2 14 2-7 2 1 2 0 2-10 2-2 2 1 2-3 2 16 2-12 2-2 2 1 2 2 2-9 2 6 2-2 2-13 2 11 2-6 2 1 2-6 2 5 2 3 2-16 2-2 2 3 2 5 2 1 2-10 2 7 2-6 2 0 2-7 2 1 2-1 2 1 2-5 2-7 2 8 2-7 2-4 2-5 2 10 2-3 2 7 2-4 2-15 2 7 2-12 2 5 2 3 2-9 2 8 2-13 2 3 2-11 2 4 2 1 2-1 2-4 2-1 2-2 2-4 2-5 2 1 2-7 2 4 2 0 2-3 2-1 2-2 2-2 2 6 2-3 2-5 2-5 2 1 2 2 2-4 2 5 2-6 2 1 2 6 2 1 2 7 2-3 2-1 2-1 2-8 2 9 2-6 2 0 2 10 2-9 2-3 2-2 2-3 2-6 2 1 2 13 2-11 2 1 2 0 2 0 2 7 2-2 2 2 2 3 2 3 2 0 2-13 2 5 2 8 2-2 2-11 2 5 2 4 2-4 2-9 2 3 2-2 2-5 2 6 2-5 2 5 2-3 2-1 2 2 2 12 2-15 2-5 2 8 2-3 2-3 2-2 2 6 2-3 2 2 2-7 2-4 2 8 2-11 2 7 2-4 2-5 2 3 2-4 2 5 2 1 2-7 2 3 2-4 2-13 2 9 2-9 2 4 2-7 2 2 2-4 2 1 2-5 2 5 2-1 2 10 2 4 2-9 2 2 2-3 2 7 2-4 2-2 2-12 2 14 2 3 2-18 2 7 2-6 2 2 2 3 2-4 2 0 2-2 2-3 2-1 2-1 2 5 2-7 2-1 2-8 2-2 2-4 2-3 2-6 2 7 2 1 2-12 2 10 2-7 2 1 2-2 2 0 2-8 2 4 2-13 2 1 2-1 2-8 2 5 2 5 2 1 2-3 2-3 2-4 2 10 2-17 2-2 2-8 2-3 2 10 2-4 2 2 2 6 2-18 2 11 2-5 2-4 2-9 2-1 2 8 2-10 2 5 2-14 2 7 2-1 2-9 2 8 2-8 2-5 2 4 2 0 2 6 2-9 2 8 2-7 2-4 2 3 2-5 2-2 2-1 2-4 2 1 2-12 2 13 2-19 2 4 2-5 2 10 2-9 2 2 2 0 2-7 2 5 2-12 2 5 2-8 2 2 2 3 2-7 2-6 2-4 2 6 2 5 2-7 2-6 2 4 2 1 2 7 2-16 2 7 2 3 2-11 2 0 2 0 2-1 2-1 2-13 2 2 2 1 2 5 2-2 2-1 2-1 2-5 2-6 2 5 2-3 2-7 2-4 2 4 2-6 2 4 2-1 2 0 2-15 2 11 2-6 2 8 2-5 2-4 2-9 2 13 2 8 2-8 2-4 2 20 2-9 2-1 2-11 2 6 2 4 2-5 2-4 2 0 2-3 2-2 2 1 2-7 2 0 2 2 2-7 2 3 2 3 2-6 2-12 2 6 2 0 2-12 2 12 2-3 2-7 2-7 2 9 2-13 2 0 2 7 2 2 2-15 2-3 2 9 2 0 2-2 2 10 2-5 2-1 2 4 2-7 2 4 2-5 2-1 2 1 2 3 2-7 2 1 2-13 2-3 2 5 2 1 2 2 2-1 2-2 2 0 2 0 2-1 2-7 2-6 2 14 2-11 2-2 2-3 2-2 2-11 2-6 2 4 2 8 2-13 2 14 2-6 2-12 2 1 2 2 2-1 2 2 2-8 2-7 2-4 2 6 2-2 2-14 2 10 2-1 2 2 2-5 2 0 2-9 2 3 2 4 2-2 2-12 2-1 2-6 2 0 2 3 2-3 2 3 2-3 2-6 2-5 2 2 2-2 2 3 2 0 2 0 2-3 2-10 2 5 2-9 2 1 2-1 2 1 2-5 2 4 2-6 2 8 2 3 2-17 2 15 2-18 2 4 2-2 2-8 2 12 2-4 2-11 2-4 2 9 2 3 2 1 2-1 2-1 2-4 2 1 2-4 2-3 2-1 2 0 2 5 2-12 2-4 2 14 2-7 2-4 2-2 2 8 2-10 2-3 2 3 2 4 2-12 2 4 2-5 2-6 2-2 2 8 2-5 2-6 2 10 2-11 2 1 2 2 2 0 2-15 2 10 2 6 2-4 2-4 2 5 2 5 2-5 2 1 2-10 2 1 2-6 2 9 2-9 2 5 2 3 2-9 2 9 2-14 2 0 2 6 2 0 2-9 2-3 2-3 2-5 2 2 2-7 2 4 2-12 2 4 2 3 2-14 2 4 2 1 2 8 2-15 2 0 2 0 2 4 2-2 2 6 2-16 2-6 2 6 2 1 2 0 2 3 2 0 2-8 2-4 2-5 2-9 2 0 2-3 2 4 2 13 2-16 2 0 2 1 2-8 2 2 2-10 2 4 2-3 2 0 2-6 2 7 2-10 2 6 2-12 2 7 2-1 2 2 2-12 2 4 2-3 2-2 2 2 2-4 2 6 2-7 2-8 2-2 2 5 2 1 2-5 2 1 2-5 2 8 2-12 2 6 2 4 2 6 2-3 2-9 2 3 2-4 2 1 2-2 2 3 2 0 2 2 2-4 2-6 2-3 2-6 2 2 2 5 2-7 2 0 2 0" stroke="#008000" stroke-width="15.0"/>
</g>
<rect x="31.1" y="582.2" width="94.19999999999999" height="42.39999999999998" rx="1.5" fill="#fff" fill-opacity="0.8" stroke="#d6d6d6" stroke-width="0.7"/>
<line x1="34.4" y1="589.7" x2="53.8" y2="589.7" stroke="#0000ff" stroke-width="1.3"/>
<text x="60.60" y="593.09" font-size="9.234" text-anchor="start" textLength="61.10" lengthAdjust="spacingAndGlyphs" >Deterministic</text>
<line x1="34.4" y1="602.9" x2="53.8" y2="602.9" stroke="#ff0000" stroke-width="1.3" stroke-dasharray="5.2 2.3"/>
<text x="60.60" y="606.29" font-size="9.234" text-anchor="start" textLength="54.65" lengthAdjust="spacingAndGlyphs" >White Noise</text>
<line x1="34.4" y1="616.3" x2="53.8" y2="616.3" stroke="#008000" stroke-width="1.3" stroke-dasharray="8.7 2.2 1.4 2.2"/>
<text x="60.60" y="619.69" font-size="9.234" text-anchor="start" textLength="49.62" lengthAdjust="spacingAndGlyphs" >Lévy Noise</text>
<rect x="26.5" y="577.6" width="305.9" height="202.79999999999995" fill="none" stroke="#000" stroke-width="0.75"/>
<line x1="40.4" y1="780.4" x2="40.4" y2="783.5806" stroke="#000" stroke-width="0.75"/>
<text x="40.40" y="793.60" font-size="9.234" text-anchor="middle" textLength="5.29" lengthAdjust="spacingAndGlyphs" >0</text>
<line x1="96.0" y1="780.4" x2="96.0" y2="783.5806" stroke="#000" stroke-width="0.75"/>
<text x="96.00" y="793.60" font-size="9.234" text-anchor="middle" textLength="10.59" lengthAdjust="spacingAndGlyphs" >20</text>
<line x1="151.6" y1="780.4" x2="151.6" y2="783.5806" stroke="#000" stroke-width="0.75"/>
<text x="151.60" y="793.60" font-size="9.234" text-anchor="middle" textLength="10.59" lengthAdjust="spacingAndGlyphs" >40</text>
<line x1="207.2" y1="780.4" x2="207.2" y2="783.5806" stroke="#000" stroke-width="0.75"/>
<text x="207.20" y="793.60" font-size="9.234" text-anchor="middle" textLength="10.59" lengthAdjust="spacingAndGlyphs" >60</text>
<line x1="262.8" y1="780.4" x2="262.8" y2="783.5806" stroke="#000" stroke-width="0.75"/>
<text x="262.80" y="793.60" font-size="9.234" text-anchor="middle" textLength="10.59" lengthAdjust="spacingAndGlyphs" >80</text>
<line x1="318.4" y1="780.4" x2="318.4" y2="783.5806" stroke="#000" stroke-width="0.75"/>
<text x="318.40" y="793.60" font-size="9.234" text-anchor="middle" textLength="15.88" lengthAdjust="spacingAndGlyphs" >100</text>
<line x1="23.3194" y1="606.6" x2="26.5" y2="606.6" stroke="#000" stroke-width="0.75"/>
<text x="19.93" y="610.20" font-size="9.234" text-anchor="end" textLength="5.29" lengthAdjust="spacingAndGlyphs" >8</text>
<line x1="23.3194" y1="650.43" x2="26.5" y2="650.43" stroke="#000" stroke-width="0.75"/>
<text x="19.93" y="654.03" font-size="9.234" text-anchor="end" textLength="5.29" lengthAdjust="spacingAndGlyphs" >6</text>
<line x1="23.3194" y1="694.26" x2="26.5" y2="694.26" stroke="#000" stroke-width="0.75"/>
<text x="19.93" y="697.86" font-size="9.234" text-anchor="end" textLength="5.29" lengthAdjust="spacingAndGlyphs" >4</text>
<line x1="23.3194" y1="738.09" x2="26.5" y2="738.09" stroke="#000" stroke-width="0.75"/>
<text x="19.93" y="741.69" font-size="9.234" text-anchor="end" textLength="5.29" lengthAdjust="spacingAndGlyphs" >2</text>
<text x="179.45" y="572.40" font-size="11.286" text-anchor="middle" textLength="102.64" lengthAdjust="spacingAndGlyphs" >Comparison for Rh</text>
<text x="179.45" y="806.70" font-size="9.234" text-anchor="middle" textLength="21.75" lengthAdjust="spacingAndGlyphs" >Time</text>
<text x="8.90" y="680.30" font-size="9.234" text-anchor="middle" textLength="11.67" lengthAdjust="spacingAndGlyphs" transform="rotate(-90 8.90 680.30)" >Rh</text>
<text x="160.70" y="836.70" font-size="16.5" text-anchor="middle" style="font-family:'Liberation Serif', serif;fill:#111;stroke:none">(</text>
<text x="167.50" y="836.20" font-size="15.5" text-anchor="middle" textLength="7.60" lengthAdjust="spacingAndGlyphs" style="font-family:'Liberation Serif', serif;fill:#111;stroke:none">e</text>
<text x="173.90" y="836.70" font-size="16.5" text-anchor="middle" style="font-family:'Liberation Serif', serif;fill:#111;stroke:none">)</text>
<clipPath id="clipf"><rect x="384.2" y="583.6" width="298.2" height="197.60000000000002"/></clipPath>
<g clip-path="url(#clipf)" fill="none" stroke-linejoin="round" stroke-linecap="butt">
<path transform="scale(0.1)" d="M3977 7720l0-5 1-5 0-5 1-5 0-5 0-5 1-5 0-5 0-5 1-5 0-5 0-5 1-5 0-5 0-5 1-5 0-5 0-5 0-5 1-5 0-5 0-5 1-5 0-5 0-5 1-5 0-5 0-5 1-5 0-5 0-5 0-5 1-5 0-5 0-5 1-5 0-5 0-5 0-5 1-5 0-5 0-5 1-5 0-5 0-5 0-5 1-5 0-5 0-5 1-5 0-5 0-5 0-5 1-5 0-5 0-5 0-5 1-5 0-5 0-5 1-5 0-5 0-5 0-5 1-5 0-5 0-5 0-5 1-5 0-5 0-5 1-5 0-5 0-5 0-4 1-5 0-5 0-5 0-5 1-5 0-5 0-5 0-5 1-5 0-5 0-5 1-5 0-5 0-5 0-5 1-5 0-5 0-5 1-5 0-5 0-5 0-5 1-5 0-5 0-5 1-5 0-5 0-5 0-5 1-5 0-5 0-5 1-5 0-5 0-5 1-5 0-5 0-5 0-5 1-5 0-5 0-5 1-5 0-5 0-5 1-5 0-5 0-5 1-4 0-5 0-5 1-5 0-5 0-5 1-5 0-5 0-5 1-5 0-5 0-5 1-5 0-5 1-5 0-5 0-5 1-5 0-5 0-5 1-5 0-5 1-5 0-5 0-5 1-5 0-5 1-5 0-5 0-5 1-5 0-5 1-5 0-5 0-4 1-5 0-5 1-5 0-5 1-5 0-5 1-5 0-5 0-5 1-5 0-5 1-5 0-5 1-5 0-5 1-5 0-5 1-5 0-5 1-5 0-5 1-5 0-5 1-5 0-5 1-5 0-5 1-5 0-5 1-4 1-5 0-5 1-5 0-5 1-5 0-5 1-5 1-5 0-5 1-5 0-5 1-5 1-5 0-5 1-5 0-5 1-5 1-5 0-5 1-5 1-5 0-5 1-5 1-5 0-5 1-5 1-4 0-5 1-5 1-5 0-5 1-5 1-5 1-5 0-5 1-5 1-5 1-5 0-5 1-5 1-5 1-5 0-5 1-5 1-5 1-5 1-5 0-5 1-5 1-5 1-5 1-5 1-4 0-5 1-5 1-5 1-5 1-5 1-5 1-5 1-5 0-5 1-5 1-5 1-5 1-5 1-5 1-5 1-5 1-5 1-5 1-5 1-5 1-5 1-5 1-5 1-5 1-5 1-4 1-5 1-5 1-5 1-5 2-5 1-5 1-5 2-5 1-5 2-4 1-5 2-5 1-5 2-5 2-4 2-5 2-5 2-4 2-5 3-5 2-4 3-5 3-4 2-5 3-4 3-4 3-3 4-4 3-3 3-3 4-3 3-2 4-2 4-1 4-1 4 0 4-1 4 1 4 0 4 1 4 1 4 2 4 2 3 2 4 2 4 3 3 2 3 3 4 4 3 3 3 4 3 3 3 4 3 4 3 4 3 5 3 4 3 4 2 5 3 4 3 5 2 5 3 5 3 4 2 5 3 5 2 5 3 4 2 5 3 5 2 4 2 5 3 5 2 5 3 4 2 5 2 5 2 4 3 5 2 5 2 4 2 5 3 5 2 4 2 5 2 5 2 4 2 5 3 5 2 4 2 5 2 5 2 4 2 5 2 4 2 5 2 5 2 4 2 5 2 4 2 5 2 4 2 5 2 5 2 4 2 5 2 4 2 5 2 4 2 5 2 4 2 5 2 4 2 5 2 4 2 5 2 4 2 5 2 4 2 5 2 4 2 5 2 4 2 5 2 4 2 5 2 4 2 5 2 4 2 5 2 4 2 5 2 4 2 4 2 5 2 4 2 5 2 4 2 5 3 4 2 4 2 5 2 4 2 5 2 4 2 5 3 4 2 4 2 5 2 4 3 4 2 5 2 4 3 5 2 4 2 4 3 5 2 4 2 4 3 5 2 4 3 4 2 5 3 4 2 4 3 5 2 4 3 4 3 5 2 4 3 4 3 5 2 4 3 4 3 4 2 5 3 4 3 4 3 4 3 4 2 5 3 4 3 4 3 4 3 4 3 4 3 5 3 4 3 4 3 4 3 4 3 4 3 4 3 4 3 4 3 4 4 4 3 4 3 4 3 4 3 3 4 4 3 4 3 4 3 4 4 3 3 4 3 4 4 4 3 3 4 4 3 4 4 3 3 4 4 4 3 3 4 4 3 3 4 4 4 3 3 3 4 4 3 3 4 4 4 3 4 3 3 3 4 4 4 3 4 3 4 3 3 3 4 3 4 4 4 3 4 3 4 3 4 2 4 3 4 3 4 3 4 3 4 3 4 3 4 2 4 3 4 3 5 3 4 2 4 3 4 2 4 3 5 3 4 2 4 3 4 2 5 3 4 2 4 2 5 3 4 2 4 2 5 3 4 2 4 2 5 3 4 2 5 2 4 2 5 2 4 2 5 2 4 3 5 2 4 2 5 2 4 2 5 2 5 2 4 1 5 2 4 2 5 2 5 2 4 2 5 2 5 1 4 2 5 2 5 2 4 1 5 2 5 2 5 1 4 2 5 1 5 2 5 2 4 1 5 2 5 1 5 2 5 1 4 2 5 1 5 1 5 2 5 1 5 1 4 2 5 1 5 1 5 2 5 1 5 1 5 1 5 2 4 1 5 1 5 1 5 1 5 2 5 1 5 1 5 1 5 1 5 1 5 1 5 1 5 1 5 1 4 1 5 1 5 1 5 1 5 1 5 1 5 1 5 1 5 1 5 0 5 1 5 1 5 1 5 1 5 1 5 0 5 1 5 1 5 1 5 1 5 0 5 1 5 1 5 0 4 1 5 1 5 0 5 1 5 1 5 0 5 1 5 1 5 0 5 1 5 0 5 1 5 1 5 0 5 1 5 0 5 1 5 0 5 1 5 0 5 1 5 0 5 1 5 0 4 1 5 0 5 1 5 0 5 0 5 1 5 0 5 1 5 0 5 1 5 0 5 0 5 1 5 0 5 0 5 1 5 0 5 0 5 1 5 0 5 0 5 1 5 0 5 0 4 1 5 0 5 0 5 1 5 0 5 0 5 0 5 1 5 0 5 0 5 0 5 1 5 0 5 0 5 0 5 1 5 0 5 0 5 0 5 1 5 0 5 0 5 0 5 0 5 1 5 0 5 0 5 0 5 0 5 1 5 0 4 0 5 0 5 0 5 1 5 0 5 0 5 0 5 0 5 1 5 0 5 0 5 0 5 0 5 1 5 0 5 0 5 0 5 0 5 0 5 1 5 0 5 0 5 0 5 0 5 0 5 1 5 0 5 0 5 0 5 0 5 0 5 1 5 0 5 0 5 0 5 0 5 0 5 1 5 0 5 0 5 0 5 0 5 0 5 1 5 0 5 0 5 0 5 0 5 0 5 1 5 0 5 0 5 0 5 0 5 0 5 0 5 1 5 0 5 0 5 0 5 0 5 0 5 0 5 1 5 0 5 0 5 0 5 0 5 0 5 0 5 0 5 1 5 0 5 0 5 0 5 0 5 0 5 0 5 1 5 0 5 0 5 0 5 0 5 0 5 0 5 0 5 0 5 1 5 0 5 0 5 0 5 0 5 0 5 0 5 0 5 0 5 1 5 0 5 0 5 0 5 0 5 0 5 0 5 0 5 0 5 1 6 0 5 0 5 0 5 0 5 0 5 0 5 0 5 0 5 0 5 0 5 1 5 0 5 0 5 0 5 0 5 0 5 0 5 0 5 0 5 0 5 0 5 0 5 0 5 1 5 0 5 0 5 0 5 0 5 0 5 0 5 0 5 0 5 0 5 0 5 0 5 0 5 0 5 0 5 0 5 1 5 0 5 0 5 0 5 0 5 0 5 0 5 0 5 0 5 0 5 0 5 0 5 0 5 0 5 0 5 0 5 0 5 0 5 0 5 0 5 0 5 0 5 0 5 1 5 0 5 0 5 0 5 0 5 0 5 0 4 0 5 0 5 0 5 0 5 0 5 0 5 0 5 0 5 0 5 0 5 0 5 0 5 0 5 0 5 0 5 0 5 0 5 0 5 0 5 0 5 0 5 0 5 0 5 0 5 0 5 0 5 0 5 0" stroke="#0000ff" stroke-width="14.0"/>
<path transform="scale(0.1)" d="M3975 7720l3-28 1-10 3-44 0-2 3-54 1-17 3-59 0-1 3-44 1 3 2-51 2-8 2-50 0-17 3-18 1-11 2-71 2 42 1-50 1-14 3-100 1 15 3-63 0 16 3-75 1-46 3 40 0-34 2-51 1-30 3-69 1-22 3-73 1-42 2 30 1-25 2-36 2 12 2-26 0 35 3-96 1 15 3-74 1 15 2-73 1 24 2-52 2 34 1-94 1 24 3-86 2 15 2-40 1-1 2-64 1 4 2-41 1 28 2 34 2-7 2-51 2-31 1 29 1-28 3 39 1 38 3-103 1-12 2 23 2-16 1 59 2-48 1 39 2-8 2-39 2 36 2-51 2 25 1-33 2 36 0-52 2 22 3 58 0 18 2-82 2 60 2-70 2 15 1-26 2-5 1-35 2 3 2 33 1-78 3 36 1-5 3-74 0-10 2 66 1-34 3 49 1-21 3-95 1 28 2-44 1 7 0 46 4-55 2 24 2 32 1-35 1 8 2 36 1-16 2 57 2 23 2-76 1-9 3-53 0 12 3 51 1-46 3 49 0 14 3-49 1-16 2 120 1-35 2 40 1-18 3-52 1 17 2-59 2 29 1 52 2-25 1 29 3 22 2-49 0 19 2 16 2-11 3 55 3-29 0 38 2 47 1-30 1 11 1 47 2-55 3 65 1 3 3 38 1 9 2-22 1 16 2 42 2-24 1 33 2-23 2 43 1-20 2 30 1-1 3 70 1-14 2 58 2-47 1-30 1 2 2 50 2-44 3-58 1 24 2-59 1-18 3 55 1 7 2-36 1-32 1 51 3-51 2-32 1 4 1 36 4-13 1 37 1 30 1-37 1 0 2 55 3-21 1 58 1-26 2 63 2-53 3 60 1-12 2 51 1-15 1 44 2-12 3-51 0-2 1 42 3-44 2 69 2 3 1-34 1 21 3-27 1-23 3 48 2-28 1 38 1-12 1 27 4 18 1-52 2 55 1-38 2 0 1 52 1-40 2 55 3-9 1-23 1-12 1 44 4 10 1 41 1-10 3-29 1-28 1 59 2-17 3-36 1 6 0-67 2-3 2-43 3 37 2-40 1-47 1 112 2-64 1-60 2 61 3 30 2-29 2 50 3-59 2 22 1-30 3 87 1-33 0-11 2-31 3 24 1-59 1-1 3 80 2-5 1 34 1-6 2 19 2-37 2 46 2-60 2 47 2 42 1-9 1-44 4-10 2 20 1 12 2-43 0 13 2-86 3 91 2-58 1 25 2-38 1 21 3-32 1-34 2 41 0-12 3-40 1 3 1 47 3-90 1 62 2-55 3 35 2-12 1 26 0 13 1-49 3 13 1 49 3-51 2 58 1 45 1-38 2 39 2 52 2-19 1 51 3-48 1 43 1-7 1 44 3-44 2 42 1-34 3 45 1 32 2-115 1 17 2 62 2-58 2 85 1-55 1 88 2-85 2 28 1-7 3 27 2 25 2-67 0-59 3 86 1 1 1 38 3-27 1 39 3 8 1-40 2-17 2 90 0 18 2-67 2 58 2 25 3 38 1-38 2-32 1 50 1 9 2 47 2 6 2-41 2-17 1 35 2-6 1-27 3 30 1-39 2 10 2 35 0 4 3 74 1 38 1-30 3 16 2 25 0-2 3-31 1 32 3 54 2-44 1 58 1 31 2-51 1-4 3 49 1 44 1 23 2-12 1 57 4-49 1 19 1-29 3 118 0-20 3-35 1 13 2 83 3-18 0 19 1-6 2 65 2-28 3 49 0-30 3 29 2 1 1-22 2-3 2 58 0-7 3 32 2 11 1 49 1 2 3-28 1 14 2 56 3 20 1-41 0 3 3-113 3-3 0 31 1 5 2-36 1-4 3 37 1 25 2-59 3-10 1 53 1-24 2-41 3 26 0-22 2-21 2 70 1 17 0-46 4 45 1-41 2 11 2 84 1-10 2-37 3 49 1-20 1 31 1 23 2-33 3 40 1-8 1-57 3-15 2-31 0-10 3 54 1-7 2-36 2-2 1 32 4-15 0 17 3 2 1 42 2-6 1 20 1 13 2 103 1-49 3-33 2 14 1-66 2-20 2 35 2-40 1 16 1-7 1-30 2 15 2-43 4 35 1-42 2 0 0-33 1-2 1-27 4 49 1-47 2 20 1-36 3 28 1-56 3 33 1-59 1-52 2 94 1-31 1-56 2 42 3-32 3 48 1-50 2-35 0 41 1-5 3-65 1-7 2 63 2-29 1 22 2-7 1-42 3 43 2-88 1-25 1 57 4-19 1-17 0-23 3-69 1 22 2-60 1 14 1-21 2-28 1-47 4-12 2 65 0-35 2-35 2-3 1-30 4 19 1 38 0-20 2 60 3-5 1-47 2 54 2 33 1-5 1 30 2 8 1 36 2-17 3-17 1-27 2 32 2-17 2 44 1 32 2 68 1 1 1 48 2-19 3-46 1 17 3 68 1 0 1 29 2-33 2 73 3-11 1 17 1 59 2-36 1 8 3 82 1-49 2 113 3-8 0 30 1-26 2-25 1 39 3-20 2 25 2-33 0 21 3 59 1-7 2-46 3 13 1 34 1-15 2 44 1 16 2-13 2-7 2 27 2 12 2-45 2 1 1 32 0 21 3 30 2-28 2 30 0-6 2-23 2-2 2 54 1-11 2-49 2 6 2 57 1-32 2 33 1-29 3-24 2 25 2-35 1-6 0-45 4 25 1-46 1-7 1 72 3-71 2 39 1-18 2 64 3-50 1-32 0-4 3 13 2-7 1 33 1-7 1-26 4 51 2-40 1 5 2 64 0 3 2-71 2 5 2 31 1-14 3 71 2 32 2-35 1 19 1 52 1-16 2-61 2 14 2 69 1-41 2 88 2-53 1 61 2-36 2 17 2 57 1-34 2-4 3 78 1-36 2 27 1-15 2-103 1 11 2-80 2 78 1-29 3 23 2-56 3-44 0 33 2-1 1-23 1 11 3 53 1-5 1-41 2 17 3 23 0-1 3 50 1-29 2-44 2 38 2-51 3-2 0-26 2 18 1-29 2-15 2 73 2 4 2-40 0-22 2-76 1 20 1 50 3-24 2-40 2 33 2 39 1-30 1-67 2 14 3 24 0 4 3-105 1 40 2-62 2 101 2-104 1 22 3-66 0 3 1 23 2 15 3-86 1 41 3 39 1 11 1-33 3 43 1-36 1 20 2-48 2 20 1 34 2-47 1 30 3-25 2 26 1-27 1-12 3 35 2-41 1-19 2 34 1 3 3-64 2 2 1 35 2-2 1-42 2 9 1 44 2-19 2-37 2 48 2-37 0-1 3 42 1-3 2 35 1-24 3 60 0 6 3-49 1 18 3 91 1-2 1-35 2-19 2 60 2 23 1-31 1 2 3 55 1-72 0 22 3-26 2 70 3-5 2-48 1-2 2 30 0 4 2-44 2 19 2-40 3 8 1-19 2-11 2 77 1-9 2-31 2-50 1 59 1 6 3 93 2-26 1-23 3 31 1-48 1-16 0 43 4-65 1 39 2-15 1 28 3 9 0-55 2 5 3 68 1-37 2 49 0 18 3 28 1 2 1 47 2-12 3 87 2 33 1-34 2-22 2 56 0-23 2 38 2-32 2-69 2-27 2 53 2-14 2 32 0-5 2-29 1 9 3-30 2-30 2 38 1-18 2-42 1-6 1-39 3-11 1 22 3 30 0-34 3-14 1-19 2 25 1-56 3 80 2-73 0-23 2 58 2-6 1-24 2 32 2-46 3 7 0-49 4 49 1-57 0 20 3 42 0-10 3-60 3 36 1-37 0-9 2 62 3-40 1 49 1-7 1-42 3 10 2 74 1-35 1 74 3-20 2-50 1-24 3 57 1 21 1-45 1 45 2-41 4 68 1-49 0 25 3-57 1-20 3 51 0 5 3-81 0 36 3-21 1-14 2-50 3 5 1 44 1-36 1-30 2 0 2 67 1-5 3-74 2-20 1 54 2-52 2 79 1-11 2 20 1-19 2 18 2-27 1-31 2-5 2-77 1 56 3-80 3-20 1 30 0 7 3-43 1 21 1-36 3 20 1-32 2 13 2 19 1 7 3-66 0 18 2 86 1-37 2 77 2-31 3 76 1 32 1-41 2 15 2 82 1 4 3 59 2 46 1-44 1 5 3 58 0 14 3 27 1-6 2 49 2-51 2 65 0 6 3-60 1 31 3-90 1-7 1 23 3-44 1 19 2 1 1-30 1-2 3-97 1 33 2-104 3 50 1-64 1 1 1-35 3 65 1-76 2-9 1 23 3-12 2 36 0-15 3-52 2 16 2-56 1-30 1 31 3 15 1-24 2-11 1-32 1 13 3-63 1 49 2-70 1-26 3 26 3-18 3-62 1 50 0-6 3-42 2 16 1-39 1-1 3 32 1-6 0-27 4-12 2 56 0 6 3-74 1 18 1 12 2 31 3-52 0 5 3 59 2 12 2-27 2 75 3-11 1 17 2-44 2 26 0-40 3-32 1 27 2 52 2-23 1 34 2-38 0-25 3 17 1-20 3 12 2-36 2-6 2 64 0 7 2 98 2-38 1 21 2-3 3 30 1 29 1-51 3 9 1 37 2-6 2-27 2 1 2 41 1-3 2-59 2-3 1 33 1 3 2-105 2-24 2 96 2-25 2-80 1 42 2-68 1 28 2-47 3 14 1 19 2-28 1 31 1 2 3-68 1-29 2 17 1-1 1 89 2-48 2 60 1 13 3-33 1-24 3 56 0 13 2-35 2 63 1-49 2-35 1 35 3-19 1 28 2-2 3 76 1-19 1 47 2-18 2 58 2 45 2-66 0-13 2 58 2-26 2 43 2-62 2 69 0 13 2-25 2 17 3 65 0-27 1-28 5 38 0-31 3 41 1-17 1-11 1 31 3 50 1-47 2-33 2 56 3 5 1-66 1 21 1-48 1 25 1 28 3-32 1-40 2 4 3-50 2-24 1 37 1 20 2 66 1-1 3-65 3-16 0 19 2 4 2-36 1 19 2 23 1 2 1-41 4 28 1-23 2 73 1-48 3 13 1 22 2-9 1 38 1 7 1-41 2-5 3 115 1-16 3-35 1 34 2-44 1-28 2-27 2 35 1-38 2-1 2 31 1-28 1-86 3 30 2 25 1-18 2-76 2 29 2-45 2-1 1 49 1-14 2-45 2 66 2-90 1 27 2-66 1 11 2-35 2 12 1 24 2-24 3 58 0-6 3-63 1-20 3 84 2 5 1 31 1-3 2-36 1-4 3 78 0-38 3-35 1 28 3-47 2-4 1-45 1-29 1 41 3-6 2-27 2 70 1-30 1 13 3-40 0 28 3-91 1-12 1 63 2-52 3-50 1-28 2 38 1-12 3 60 0-7 2-34 2 55 2-73 1-7 2-60 1 29 3 77 1 14 2-35 2 26 1 15 3 3 1 45 2-8 2 26 3-13 0-46 1-9 3 152 0-8 3-46 1-1 2 34 1 9 1-37 3 26 2 19 1 1 2-83 1 7 2-81 1 9 3 43 1-14 3-137 1 31 2-31 1 15 1-38 2 23 2-33 2 27 1-21 3 47 1 42 1-3 3-27 1-12 3 37 0 31 3-35 0 13 3 58 2 37 1-32 1-3 2 83 2-9 1-40 4 39 1-38 0 12 2-30 2-27 2 54 3 10 1 44 1 5 1 41 4 12 1-42 3 67 1 9 1-42 3 3 2 53 2-8 2-25 2 4 1 29 2 26 1-78 2-39 1 49 2-32 1 30 3-42 1 24 2-37 2 68 1-14 1 65 2-56 3 28 1 26 2-27 1-6 1 55 2-30 2 12 1 25 2 58 4-41 1 58 0-12 2-30 3 2 1 46 2-12 1-25 1-4 3-26 3-6 1-25 1-9 1 24 3 28 2-19 0 21 1 40 3-51 2 34 1 27 2-37 2 63 2-77 3-3 1-41 1 1 1 47 1-16 3-66 1-4 1 30 3-25 1 30 3-58 1 57 1-6 2-35 1 32 3-29 2-39 2 53 3 27 0-30 1-14 3-64 1 26 2-41 2-6 0 43 3 22 2-35 1 33 1-37 3 59 2-31 1 38 2-29 2 6 1 23 1-18 2 44 2-37 2 60 1 14 3-58 0 7 3-35 2-38 1 54 1-15 1-25 3-21 2 76 3 47 1-37 1 7 2-36 1 0 1-57 2-12 1 54 2-2 2 52 2-61 1 35 3-40 2 37 1 48 2-32 1 15 3 29 0-5 2 54 2-19 2 53 1-15 2-52 2 30 2-37 2 34 2-40 1-12 2-58 1 22 3 26 1 26 0-12 3 48 2-71 1 21 2 31 3 9 1 71 2-40 2 23 0 1 1 47 2-45 3 70 1-52 2 36 2-6 1-18 3 23 2 39 0 6 2-67 2 56 0 31 4-34 2 35 1 23 2-32 1-18 1 65 3-25 1 28 2 17 1-54 2-8 1-21 2 26 2 61 3-52 2 48 0 16 1-32 4 10 1 38 1-3 1 40 2 18 2-60 2 10 3 34 2-18 0 46 1 7 3-40 1 6 2-49 1 26 3-42 2 10 2-82 1-12 1 34 1-24 2-45 2 26 3-69 1-28 1 35 2-45 2-67 3 34 1-60 0-12 3 57 1 29 1-28 4 33 1-41 2-12 2 63 0-16 2-49 2-31 1 54 2-3 2 62 3-7 1-68 2 38 2 86 1 18 2-20 0 7 2-33 2 22 1 36 4-72 1 42 1 0 3 46 1-78 1 55 1-31 2 38 2-55 2-34 2-27 2 35 1-26 1 36 3-81 2 49 2-10 1-54 2 6 2-60 2 39 1-50 1 19 2-56 1 13 3-53 0 26 3 45 2 18 1-64 3 34 1-22 1 25 3 53 0-30 3 17 0-7 3-78 1-21 3 56 1-10 1 40 2-19 2 62 1 4 2 26 1-29 2 31 2-38 2-59 1 2 2-42 2-6 1 72 3-13 2-55 0 37 1 15 4 9 1-32 2 29 0 27 3 32 2-54 2 15 2 51 1-14 2-29 2-10 2 60 0-25 3 66 1-29 2 34 1-18 3-43 1 19 1 18 2-41 3 35 0-26" stroke="#ff0000" stroke-width="15.0"/>
<path transform="scale(0.1)" d="M3975 7720l3-24 1-10 3-44 0-7 3-33 1-3 3-51 0-3 3-47 1-6 2-30 1-9 3-68 0-7 3-59 2 22 2-39 0-38 2-36 1 16 3-54 1-20 3-31 0-3 1-24 3 8 3-53 0-6 3-33 0-14 3-35 1-7 3-35 0-1 3-61 1-13 0-12 3 11 2-51 2-8 2 32 1-2 2-54 1-12 3-72 1-7 2-35 3-5 1 39 0-17 1-17 3-19 3-28 1-21 2 60 1 1 3-86 0 4 3-20 1 22 2-38 1 6 2-25 1-15 1-23 3-17 2 33 1-33 3-21 1 34 2-35 1-4 2-58 2-5 2 26 1-2 3-38 0-16 2 50 1-25 1-31 3 5 2-27 3 1 1-21 1-5 1-41 2 33 2-42 3 35 1-34 1 12 1 16 2-33 1 39 3-11 2-19 2-8 1 19 2 2 2-27 1 26 3-40 3 11 0-16 1 6 0 10 4-5 2 30 1-3 2-34 1-6 3 24 2-12 1-27 1 11 3 62 1 3 2-12 2-34 2-2 2 52 1-37 3 28 1 12 3 50 0-11 3-53 1 5 2-23 2 21 1-34 2 39 2-35 1-9 3-31 0 12 2-54 2 11 2 41 1-27 3 36 0-11 3-36 1 6 3 67 0 4 3 14 0-18 1 34 3-26 2 47 1-22 3 41 2-21 2 41 1 3 1 19 2 19 1-18 4 19 0-21 2 32 2 19 1-19 3 51 2-23 1 37 0-30 2-32 2 19 2 27 1-29 2 55 3-24 1 31 1-25 2 10 2 0 2 35 2-49 2 35 1 15 1-32 3 6 1 36 2 17 2-37 1 18 2 24 3 2 1-32 0 11 2 24 2-18 3 34 0 12 2 22 2-17 2 13 1-15 3 39 1-27 1 19 2 14 2 18 1-17 3 37 2-3 1 19 2 8 1-25 2 25 1-31 3-4 2 27 1-3 1-31 3 17 1-19 1 20 3 19 1 12 2-31 1 1 2-32 2 54 1-43 2-19 2 31 2 14 2-22 0 16 3 15 2-6 1-20 1-1 2 30 1-13 2 32 4 2 1-56 1-7 2 61 1 0 2-40 1-6 2 17 2-25 2 59 1-16 1-31 4 57 1-29 1-7 2 52 3-43 1 27 1-8 2-22 3 31 1-35 1 16 2-11 1-8 2 28 1-9 3-33 0-2 2 29 3-29 1 20 1-12 2-25 2-10 3 51 0 2 2 25 2-34 2 41 1 11 3-35 0-3 2-34 2-1 3 69 1-5 2 31 0 17 2 48 2-2 1-17 4 41 1-18 1 22 2 35 1 16 2-34 1 13 3 27 1 16 2-22 1 2 3 38 3-1 1-15 0-16 3 47 2-11 1 25 1 3 2-38 2-11 2 25 1-8 3 29 2-33 1 24 0-3 3 31 1-49 3 23 0-5 3 32 3-31 1 20 0-14 1 23 2-12 3 15 2-8 2 24 0-2 3-27 2 19 2 35 0-1 3-34 0-6 3 23 1-9 3 41 1-36 1 31 3-24 1 18 2-13 2 55 1 7 2-21 2 11 1-34 2 11 2-31 3-2 1 35 2-7 1 23 2 18 1-14 2 9 1-25 1 8 3 60 1-29 1-32 2 37 1-17 3-14 2 31 1-8 3 40 1-16 1 35 2-35 3 36 1 17 2-20 0-6 3 33 1 13 2-29 1 32 2 40 4-61 1 40 1 6 2 18 0-8 1 23 4 35 2-49 2-12 1 44 1 9 3-50 0 8 2-40 2-6 2 60 1-23 3-65 1-8 1 39 2-28 3-50 1-17 1 16 3-14 1 42 1 2 2-65 2 28 2-26 1-4 2 14 2-10 2 51 2-29 1 30 2 17 2-33 1 43 1-57 2 44 0-32 4 23 2-48 0-18 1 45 3-26 2 23 2-31 2 28 2-32 1 44 3-23 1 30 2-34 3 36 1-21 2 24 2 29 2-60 1 30 2-17 2 43 0 12 1-31 3-5 1-38 3 4 1 34 2-1 3-57 1 19 1-24 3 34 1-31 1 6 2-23 1 8 3-50 1 13 1 22 4-6 1-12 1 16 2-57 1 21 2 45 2-5 2-49 3 7 1-17 3 43 1 18 1-36 3-7 1 25 1-14 3 73 1-11 3-36 1-26 2 47 2-11 1 58 1 12 2-27 2-5 2 54 2-22 2 37 0 3 1-44 4 62 1-44 2-13 1 31 1-19 2 58 2-27 2 46 2-17 1 22 1-10 1-27 3 4 3 28 1-33 4 14 1 16 1 10 1-43 3 28 1 27 2-9 2-21 2-12 2 35 1 3 2-34 2-12 2 39 1-21 2-41 3-15 1 47 0-7 3 22 1-8 0 21 4-37 2 32 1-21 2 43 1-3 1-24 3 22 2-23 1 16 2 17 1-7 2-14 3-4 1-28 2-8 2 41 1 5 2 44 2-2 2 18 1-18 1 22 2 1 2-44 1 0 1 34 4-21 1-21 1 2 2-48 1-12 1 36 4 28 1-19 1-30 2 36 1-2 2 23 3-64 2 36 0 1 3-40 0 15 3-48 3 14 0 22 4-37 0 14 2 19 1-29 2 45 2-48 1 3 0-21 3 30 3 43 1-18 2 50 1 7 1-57 2-6 1-19 2 11 3 54 1-18 1-49 2 9 3-40 2 28 2 26 2 18 1-30 2 26 1-35 1 3 2 29 1-4 2-61 2 16 2 53 2-45 1 28 2-23 1 35 2-11 3-23 0 13 2-39 3-5 1 17 1-32 2 40 1-10 3-72 3 3 1 15 0-7 1 39 3-41 2-31 2 46 2-30 0 26 2-52 2-6 3 23 2-18 1 20 1 2 2 22 2 6 1-42 1 11 3 52 2-19 2 28 2-9 0 24 2-4 1 59 4-80 1 32 0 14 3-44 2 24 0-24 3 58 2-18 1 16 2-47 2 29 2 30 2-29 1 36 2-42 2 40 1 48 2-36 1-1 3 43 1 15 2-48 1 2 2 25 2-35 1 26 1-12 3 38 2 12 1-42 2 2 1-23 1-5 3 43 1 6 2-34 1-7 1-21 3 22 2 58 2-14 2-20 1-8 1 20 3-16 2 34 1-25 0 25 3-14 1 47 3-24 2-19 0-25 2 51 3-12 1-15 1 22 3 40 1-25 2 20 2-9 2-31 0-12 3-26 1-12 2-25 1 39 2-26 2 24 3 31 1 18 0-14 2 23 2-41 2 11 1 28 3 8 2-29 1 12 3 28 1-24 0-30 2 27 3-35 1 6 1 24 4 14 1-39 1 6 3 16 0 17 2-41 3 15 1-23 1-11 2 25 4-36 0 15 1-3 3-22 1-11 1 34 2-7 2-16 2 49 2-33 1-16 2 33 1 1 1-16 2 2 2 26 1 32 2-67 2-3 2 48 2-36 1 20 2 8 2-45 2-2 2-26 2 25 2 0 3 26 1 33 1-39 2-7 1 21 3 28 1-39 2 22 2 26 2-26 2 30 3-27 1 15 2 33 1-34 3 31 1-10 2 36 2-42 1 30 2-5 2-39 1 31 2-25 2 47 2-39 0-8 2-42 3-3 1 47 1-19 3 52 1 9 2 17 1-4 3-31 1-23 1 34 2-37 2 44 1-5 3 20 1 0 2-37 1 13 3 49 1 15 1-19 3-8 2 26 1 22 1-21 2-13 1 43 2-35 1-14 2 4 3-31 1-9 1 47 3-3 2-21 1-3 1-33 3 25 1-31 2 19 1-25 3-17 1 43 2 2 2-23 2 5 2 22 0-32 2-27 2 13 1 42 2-17 1-30 4-5 0 34 2-32 2 44 2 7 0-20 2-4 3 34 3-3 0 39 1-14 3 35 2-38 2 29 1-14 2 21 2-15 1-13 1-9 2-22 2 3 1-33 2 17 1 31 2-21 1-44 4-4 1 30 1-1 3-47 0 15 2-18 2 10 2-14 3 27 1-16 1 12 2-27 1 8 3-28 2-37 1 40 1-21 2 25 1-29 3-16 2-15 1 29 1-44 2 20 2-18 1-16 2 15 2-48 1-1 1 22 2-9 2 54 2-22 1-45 4 10 1-24 2-14 1 9 1 8 2 45 2-1 2-30 1 32 2 24 1 6 3 48 2 12 2-35 1-3 1 15 1-16 2 36 3 30 1-28 2-22 2 59 2 6 2-32 1-9 1 44 2 12 2-23 2 25 2-41 1-2 2 71 1 8 2-38 2 32 1-34 3 29 1-35 1 8 3-20 0 21 3 76 2-27 1 22 2-9 1-22 2-28 2 43 1-27 2 32 1-3 3-19 3-2 1 30 0-4 1-24 3 3 2 27 2-6 2 26 1 53 2-47 1 10 2 40 2 36 1-35 1-13 2 46 2-19 2 30 1 4 3-52 1 34 3-54 0 3 2 24 1 1 2-64 2-7 1 30 2-19 3-71 1 37 2-34 2 31 1 7 2-3 2-27 1 21 2-26 1 12 2-21 2 31 3-60 1-17 0 22 3-13 2-26 1-1 0-16 5 30 1-16 1 18 3-28 2 6 1-25 0-1 1 32 3-23 3-47 1 22 2-28 2-3 2 30 2-21 1 21 1 5 1-54 3 27 2-19 0-13 3 56 1-20 3 46 0-7 3-27 2 2 1 41 2-21 2 9 1-7 1-23 2-2 2-33 2 18 2 18 0 8 2 38 3-29 2 15 0 14 2-44 2 36 2-26 1 10 1 21 4-54 1 25 1 17 3-65 0-3 3 38 2-28 2 25 0 12 1-35 4 10 1 29 1-25 2-51 2 38 2 26 1-9 3 27 0-4 2-38 2 7 2 17 1-18 3 56 1-7 1-30 3 7 2 30 2-28 1 23 1-24 1 22 2-21 2-42 2-10 1 32 2-2 2 17 1 10 1-34 2 24 3-35 2 12 2-20 1 7 1-51 2 62 1 24 3-55 1 30 1-19 2 29 3-26 2 55 0 30 3-67 2 14 2-23 1-17 2 37 3-19 0 19 1-8 2-13 3 9 1-30 1-5 3 40 1 4 1 21 3-19 1 27 1-16 2 38 3-21 1-19 1 8 1-47 2 16 2 38 1 0 3-36 2-4 1 31 2-11 2-17 2 5 1-40 2 14 2 21 1 5 2-38 2-18 2 35 0 27 3 22 3-15 1-10 1 7 1-14 2 21 2 37 1-16 2-52 1 17 3 31 2-2 2 34 0 6 2-21 2 15 2-23 1-7 2 45 2-1 2-37 1 2 1 30 2-31 3 44 1 30 1-35 3 53 2-54 0 8 3 49 1-9 3 47 0 10 2-50 1 9 2 27 4-21 1 50 2-7 1-35 1 0 2 33 3-14 1 12 0 21 3 41 1-20 1-29 3 1 2 43 1-2 2-21 2 36 2-14 1 25 1-25 2 11 1-31 2 40 3-29 1-6 1 43 3 15 1-26 1 2 3-45 2-20 2 22 1 6 1 37 2-26 1 39 2-57 2 42 1 4 2-24 2 10 3-17 1-14 1 33 3 4 1-32 2 3 1 18 2 6 2-17 1 18 2-61 3 36 1-41 1 27 3-47 0-2 1 15 4-22 1 9 2-12 1 43 2-46 1 26 4 19 1-31 0 2 2 21 1-33 3 58 3 14 1-26 1-1 2 31 2 24 0-22 3 3 1 24 2-32 2 39 1-16 3 28 1-13 2 40 1-9 2-23 1 13 2 21 1 5 3 21 1-26 2 22 3-19 1 18 1 17 3 49 0-6 2 43 1-16 3-44 1-11 1 41 4-13 1-30 2 30 2-36 1 3 1 36 1-8 2-37 2 27 2-22 1 23 2-30 2 33 3-36 0-31 2-29 2 14 2 16 1-12 2-44 3-17 1 25 2 27 2-31 1 9 1 25 1-3 3-48 1 1 1-20 4 25 1-33 1-5 2 21 2-3 1-17 2 5 2 24 1 6 1-29 3-1 1 10 3 1 2-29 2-14 1 15 0 2 1-15 3 1 2-23 1 2 3 39 1 10 3-42 0 21 2-46 2 13 1 22 2-4 2-33 2 10 1 36 3-52 2 31 1-47 1 22 1-9 3 59 1 8 1-24 2-2 3-58 2-5 1 29 2-23 1-25 1 31 3 14 1-2 3-37 0-1 3 51 1-9 2 23 1 8 3-31 0-21 2 43 2-20 2 59 2-12 2-39 1 30 3 37 2 29 1-43 1 14 0-13 3-3 2 52 2-24 1-28 2 26 1 28 3 8 1-25 1 6 3 43 1 14 3-18 0-18 2-33 2 33 2 62 2 7 1-31 2 3 1 21 3-2 1-36 1 9 2 31 2-13 2-64 2 12 2-61 1 30 2-38 1 21 2-51 1 15 2-45 2 29 3-24 1-25 1-33 1 22 3-40 1-10 3 34 1-13 2 22 1-17 3 41 2-47 1 21 0 2 1-28 4 62 2-59 2-32 0 25 2-20 3 17 1-10 1 21 1-7 2-61 2 26 1 18 3-32 2 27 1-11 3-38 0-9 2 52 3-27 1 32 2 8 2-35 2-14 1 22 2 26 2-43 0 15 3-36 1-1 2-39 2 4 2 29 1-14 1-25 4-9 1 18 1 12 1-25 3 35 1-26 1-6 2-26 1 10 1-16 3 23 2-32 1 20 3-16 1-14 2 59 1-8 3 48 2-25 1 54 1-4 3 23 2 2 1 7 1-8 2 30 1-23 3 29 2 20 3-10 2-16 1 2 0 36 2-31 3-66 1-4 3 30 1 3 2-34 1-24 1 41 2-46 1-27 3 0 2 15 2 13 2-19 0 14 2-42 2 4 1 16 3-16 1 21 1 11 3-55 1 24 1 15 2 0 3 26 1 8 1-41 4-3 1 22 0 7 3 32 1-17 3 26 1-10 2 22 1-5 1 46 3-30 2-23 0 9 2-34 3 15 2-41 1 22 2-18 3 2 1-37 0 15 1-19 3 20 2 32 1-7 2-30 2-7 2 41 1-1 3 21 0-2 3 30 1-18 1 42 2-27 1 39 3 5 2 61 1-10 3 23 0-10 2 34 2-21 2 47 1 13 3-43 0 8" stroke="#008000" stroke-width="14.5"/>
</g>
<rect x="586.6" y="588.2" width="91.60000000000002" height="41.59999999999991" rx="1.5" fill="#fff" fill-opacity="0.8" stroke="#d6d6d6" stroke-width="0.7"/>
<line x1="589.4" y1="595.4" x2="608.6" y2="595.4" stroke="#0000ff" stroke-width="1.3"/>
<text x="615.10" y="598.70" font-size="9.0" text-anchor="start" textLength="59.55" lengthAdjust="spacingAndGlyphs" >Deterministic</text>
<line x1="589.4" y1="608.6" x2="608.6" y2="608.6" stroke="#ff0000" stroke-width="1.3" stroke-dasharray="5.2 2.3"/>
<text x="615.10" y="611.90" font-size="9.0" text-anchor="start" textLength="53.27" lengthAdjust="spacingAndGlyphs" >White Noise</text>
<line x1="589.4" y1="621.8" x2="608.6" y2="621.8" stroke="#008000" stroke-width="1.3" stroke-dasharray="8.7 2.2 1.4 2.2"/>
<text x="615.10" y="625.10" font-size="9.0" text-anchor="start" textLength="48.37" lengthAdjust="spacingAndGlyphs" >Lévy Noise</text>
<rect x="384.2" y="583.6" width="298.2" height="197.60000000000002" fill="none" stroke="#000" stroke-width="0.75"/>
<line x1="397.8" y1="781.2" x2="397.8" y2="784.3000000000001" stroke="#000" stroke-width="0.75"/>
<text x="397.80" y="794.40" font-size="9.0" text-anchor="middle" textLength="5.16" lengthAdjust="spacingAndGlyphs" >0</text>
<line x1="451.96" y1="781.2" x2="451.96" y2="784.3000000000001" stroke="#000" stroke-width="0.75"/>
<text x="451.96" y="794.40" font-size="9.0" text-anchor="middle" textLength="10.32" lengthAdjust="spacingAndGlyphs" >20</text>
<line x1="506.12" y1="781.2" x2="506.12" y2="784.3000000000001" stroke="#000" stroke-width="0.75"/>
<text x="506.12" y="794.40" font-size="9.0" text-anchor="middle" textLength="10.32" lengthAdjust="spacingAndGlyphs" >40</text>
<line x1="560.28" y1="781.2" x2="560.28" y2="784.3000000000001" stroke="#000" stroke-width="0.75"/>
<text x="560.28" y="794.40" font-size="9.0" text-anchor="middle" textLength="10.32" lengthAdjust="spacingAndGlyphs" >60</text>
<line x1="614.44" y1="781.2" x2="614.44" y2="784.3000000000001" stroke="#000" stroke-width="0.75"/>
<text x="614.44" y="794.40" font-size="9.0" text-anchor="middle" textLength="10.32" lengthAdjust="spacingAndGlyphs" >80</text>
<line x1="668.6" y1="781.2" x2="668.6" y2="784.3000000000001" stroke="#000" stroke-width="0.75"/>
<text x="668.60" y="794.40" font-size="9.0" text-anchor="middle" textLength="15.48" lengthAdjust="spacingAndGlyphs" >100</text>
<line x1="381.09999999999997" y1="592.0" x2="384.2" y2="592.0" stroke="#000" stroke-width="0.75"/>
<text x="377.80" y="595.60" font-size="9.0" text-anchor="end" textLength="12.90" lengthAdjust="spacingAndGlyphs" >1.0</text>
<line x1="381.09999999999997" y1="622.0" x2="384.2" y2="622.0" stroke="#000" stroke-width="0.75"/>
<text x="377.80" y="625.60" font-size="9.0" text-anchor="end" textLength="12.90" lengthAdjust="spacingAndGlyphs" >0.9</text>
<line x1="381.09999999999997" y1="652.0" x2="384.2" y2="652.0" stroke="#000" stroke-width="0.75"/>
<text x="377.80" y="655.60" font-size="9.0" text-anchor="end" textLength="12.90" lengthAdjust="spacingAndGlyphs" >0.8</text>
<line x1="381.09999999999997" y1="682.0" x2="384.2" y2="682.0" stroke="#000" stroke-width="0.75"/>
<text x="377.80" y="685.60" font-size="9.0" text-anchor="end" textLength="12.90" lengthAdjust="spacingAndGlyphs" >0.7</text>
<line x1="381.09999999999997" y1="712.0" x2="384.2" y2="712.0" stroke="#000" stroke-width="0.75"/>
<text x="377.80" y="715.60" font-size="9.0" text-anchor="end" textLength="12.90" lengthAdjust="spacingAndGlyphs" >0.6</text>
<line x1="381.09999999999997" y1="742.0" x2="384.2" y2="742.0" stroke="#000" stroke-width="0.75"/>
<text x="377.80" y="745.60" font-size="9.0" text-anchor="end" textLength="12.90" lengthAdjust="spacingAndGlyphs" >0.5</text>
<line x1="381.09999999999997" y1="772.0" x2="384.2" y2="772.0" stroke="#000" stroke-width="0.75"/>
<text x="377.80" y="775.60" font-size="9.0" text-anchor="end" textLength="12.90" lengthAdjust="spacingAndGlyphs" >0.4</text>
<text x="533.30" y="578.40" font-size="11.0" text-anchor="middle" textLength="97.01" lengthAdjust="spacingAndGlyphs" >Comparison for Sr</text>
<text x="533.30" y="807.50" font-size="9.0" text-anchor="middle" textLength="21.20" lengthAdjust="spacingAndGlyphs" >Time</text>
<text x="358.90" y="683.90" font-size="9.0" text-anchor="middle" textLength="8.95" lengthAdjust="spacingAndGlyphs" transform="rotate(-90 358.90 683.90)" >Sr</text>
<text x="509.90" y="836.70" font-size="16.5" text-anchor="middle" style="font-family:'Liberation Serif', serif;fill:#111;stroke:none">(</text>
<text x="516.70" y="836.20" font-size="15.5" text-anchor="middle" style="font-family:'Liberation Serif', serif;fill:#111;stroke:none">f</text>
<text x="523.10" y="836.70" font-size="16.5" text-anchor="middle" style="font-family:'Liberation Serif', serif;fill:#111;stroke:none">)</text>
<clipPath id="clipg"><rect x="34.1" y="871.0" width="298.2" height="197.5"/></clipPath>
<g clip-path="url(#clipg)" fill="none" stroke-linejoin="round" stroke-linecap="butt">
<path transform="scale(0.1)" d="M480 10512l3-4 3-4 2-5 3-4 3-4 2-5 3-4 2-5 3-4 2-5 3-4 2-4 3-5 2-4 3-5 2-4 2-5 3-4 2-5 2-4 2-5 3-4 2-5 2-4 2-5 2-4 2-5 3-4 2-5 2-5 2-4 2-5 2-4 2-5 2-4 2-5 2-5 1-4 2-5 2-4 2-5 2-5 2-4 2-5 1-5 2-4 2-5 2-4 1-5 2-5 2-4 1-5 2-5 2-4 1-5 2-5 2-4 1-5 2-5 1-4 2-5 1-5 2-5 1-4 2-5 1-5 2-4 1-5 2-5 1-5 2-4 1-5 1-5 2-5 1-4 2-5 1-5 1-5 2-4 1-5 1-5 2-5 1-4 1-5 2-5 1-5 1-4 2-5 1-5 1-5 1-5 2-4 1-5 1-5 1-5 2-4 1-5 1-5 1-5 2-5 1-4 1-5 1-5 2-5 1-5 1-5 1-4 1-5 2-5 1-5 1-5 1-4 1-5 2-5 1-5 1-5 1-4 1-5 2-5 1-5 1-5 1-5 1-4 2-5 1-5 1-5 1-5 2-5 1-4 1-5 1-5 1-5 2-5 1-5 1-4 1-5 2-5 1-5 1-5 1-4 2-5 1-5 1-5 2-5 1-5 1-4 2-5 1-5 1-5 2-5 1-4 1-5 2-5 1-5 1-5 2-5 1-4 2-5 1-5 2-5 1-5 1-4 2-5 1-5 2-5 1-5 2-4 1-5 2-5 2-5 1-4 2-5 1-5 2-5 2-5 1-4 2-5 2-5 1-5 2-4 2-5 1-5 2-5 2-4 2-5 1-5 2-5 2-4 2-5 2-5 2-5 2-4 1-5 2-5 2-4 2-5 2-5 2-5 2-4 2-5 3-5 2-4 2-5 2-5 2-4 2-5 2-5 3-4 2-5 2-5 2-4 3-5 2-5 2-4 3-5 2-4 3-5 2-5 3-4 2-5 3-4 2-4 3-5 3-4 2-5 3-4 3-4 3-5 2-4 3-4 3-4 3-4 3-4 3-4 3-4 3-4 3-4 4-4 3-4 3-4 3-4 4-3 3-4 3-4 4-3 3-4 4-3 3-3 4-4 4-3 3-3 4-3 4-3 4-3 4-3 4-3 4-3 4-3 4-2 4-3 4-2 4-3 5-2 4-2 4-2 4-2 5-2 4-2 5-2 4-1 5-2 4-1 5-1 4-2 5-1 4-1 5-1 5 0 4-1 5-1 5 0 5 0 4-1 5 0 5 0 5 0 5 0 4 0 5 0 5 0 5 0 5 1 5 0 5 0 5 1 5 0 5 1 5 0 5 1 5 1 5 0 5 1 5 1 5 1 5 1 5 0 5 1 5 1 5 1 5 1 5 1 5 1 5 0 5 1 5 1 5 1 5 1 5 1 5 1 5 0 5 1 5 1 5 1 5 1 5 0 5 1 5 1 5 1 5 0 5 1 5 1 5 1 5 0 5 1 5 1 5 0 5 1 5 1 5 0 5 1 5 1 5 0 5 1 5 1 5 0 5 1 5 0 5 1 5 0 5 1 5 1 5 0 5 1 5 0 5 1 5 0 5 1 5 0 5 1 5 0 4 1 5 0 5 1 5 0 5 1 5 0 5 1 5 0 5 0 5 1 5 0 5 1 5 0 5 1 5 0 5 0 5 1 5 0 5 0 5 1 5 0 4 1 5 0 5 0 5 1 5 0 5 0 5 1 5 0 5 0 5 1 5 0 5 0 5 1 5 0 5 0 5 0 5 1 5 0 5 0 5 1 5 0 4 0 5 0 5 1 5 0 5 0 5 1 5 0 5 0 5 0 5 1 5 0 5 0 5 0 5 1 5 0 5 0 5 0 5 0 5 1 5 0 5 0 5 0 5 1 5 0 5 0 5 0 5 0 5 1 5 0 4 0 5 0 5 0 5 0 5 1 5 0 5 0 5 0 5 0 5 1 5 0 5 0 5 0 5 0 5 0 5 0 5 1 5 0 5 0 5 0 5 0 5 0 5 1 5 0 5 0 5 0 5 0 5 0 5 0 5 0 5 1 5 0 5 0 5 0 5 0 5 0 5 0 5 0 5 0 5 1 5 0 5 0 5 0 5 0 5 0 5 0 5 0 5 0 5 0 5 0 5 1 5 0 5 0 5 0 5 0 5 0 5 0 5 0 5 0 5 0 5 0 5 0 5 0 5 0 5 1 5 0 5 0 5 0 5 0 5 0 5 0 5 0 5 0 5 0 5 0 5 0 5 0 5 0 5 0 5 0 5 0 5 0 5 0 5 0 5 0 5 1 5 0 5 0 5 0 5 0 5 0 5 0 5 0 5 0 5 0 5 0 5 0 5 0 6 0 5 0 5 0 5 0 5 0 5 0 5 0 5 0 5 0 5 0 5 0 5 0 5 0 5 0 5 0 5 0 5 0 5 0 5 0 5 0 5 0 5 0 5 0 5 0 5 0 5 0 5 0 5 0 5 0 5 0 5 0 5 0 5 0 5 0 5 0 5 0 5 0 5 0 5 0 5 0 5 0 5 0 5 0 5 0 5 0 5 0 5 0 5 0 5 0 5 0 5 0 5 0 5 0 5 0 5 0 5 0 5 0 5 0 5 0 5 0 5 0 5 0 5 0 5 0 5 0 5 0 5 0 6 0 5 0 5 0 5 0 5 0 5 0 5 0 5 0 5 0 5 0 5 0 5 0 5 0 5 0 5 0 5 0 5 0 5 0 5 0 5 0 5 0 5 0 5 0 5 0 5 0 5 0 5 0 5 0 5 0 5 0 5 0 5 0 5 0 5 1 5 0 5 0 5 0 5 0 5 0 5 0 5 0 5 0 5 0 5 0 5 0 5 0 5 0 5 0 5 0 5 0 5 0 5 0 5 0 5 0 5 0 5 0 5 0 5 0 5 0 5 0 5 1 5 0 5 0 5 0 5 0 4 0 5 0 5 0 5 0 5 0 5 0 5 0 5 0 5 0 5 0 5 1 5 0 5 0 5 0 5 0 5 0 5 0 5 0 5 0 5 0 5 0 5 1 5 0 5 0 5 0 5 0 5 0 5 0 5 0 5 0 5 0 5 1 5 0 5 0 5 0 5 0 5 0 4 0 5 0 5 1 5 0 5 0 5 0" stroke="#0000ff" stroke-width="14.0"/>
<path transform="scale(0.1)" d="M475 10505l3 29 1 2 3 26 1 7 2 25 1-10 2 17 2-23 2 24 2 1 1-22 2-22 1 28 2-17 1-38 3-6 0 36 2-58 3 29 1-3 2 29 1-33 3 72 2-15 1-29 1-40 1 27 2-36 3-64 2 11 1 29 2 15 2-18 1-42 2 73 1-17 2-62 1-17 3-65 2-20 1 32 2-29 2 50 0 9 3-56 2-4 1 15 1-3 3-52 1-6 1 26 2 49 2-86 2-41 2 54 1-22 3-41 1 22 2-32 1-19 2-47 1-22 1-26 3 40 2-63 1-4 1-34 2 6 2-48 3 14 1 36 1 65 2-73 2 22 1-71 3-20 2 41 1 18 2-27 1 21 2-64 1 3 2-39 2 28 1 42 2-32 2 44 3-69 0 47 3-38 1 47 2-7 2 34 0 1 3 42 2-16 1 33 2-26 1-60 3-2 1-24 1 16 3-85 1-9 2 51 2-84 1 48 2-73 1 40 2-30 2-15 2-5 1 50 2 0 1-80 3-1 1 44 2-25 1-53 2-7 2-74 1 9 3 31 1-8 1-61 3 70 2-65 1 19 2-35 1-10 2 39 1-18 2-41 1 33 2-48 3 26 0-31 2-2 3-20 1-31 0 39 3-14 2-66 1 26 2 35 2-2 1-48 3-41 2 43 1-50 1 43 2-14 1-58 2 64 3-75 2-26 1 47 1-43 2 68 2-78 1-12 3-48 1 42 3-86 1 60 1-4 2-16 2-21 2-37 1-7 1 36 4 10 1-50 0-28 1 52 3-38 2-40 2 25 1-41 2 46 2 50 2-8 1 27 2-22 1 30 3-57 1 66 1-29 3 47 1-26 1-43 2 11 2 69 2-11 1-28 2 32 3-34 0-21 3 55 1-1 2 38 1-24 3 39 0-25 3-53 2-44 1 47 3-17 1-33 1 15 2-43 1 27 2-30 2 10 1 30 2-88 2 58 3 27 0-27 2-6 2 53 1 37 3-31 2-17 1 50 2-18 2 33 1-27 2 30 1-13 1-27 3-7 2 55 2-37 1 69 1 12 3 27 2-28 1 51 2-3 1-50 3-26 1 56 2-15 1-63 1 22 3-69 1 27 2-71 1 12 1 24 2-19 2-53 1 33 1 24 3-1 2-33 2 7 2 25 1 7 2-63 1-25 2 64 2-32 1-32 2 10 1 33 2-3 2-62 2 27 0 22 3 4 3-118 1 6 2 20 3 13 1-18 1 11 2-47 1 4 1 42 2-4 3-44 0-1 3-20 2 11 2-36 2-36 1 74 1-36 2 42 1-39 1-46 2 45 3 30 2-8 2-25 1 0 1-27 3-3 1 40 2-31 2 43 1 7 2-30 1-16 3-58 1-5 1 42 2-15 1 37 2-19 1 43 3-87 2 34 3-23 1 26 0-1 3-69 2 6 1 58 1-9 0 49 3-12 3-68 1 13 3 31 0-24 3 80 2-59 1 31 1-12 2 74 2-25 1 28 2-40 2 35 2 8 1-34 3 17 1 50 3-69 0 48 2-8 1-46 3 66 1 32 3-51 1 34 2 0 1-26 2 33 2-43 0 35 1-60 3 3 1 47 2-36 2 53 2-43 2-33 1-6 2 94 3-21 1 34 2-17 1-69 3-23 1 29 1-6 2 35 2 2 2-21 1 23 2-19 1-3 1 40 2-31 3 39 2-6 1-22 2 38 1-42 2 17 2 45 1-1 1-49 3 52 2-35 1 1 1 54 3-45 2 49 2-35 1 26 1-4 1-36 2-7 3 85 2 22 1-48 2 8 2-22 1 5 2 29 2 1 1 44 3-53 1 31 1-1 1-23 3 45 1-25 1 19 2-52 3 24 1 53 3-31 1 35 1-15 1 33 3-54 2 46 0-19 2 68 2-16 2 50 3-9 1-32 1 25 2 30 1 17 3-42 0-9 2 31 3-49 1 33 2-12 2 60 1-10 2-25 1 36 2-21 2-8 2 59 1-36 3 44 0 11 3-53 2 31 1-21 2 51 1-58 2-14 1-42 2 24 3 59 0 8 3-64 1 9 2 26 2 4 1-28 1 57 2 32 4-35 1 40 1-14 1-43 2-2 1 45 2-57 3 117 0 13 2-35 2-29 3 61 1-19 1 49 2 20 2-64 1 32 1-32 2 19 3-59 2 46 1-61 1 38 3 56 2-51 1 30 2 38 2-49 1 9 2-37 1 42 1 78 2-60 3-64 1 0 2 32 1 17 3-21 2-21 1 32 1 27 3-64 0-6 3 67 1 2 2-28 1 33 2-60 2 8 1-58 3 24 2 36 2 33 1-62 1 23 2-16 1-3 1 34 3 10 1-45 2 11 3 39 0-6 3-49 1 20 2-44 1 3 1 84 2-41 2-55 3 24 2 76 1 20 2-43 3-48 0 39 2-14 1 40 3-46 1 41 1-72 2 47 2-11 0 17 3-15 1 29 3 8 2-32 1 15 2-60 3 2 1-18 1 52 2-79 1 22 2 83 1 13 2-76 1-7 3 38 1 4 2-34 3 35 1-38 3 18 0 17 3-16 1-26 1-11 2 53 2-43 1 42 1-11 2 52 3-47 1 34 1-27 2 46 1 19 2-23 3 70 2-56 1 23 2 66 2-23 1 27 2-52 1 18 1 22 1 30 3-26 3 41 0-18 1 35 3-41 2 53 3 16 0-26 1-2 3 40 2-3 2 28 0 3 3-62 1 25 2-11 2-18 1 53 1-55 2 69 2-88 1 33 2-32 3 64 1-9 2-63 1 41 2 48 2 7 2-90 1 8 1-63 2 38 3 60 2-30 1-22 1 21 2-75 1 5 3 45 2-52 2 29 1-16 2 51 1-5 2-63 1 4 2 52 1-17 2 48 2-43 1 40 3-5 1 50 2 1 2-43 1 24 3-81 0 7 2 39 3-26 2 73 0-14 3-76 2-16 1 28 1 28 2-72 2-48 2 35 3-63 1 54 0-15 3 54 2-23 1-30 2-45 2 41 0 11 2-24 2 9 2-30 1-3 3 61 1-15 1-49 2-5 1 54 3-24 1-39 2 13 2 43 3-36 1 37 1-17 1 50 2-42 3 42 2-17 1 29 1-36 1 23 2-9 1 21 3-5 1-64 2 45 2 52 1-40 2 82 2-43 2 48 2-28 1 27 3 8 1-23 1-6 2 51 1-37 2-31 2-4 3 16 1 6 1 36 2-13 2-54 1-9 2 74 2 15 2-69 1-29 0 20 4 14 2-39 1 10 2 32 1-14 2-25 3 23 1-34 1-12 2 39 1-6 2 21 3 13 1-35 1-6 2-43 1 20 1-30 4 53 2-28 1-19 2 59 1-10 2-76 2 37 2-50 1-19 2 54 3 12 1-37 1 6 2 44 1 4 1-32 3 14 2-66 2-33 0 53 3-30 1 37 3-29 1 30 2 27 1-34 2 5 2 43 0 7 1-41 3 47 2-32 1 8 3 60 1 11 2-55 1 9 1 45 3 1 1-21 2 8 3-30 1 33 2-51 2 43 1-57 1-12 2 59 2-25 1-60 2 38 2 45 1-34 2-38 2 25 2-27 1 43 3-72 1 50 2-31 1 36 1 34 3-61 1 46 3 1 1 42 1-31 3 44 0 27 3-39 1 16 3-28 2-28 1 46 1 12 2-24 1 3 3-38 1-39 2 51 1-9 2 39 3-19 1 50 2-43 0 34 4-52 1 59 2 18 1-40 1 19 3 59 0 12 3-85 1-15 2 35 3-12 1-26 1 44 1-33 2 2 1-32 3 37 2-34 1 9 2-57 1-2 2-51 3-17 1 71 1-15 2-59 4 30 0 19 1 7 2 26 1 3 1-43 2 22 2 67 4-36 0-26 2 1 2 30 1-1 2-29 1 14 3 42 2-33 1 17 2-39 1 71 1-15 3-61 1-1 0 34 4 29 2-41 1-5 2-45 1 4 1 69 3-21 2-53 1 1 2 37 1 14 1-42 3 50 1-38 4 38 1-39 2 49 1-40 1 7 2 42 2-37 1 12 2-30 1-65 2 22 2 43 2 15 2-42 1 29 1-33 2 29 2-31 1 54 3-39 2-14 2 49 2-18 1 66 2-32 1-32 2 24 2-51 2 16 1-37 1 8 3 67 1 10 1-54 2 5 1-39 2 53 1-23 2 4 3-45 1-6 2 57 2-21 1-24 2-16 2 46 2 19 2-70 1 54 2-28 1 11 2 29 2-15 2-42 1 32 1 49 2 9 3-30 2-30 1 36 1-30 3 58 1-65 1 29 2 2 2-24 2 40 2-51 2 3 1 40 1-14 3-77 1 30 2-82 2 42 1-22 2-34 2 49 0-27 3-64 1-14 1 51 3-10 2-93 1 26 2 39 3 29 1-42 2-15 1 58 1-24 2-38 1-4 2 69 2 0 2-71 1 24 1 39 3 14 2-65 2 11 1 26 2 9 1-20 3-1 1 20 1-39 1 49 4-1 1 27 2 35 1-60 1 3 2 58 2 15 2-61 2 37 1-40 2 38 2 60 1-60 1 35 2-14 2 40 2-9 1 33 3 19 2-57 1-9 2 65 1-5 2 48 2-71 2 90 1 29 2-40 1 27 3-60 2-27 1-43 1 8 2-35 2 8 1 20 2 5 2-57 2-11 2 20 2-37 1 34 2-11 0 29 2-35 3-49 2-13 1 31 1 6 1-54 3-47 1 44 2-40 3-40 1 1 1 75 2-3 2-49 2-34 2 51 1-15 2 55 1-9 2-71 1 70 2-81 3 59 1-37 1-16 2 67 2-12 2 52 1-16 1 62 4-39 1 51 2-5 1-25 2 5 1 56 3-20 1 34 2 6 1-53 2 23 2-43 1 18 2 49 1-20 2-66 1 20 2 42 2-57 2-43 3 31 1 27 2-18 1 30 2 30 2-45 0 8 3 63 1 39 2-75 2 12 1-42 3 28 1-50 1-4 1 51 4-15 1-48 2-22 1 33 3 28 1-42 1 47 1 15 2 9 2-46 2 37 2-28 1-23 0-36 3-6 2 38 3 38 1-51 3 9 1-38 1-37 2 60 2-34 2 54 2 34 1-50 1 19 1-24 2-15 2-44 3 7 1-69 1-19 2 49 2 11 2-48 1 13 2-39 2 24 1-35 3 5 1-45 2 43 2-41 1 46 1-51 3 38 0-40 3 46 1-54 2 22 2-35 1-9 3 47 2 31 1-29 1-3 2 38 2-5 2-75 2-27 1 50 2-19 2-41 1-13 2 49 2-50 1 30 1 22 2-57 2 54 1-68 3-10 1 56 2-16 0-18 3 2 2-64 3 26 1 44 2-29 1 56 2-43 2-64 1 57 1-41 2-1 2 45 1 9 2-34 1 46 3-67 2 40 2-17 2 18 1-20 1-5 1-29 3 51 1-48 3-3 1-30 3-9 1 36 0-25 3 79 1 18 2-33 2-24 0 36 2 2 3-61 1 18 1 49 3-22 1-45 2 24 2-36 2 24 1 25 2-53 2 52 2-19 1-77 3-15 1 57 1-21 2-15 1-52 2 47 1-34 2-59 2 30 2 42 1-9 1-30 4 32 1-58 1-1 1 45 3-33 1-36 3-11 2-45 1 21 2 22 1-27 2 47 1 2 2-37 1 13 2 60 2-35 3 57 1-15 2 40 2-25 0 22 3-25 2 70 2 12 1-34 1 4 2 31 1 15 2-46 2 26 2-26 1-18 3 43 0 3 2-51 2-24 1 63 2-57 2 37 2-3 2 45 2 33 2-44 1 1 1 33 3-19 1 41 3-12 1 60 1-16 1-45 3-14 1 36 2-38 2 57 2-60 1 40 1-40 1 41 3-23 1-29 2 17 2 46 2 46 2-67 1 32 2-59 1 44 3 40 1-19 1 43 2-6 1-58 3 22 1 56 3-46 2 39 0-31 1 37 3-42 2 37 1 0 0 48 4-64 2 83 1 32 2-50 2 69 2-37 1-45 2 50 1-5 3 51 1-42 2 87 1 8 2-45 1-8 3 89 1-16 2-42 1 66 3-73 0-19 2 60 2-46 2-43 3 20 1 39 2-66 1 42 2-87 2 64 1-10 2 43 2 15 2-38 2-45 1 56 2-2 1-24 1 1 3-82 2 43 1-27 1 24 2 44 2-74 2 49 1-11 1-22 2 1 3 58 0 3 3-71 1-7 2 46 2-48 2 99 1-35 1-48 2 10 2 58 2-42 1 17 3 43 1-44 2 33 1-35 2 52 1 9 2 35 2-55 1-18 2 34 3-31 1 75 1-68 3-25 1-3 2 28 2 3 1-37 2 10 2 53 1-12 1 65 4-31 0-22 2-20 2 23 2-27 1 41 2-13 2 59 2-12 0 30 3-23 1-33 3-16 1 43 1-1 2 34 1-33 3 61 1-23 2 41 1-23 1 31 4-40 1-29 1 6 3 84 0 5 3-70 1-5 3-51 1 6 2 39 2-13 0 39 4-25 1-23 0 21 3 23 1 0 3-53 2-27 1 32 1 21 2-32 2 8 1-26 2 26 0-31 3-1 2-43 3-9 1-38 2-19 1 34 2 1 2-31 0 13 3 65 1 5 3-39 1 22 1-16 2-13 2 52 2-16 2-41 0 15 3-50 1 16 2 43 1-32 2 40 3 9 1-63 2 21 2-27 0-7 3 54 2-47 2-54 2-23 1 83 1-9 1-12 2 12 2 38 2-19 2-47 1 9 0-7 3 24 3 32 1 31 2-56 2 9 1-38 1 11 2 52 4-6 0 23 1-33 2 38 2 2 2 32 2-9 2 44 1 25 2-77 2 35 2 28 1 12 1-74 2 47 2-63 1 34 1 42 2 0 1-48 3 31 0 26 5-45 1-78 1 9 2 74 1 2 2-67 3 23 1-45 1-19 2 85 1 9 2-46 2 9 2-35 1-8 1 30 2 21 2-51 2-20 3 42 0-18 3 29 1-12 1-52 2 2 2-53 1 23 3-36 1 47 3-49 0 4 2-37 2 44 2-40 1 17 2 45 2-11 2-29 1 13 3-60 1-27 2 52 1 26 1-37 2 0 3 46 1 20 1-18 3-27 2 46 1-8 2 21 1-4 2 79 2-38 2 37 0-22" stroke="#ff0000" stroke-width="15.0"/>
<path transform="scale(0.1)" d="M475 10501l2-6 1 1 2-7 4-8 1 10 2-11 3 6 1 6 1-11 1-21 3 22 2-30 1 17 2-35 2 35 1-30 3 0 1 19 1-6 2-36 1 25 2 37 2-34 2 69 2-39 1 19 2 7 3-35 0-11 3 16 3 10 2 7 1-44 1 18 3 38 3 8 1-23 1-10 1 11 1 11 1-56 3-6 1-18 3 40 2-47 2 35 1-42 2 10 1 30 3-42 1 23 1-43 1-13 2 6 2-30 3-3 2 32 0 10 3-60 0 6 2 33 4-15 1-43 0 15 3 49 1-3 2-27 2-5 1-29 1 8 3-55 2 19 1-49 2 53 2-53 2 19 1 39 2-35 1 18 2-1 2-40 1 7 3-48 0-8 1 13 3-10 2 45 1-28 2-36 2 1 1 25 3-30 2-15 0 4 3-53 2 5 2-32 2-10 1 13 1-23 1 55 3-40 2-49 0 7 1-28 3 14 3-48 0 1 1-35 3 14 1-30 2 13 2-34 1 12 2-55 2 38 2-20 2-28 1 35 2-53 2 26 2-9 1-35 2 8 2-41 2-30 2 45 1-35 2 35 1-4 1-18 3 1 1 9 2-11 2-37 1-18 3 72 0-8 3-52 1 8 1-19 2 15 1 13 2 1 1-39 3 1 2-28 1 30 3-19 2 13 1-27 1 3 2-33 2 25 1-17 2 29 2-38 2 15 2 12 2-24 1 36 2 15 2-15 1-33 2 37 3 0 1-33 0 3 1 26 3 13 2-37 1 17 2-40 1 22 2-27 4 12 1-37 1-14 1 21 1-16 2 33 2-36 2 33 2-33 2 30 3 23 0-39 2 11 1-23 1-6 1 32 3-12 3-67 0 30 3 70 1-7 2-25 2-3 1-27 3 42 1-23 1-5 1-23 3 17 0 27 3-10 3-27 0-7 2 24 2 23 2-29 1 4 3 21 0 5 3-50 2 31 2 20 0 6 1-52 2 0 1-17 4-21 1 28 2 19 1-50 2 50 2-44 1 10 3-31 1 8 2 34 2-6 1-37 1 7 3-28 1 29 2-22 2-1 0 19 2-17 1-26 3 35 3-57 0-6 3-17 1 5 3 26 1-9 1-22 1 5 3-43 1 9 1 31 3 9 2-46 1 30 2-49 1 41 3-27 1 33 2-49 1 12 3-26 0-12 1-51 3 67 1-24 3 25 1-34 3 5 1 65 2-5 2-54 0-10 2 36 2-58 1 25 2-6 3-33 1-14 2 27 1-6 3 43 1-20 2 53 1-12 3-46 1-22 2 28 0 9 1 43 3-21 1 11 3-7 1-21 3 22 1-29 2 40 2-39 0 2 2 33 2-54 2-52 1 38 3-23 1 11 3-22 2-21 1 17 3 45 1 5 1-50 2 20 3 32 2-2 1-40 1 4 2 34 3-25 0 24 2 19 1-26 3 7 1 27 2-23 2 31 2 2 1-26 1 7 3 44 1 9 2-42 3-2 1 29 1-15 3 31 1-3 1 35 2-43 1 28 2-21 1-25 3 20 2 55 1-19 2-28 2 19 2 21 1 3 1-24 3 8 2 31 1 9 2 29 2 0 1-26 2 16 1 38 1-25 1-26 4 13 2-23 1-2 1 35 2-21 1 26 3-5 2 27 0 18 3-34 1 10 1-12 4 12 1-31 1 2 3 53 0 4 2-24 1 9 2 33 2-12 0 18 4-29 2 56 3-33 0 16 2-49 1 39 1-8 3 54 1 24 3-17 0-9 1-40 3 8 3 38 0-14 1-22 3-6 2 49 1-8 3-42 1 31 2-37 1 23 2 12 1-4 3-16 0 1 2 21 3 3 1 28 2 23 2-34 2 0 1 33 1-30 3-31 1 14 1 39 3-18 1 41 1 6 2-54 2 25 2-25 1 12 2 28 3-32 1 23 1 9 3-49 0 13 1 29 3-33 2 35 1-18 3-36 1-14 2-49 1 11 0-16 6 13 0-27 1-1 2 30 3-19 1 18 0-10 3-36 2 12 1-30 1 12 3 28 1 5 2-59 3 44 1-18 0-3 2-30 2 4 3-22 1-19 2 34 2 22 2-24 0 4 2-34 2 13 1 38 2 0 3-16 3-38 2 16 1-22 2 16 2-28 1 9 1-37 3 10 2-31 0 22 2-41 3 0 1 43 2-8 2-37 1-10 1 38 3-18 1-24 3 5 1 16 2 5 1-22 2 2 1 14 1 10 2-23 3-16 2 40 0-5 3 33 1-30 1-21 2 8 1 40 4-43 1 14 1 14 3-35 0-3 1 48 4-14 2-17 1-9 1 18 2-12 2 43 1-22 1-41 2 18 2-37 2 8 3 32 2 16 1-32 1 9 2-21 1 2 0 19 4 3 0-10 3 18 3-29 1 2 1 26 1-36 3 18 1-25 3 50 1-24 2 27 1-21 3 21 2 11 0 18 1-12 1-24 3 12 2 20 1-6 2 27 3-33 1 49 2-24 1 26 1 6 3-16 1 28 3 65 0 10 2-25 2 15 3-15 0-7 3 34 0-2 3-33 1 9 2-31 3-1 1 19 2 16 2-28 0-6 1-27 3 46 1-21 2 8 2-61 2 20 1 25 2 12 3-81 0 18 3 36 1 18 2-42 2-15 1 23 1-40 1-37 4 18 2 32 0-2 2 38 1-24 2-19 2 8 2-16 1 13 1-41 3 42 1-50 3 13 0 20 4 5 1-13 1-9 3 16 1 13 2-46 2 23 2-26 1-5 1 12 3 46 1-30 2-9 2-26 0 3 1 17 3-5 2-30 2-11 0 16 2 6 2 27 2 0 3-65 0-11 3 51 1-12 2-28 2 30 1 32 1-30 3-33 1-2 2-37 1 20 3 18 1-25 3 46 2-21 1 23 1 6 1-25 2-8 2 42 3-24 1 38 1-17 3 45 0-9 3 47 1 0 2-22 1 22 2-42 3 14 1-13 1 44 2-37 1-2 2 25 3-34 1 19 1 21 2-35 1 27 2 43 2-14 3-40 2 41 1-26 2-28 3-24 2 28 1 33 2-30 1 1 2 36 1 13 3-34 1 31 2-37 3 12 1 23 2 16 1-28 2-12 1 37 2-16 1 31 2-6 2 24 2-15 1 24 1-31 1 18 3 14 0-42 4 54 1-23 1 7 2 22 2 16 3-54 0 22 2 40 2-63 2 38 2-13 2-47 1-10 2 70 1-30 2 21 1-11 2-55 4 59 1-54 0-7 3 46 1 22 2-57 1 7 1-17 4 0 1 28 1-34 2 35 1-9 3-35 2-21 1 23 1-9 3 25 0-7 3 40 1-17 3 23 0-10 2-28 1-20 3 42 1-7 3-22 1 30 2-41 2 54 2-32 0-20 3 29 1-23 1 20 2 4 3-34 1 20 2-31 1 8 2 42 1 2 3-41 0-4 3 30 1-1 2-46 2 28 2-27 1 23 2 14 2-3 2-38 0 2 3 44 2 17 1-23 1 7 2 32 2-24 1-25 3-6 2 37 1-8 1-26 3-33 1 32 3-37 1 56 1-8 2-21 2-40 1 37 2-17 2-29 1 1 3 46 0 5 3-29 2 25 2-22 1 19 1-21 2 18 1-29 3-11 2 35 0-8 1 27 3-37 2 63 2-11 2-25 1-9 2 26 2-8 2 33 2 3 1-25 1-7 3 29 1-18 2 34 0 17 3-40 1 13 3-30 0-6 3 68 1 6 3-29 1-36 1 29 2 1 2 25 1-19 2 34 2 10 2-27 2-24 2 30 1-22 1 35 4-24 0 25 1-8 3-35 2 32 1-35 1 26 3-12 0-22 3 20 1 22 2-43 1 2 2 30 1-13 2 27 3-14 2 38 0-8 3-14 0 23 1-37 4-52 2 50 0 6 3 52 1-3 1-42 3-11 1 48 1-11 1-21 3 13 1-46 3 23 2-19 1 37 2-58 2 1 2 35 0-14 3-28 3 2 1 12 2-15 1 26 1-24 1 24 2-24 2-17 1 23 3-29 1 20 3-39 1 17 1-15 2 30 3-11 1 21 2-20 1-18 1 27 2-4 2-58 2 36 2-24 1 1 1 39 2-45 2 34 3-39 1 36 1-18 3 34 1-50 2 56 2 8 1-29 1 15 2-38 2 25 1-10 3-19 2 48 0-7 3-27 1 18 2 28 1-11 1 26 2-27 2-16 2 10 1 43 3-14 2 32 1-10 2-38 3-5 0 27 2-1 2 16 1 1 1-42 2 55 1-52 3 2 3 34 1 28 1-30 2-3 1 14 2-3 3 25 1-37 1 47 2 7 1 39 2-30 2-22 2 24 1-30 2-34 2 51 2-53 2 36 1-17 1 36 2-29 2-28 1 16 2-25 2 9 3 28 1-1 2-52 2 23 2 16 1 5 1-23 2 36 2-54 1-17 3 34 1-29 2 53 1 16 2-42 2 11 2 33 2-25 1 29 1-7 2-47 1 34 3 21 1 0 1-23 2-31 2 52 2 1 0 9 3-10 2-40 1 48 2 35 3-47 2 31 0 7 2-30 1 42 2-44 3 32 1-45 4 36 0-25 1-10 2 21 2-41 2 58 1 10 2-36 1-17 2 35 2-12 0-28 3 11 2 32 2-17 1-26 2-3 2 51 1-9 1-30 2 30 3-34 2-17 1 37 1-10 2 30 1-36 1 17 4 5 1-34 2 24 1-31 3 50 2-61 0-8 1 29 2 4 3-31 2-7 2 41 0 10 3-60 2 13 2-47 2-4 1 34 1-13 1 30 2-26 2 27 3-23 1 23 1-38 2-34 2 14 1 23 2 2 2-46 1-23 1 36 2-20 2 38 3 17 2-45 0 18 2 13 3 0 1-32 3 37 1-26 0-10 3 23 1-3 2-28 2 29 2-45 2-12 1 34 2-29 2 32 2-14 1-26 1-5 3 42 0-4 3-18 1 33 2-55 3 21 1-29 1-5 2 19 1-2 1-26 3 28 1-22 2 13 1-30 2 18 2 37 3-44 0 33 2 1 3-39 1 41 2-26 0-9 3 53 1-17 3 19 2 8 1-29 1 26 2-19 1-12 2-23 1 1 2 38 2-33 2 31 2 24 2-48 1 9 3 47 2 21 1-30 0 12 1 25 3-12 3 30 1 33 2-52 1 17 2-34 2 20 2-23 1-5 1 36 2 15 1-54 3-2 2 29 1-30 1 18 3-7 1 32 2-1 2 35 3 0 1-27 1-25 0 27 3 10 2-20 1 20 2-39 2 6 1 24 2 1 3-32 1 6 2 33 2-24 1 22 3-1 1-18 1-8 2 18 1-20 2 44 1-7 2-28 4 9 1 13 0 6 1-32 2 18 2 33 2-33 2 47 1-11 3 23 2 1 2-39 0-8 1 35 3-11 2 17 1-15 2 42 2-38 2 55 1 27 3-43 2-15 0 14 3 25 1-29 1 11 1-19 3-12 0 29 3-2 2 20 3 7 1-17 0-5 2 59 3-41 2 35 1 16 2-44 2 32 2-14 1 30 1-25 1 23 3 18 2 20 2-32 0-9 1-14 3-26 3 38 1-37 2 51 1 5 1-32 4-5 0 14 1-4 2-42 3 34 0-21 3 18 2-30 2 27 1-32 1 35 1-15 3-37 1 36 2-4 3-49 0-20 3 57 1-20 1 21 3-17 1-19 3-13 1 25 1 23 2-45 2 0 2-29 0 26 2 9 3 7 1 35 4-34 0-24 1 9 3 27 1 16 1-34 2-3 2 38 1-23 2 23 2-10 2 33 2-41 1 23 2-22 1 41 1-29 3 11 1 21 1-28 3 52 1-41 2-7 2 40 1-15 1-49 3 44 2 38 1-21 2-26 1 6 1-22 3 34 2-26 2 3 1 46 3-10 1 18 3-14 1 17 1-5 0-16 3 20 1 11 4 0 1 19 1-17 1 26 4 11 1-31 2-45 1 82 2-17 2 23 2-6 1-17 1 17 2-38 1 0 3 21 2 12 1-30 2 10 1-28 1-6 2 40 1 5 1 12 4-9 2 19 0-21 2-43 3 17 2 17 0-6 2-30 1 3 1 27 4-23 1 21 2 25 2-45 1 20 1-40 2 4 3 31 1-10 1 21 3-52 1 36 1 11 3-42 1-6 2 28 1 9 3-24 0-2 1 29 4-40 1 26 2-42 2 66 1-46 3 46 1-13 1-32 1 8 1-30 3 7 2 51 1-8 2 29 3-14 0-20 3 52 2-49 1 7 2 31 1 12 3-38 0 18 2 24 2 4 1-29 3 2 2-16 0 5 3-26 1 15 2 32 3 1 1-19 1 12 2-29 2 5 2-24 0 20 2-37 2 1 1 38 2-7 3-69 1 21 0 26 4-29 1 28 2-47 1 27 3-17 2-24 0 14 3-43 1 9 2-15 2-8 1 21 2-9 1 11 2-9 3-32 0 6 3 47 2 1 2-37 0 12 3-44 1 9 2-40 1 0 3 68 0-6 2 42 2-26 2-25 1 17 3-58 2 64 2-21 3-29 0-12 3 55 2-2 0-19 3 38 1-27 2 25 2-27 2 1 1 34 2-56 2 57 2-1 2-26 0 3 3-41 0 10 3 51 1-26 2 32 2-18 2-56 2 24 2-30 0-16 3-22 0 8 2-41 2 36 2-39 2 16 2 41 1-28 3 37 0-7 2-39 2-11 1 19 3-20 2 38 1-26 2 35 1 8 2-71 1 32 1-27 3 34 2-24 1 16 2 33 1 3 3-42 2-2 2 24 2 4 1 18 0-7 3-23 1-5 0-22 4-3 2 39 2-3 1 14 1-10 2-20 3 28 1-51 1 1 2 44 1-10 3-23 2-18 2 40 1-16 1-28 3 6 1 22 1-5 2 28 1-7 2-59 2 22 2 27 1-32 2 40 1-4 3-49 2-7 1 33 2-16 2 57 1-11 1-13 2 18 2-42 1-16 3 57 2-17 2 66 0-18 3-49 2 37 2-43 0-2 2 59 2-1 2-42 1 2 2 33 3 14 1-29 1-4 3 25 0-4 3-32 1 20 1-28 2 11 1-28 3 22 0 11 3-9 2-46 3 12 0-24 1 4 3 22 1 7 0-20" stroke="#008000" stroke-width="14.5"/>
</g>
<rect x="236.6" y="1022.0" width="91.6" height="41.59999999999991" rx="1.5" fill="#fff" fill-opacity="0.8" stroke="#d6d6d6" stroke-width="0.7"/>
<line x1="239.4" y1="1029.3" x2="258.6" y2="1029.3" stroke="#0000ff" stroke-width="1.3"/>
<text x="265.10" y="1032.60" font-size="9.0" text-anchor="start" textLength="59.55" lengthAdjust="spacingAndGlyphs" >Deterministic</text>
<line x1="239.4" y1="1042.5" x2="258.6" y2="1042.5" stroke="#ff0000" stroke-width="1.3" stroke-dasharray="5.2 2.3"/>
<text x="265.10" y="1045.80" font-size="9.0" text-anchor="start" textLength="53.27" lengthAdjust="spacingAndGlyphs" >White Noise</text>
<line x1="239.4" y1="1055.7" x2="258.6" y2="1055.7" stroke="#008000" stroke-width="1.3" stroke-dasharray="8.7 2.2 1.4 2.2"/>
<text x="265.10" y="1059.00" font-size="9.0" text-anchor="start" textLength="48.37" lengthAdjust="spacingAndGlyphs" >Lévy Noise</text>
<rect x="34.1" y="871.0" width="298.2" height="197.5" fill="none" stroke="#000" stroke-width="0.75"/>
<line x1="47.6" y1="1068.5" x2="47.6" y2="1071.6" stroke="#000" stroke-width="0.75"/>
<text x="47.60" y="1081.70" font-size="9.0" text-anchor="middle" textLength="5.16" lengthAdjust="spacingAndGlyphs" >0</text>
<line x1="101.8" y1="1068.5" x2="101.8" y2="1071.6" stroke="#000" stroke-width="0.75"/>
<text x="101.80" y="1081.70" font-size="9.0" text-anchor="middle" textLength="10.32" lengthAdjust="spacingAndGlyphs" >20</text>
<line x1="156.0" y1="1068.5" x2="156.0" y2="1071.6" stroke="#000" stroke-width="0.75"/>
<text x="156.00" y="1081.70" font-size="9.0" text-anchor="middle" textLength="10.32" lengthAdjust="spacingAndGlyphs" >40</text>
<line x1="210.2" y1="1068.5" x2="210.2" y2="1071.6" stroke="#000" stroke-width="0.75"/>
<text x="210.20" y="1081.70" font-size="9.0" text-anchor="middle" textLength="10.32" lengthAdjust="spacingAndGlyphs" >60</text>
<line x1="264.4" y1="1068.5" x2="264.4" y2="1071.6" stroke="#000" stroke-width="0.75"/>
<text x="264.40" y="1081.70" font-size="9.0" text-anchor="middle" textLength="10.32" lengthAdjust="spacingAndGlyphs" >80</text>
<line x1="318.6" y1="1068.5" x2="318.6" y2="1071.6" stroke="#000" stroke-width="0.75"/>
<text x="318.60" y="1081.70" font-size="9.0" text-anchor="middle" textLength="15.48" lengthAdjust="spacingAndGlyphs" >100</text>
<line x1="31.0" y1="885.0" x2="34.1" y2="885.0" stroke="#000" stroke-width="0.75"/>
<text x="27.70" y="888.60" font-size="9.0" text-anchor="end" textLength="12.90" lengthAdjust="spacingAndGlyphs" >1.8</text>
<line x1="31.0" y1="918.16" x2="34.1" y2="918.16" stroke="#000" stroke-width="0.75"/>
<text x="27.70" y="921.76" font-size="9.0" text-anchor="end" textLength="12.90" lengthAdjust="spacingAndGlyphs" >1.6</text>
<line x1="31.0" y1="951.32" x2="34.1" y2="951.32" stroke="#000" stroke-width="0.75"/>
<text x="27.70" y="954.92" font-size="9.0" text-anchor="end" textLength="12.90" lengthAdjust="spacingAndGlyphs" >1.4</text>
<line x1="31.0" y1="984.48" x2="34.1" y2="984.48" stroke="#000" stroke-width="0.75"/>
<text x="27.70" y="988.08" font-size="9.0" text-anchor="end" textLength="12.90" lengthAdjust="spacingAndGlyphs" >1.2</text>
<line x1="31.0" y1="1017.64" x2="34.1" y2="1017.64" stroke="#000" stroke-width="0.75"/>
<text x="27.70" y="1021.24" font-size="9.0" text-anchor="end" textLength="12.90" lengthAdjust="spacingAndGlyphs" >1.0</text>
<line x1="31.0" y1="1050.8" x2="34.1" y2="1050.8" stroke="#000" stroke-width="0.75"/>
<text x="27.70" y="1054.40" font-size="9.0" text-anchor="end" textLength="12.90" lengthAdjust="spacingAndGlyphs" >0.8</text>
<text x="183.20" y="865.80" font-size="11.0" text-anchor="middle" textLength="96.98" lengthAdjust="spacingAndGlyphs" >Comparison for Er</text>
<text x="183.20" y="1094.80" font-size="9.0" text-anchor="middle" textLength="21.20" lengthAdjust="spacingAndGlyphs" >Time</text>
<text x="8.90" y="970.80" font-size="9.0" text-anchor="middle" textLength="8.92" lengthAdjust="spacingAndGlyphs" transform="rotate(-90 8.90 970.80)" >Er</text>
<text x="160.70" y="1123.70" font-size="16.5" text-anchor="middle" style="font-family:'Liberation Serif', serif;fill:#111;stroke:none">(</text>
<text x="167.50" y="1123.20" font-size="15.5" text-anchor="middle" textLength="7.60" lengthAdjust="spacingAndGlyphs" style="font-family:'Liberation Serif', serif;fill:#111;stroke:none">g</text>
<text x="173.90" y="1123.70" font-size="16.5" text-anchor="middle" style="font-family:'Liberation Serif', serif;fill:#111;stroke:none">)</text>
<clipPath id="cliph"><rect x="376.3" y="864.6" width="306.2" height="202.80000000000007"/></clipPath>
<g clip-path="url(#cliph)" fill="none" stroke-linejoin="round" stroke-linecap="butt">
<path transform="scale(0.1)" d="M3906 10563l2-5 3-4 2-4 3-5 2-4 3-4 2-5 3-4 2-4 3-4 2-5 3-4 2-4 3-5 3-4 2-4 3-4 2-5 3-4 3-4 2-4 3-5 2-4 3-4 3-4 2-5 3-4 2-4 3-4 3-5 2-4 3-4 3-4 2-5 3-4 3-4 2-4 3-5 3-4 2-4 3-4 3-5 2-4 3-4 3-4 2-4 3-5 3-4 2-4 3-4 3-5 3-4 2-4 3-4 3-5 2-4 3-4 3-4 2-4 3-5 3-4 2-4 3-4 3-5 3-4 2-4 3-4 3-4 2-5 3-4 3-4 2-4 3-5 3-4 2-4 3-4 3-4 2-5 3-4 3-4 2-4 3-5 3-4 2-4 3-4 3-5 2-4 3-4 3-4 2-5 3-4 2-4 3-4 3-5 2-4 3-4 3-4 2-5 3-4 2-4 3-4 2-5 3-4 3-4 2-5 3-4 2-4 3-4 2-5 3-4 2-4 3-5 2-4 3-4 3-4 2-5 3-4 2-4 3-5 2-4 2-4 3-5 2-4 3-4 2-5 3-4 2-4 3-5 2-4 3-4 2-5 3-4 2-4 2-5 3-4 2-4 3-5 2-4 3-4 2-5 2-4 3-4 2-5 3-4 2-4 2-5 3-4 2-4 3-5 2-4 2-4 3-5 2-4 3-4 2-5 2-4 3-5 2-4 3-4 2-5 2-4 3-4 2-5 2-4 3-4 2-5 3-4 2-4 2-5 3-4 2-5 3-4 2-4 2-5 3-4 2-4 3-5 2-4 2-4 3-5 2-4 3-4 2-5 3-4 2-4 3-5 2-4 3-4 2-4 3-5 2-4 3-4 2-5 3-4 2-4 3-4 3-5 2-4 3-4 3-4 2-5 3-4 3-4 2-4 3-5 3-4 2-4 3-4 3-4 3-4 2-5 3-4 3-4 3-4 3-4 2-4 3-5 3-4 3-4 3-4 3-4 3-4 3-4 3-4 3-4 2-4 3-4 3-4 3-4 3-5 3-4 3-4 4-4 3-4 3-4 3-4 3-3 3-4 3-4 3-4 3-4 3-4 4-4 3-4 3-4 3-4 3-4 4-4 3-3 3-4 3-4 3-4 4-4 3-4 3-4 4-3 3-4 3-4 4-4 3-3 3-4 4-4 3-4 3-3 4-4 3-4 4-4 3-3 3-4 4-4 3-3 4-4 3-3 4-4 3-4 4-3 3-4 4-3 3-4 4-4 4-3 3-4 4-3 3-4 4-3 3-4 4-3 4-4 3-3 4-4 4-3 3-3 4-4 4-3 3-4 4-3 4-3 4-4 3-3 4-3 4-4 4-3 3-3 4-4 4-3 4-3 4-3 3-4 4-3 4-3 4-3 4-3 4-4 3-3 4-3 4-3 4-3 4-3 4-3 4-3 4-3 4-3 4-3 4-3 4-3 4-3 4-3 4-3 4-3 4-3 4-3 4-3 4-3 4-3 4-3 4-3 4-2 4-3 4-3 4-3 4-3 4-2 4-3 5-3 4-3 4-2 4-3 4-3 4-2 5-3 4-3 4-2 4-3 4-2 4-3 5-3 4-2 4-3 4-2 5-3 4-2 4-3 4-2 5-3 4-2 4-3 5-2 4-2 4-3 4-2 5-3 4-2 4-2 5-3 4-2 5-2 4-2 4-3 5-2 4-2 4-2 5-3 4-2 5-2 4-2 4-2 5-3 4-2 5-2 4-2 5-2 4-2 5-2 4-2 5-2 4-3 5-2 4-2 5-2 4-2 5-2 4-2 5-2 4-2 5-1 4-2 5-2 4-2 5-2 4-2 5-2 5-2 4-2 5-1 4-2 5-2 5-2 4-2 5-1 4-2 5-2 5-2 4-1 5-2 5-2 4-2 5-1 5-2 4-2 5-1 5-2 4-2 5-1 5-2 4-1 5-2 5-2 5-1 4-2 5-1 5-2 4-1 5-2 5-1 5-2 4-1 5-2 5-1 5-2 4-1 5-2 5-1 5-1 5-2 4-1 5-2 5-1 5-1 4-2 5-1 5-1 5-2 5-1 5-1 4-2 5-1 5-1 5-2 5-1 5-1 4-1 5-2 5-1 5-1 5-1 5-1 5-2 4-1 5-1 5-1 5-1 5-1 5-1 5-2 5-1 5-1 4-1 5-1 5-1 5-1 5-1 5-1 5-1 5-1 5-1 5-1 5-1 5-1 4-1 5-1 5-1 5-1 5-1 5-1 5-1 5-1 5-1 5-1 5-1 5-1 5-1 5-1 5-1 5 0 5-1 5-1 5-1 5-1 5-1 5-1 5 0 5-1 5-1 5-1 5-1 5 0 5-1 5-1 5-1 5-1 5 0 5-1 5-1 5 0 5-1 5-1 5-1 5 0 5-1 5-1 5 0 5-1 5-1 5 0 5-1 5-1 5 0 5-1 5-1 5 0 5-1 5-1 5 0 5-1 5 0 5-1 5-1 5 0 5-1 5 0 5-1 5 0 5-1 5 0 5-1 5-1 5 0 5-1 5 0 5-1 5 0 5-1 5 0 5-1 6 0 5-1 5 0 5-1 5 0 5 0 5-1 5 0 5-1 5 0 5-1 5 0 5 0 5-1 5 0 5-1 5 0 5-1 5 0 5 0 5-1 5 0 5 0 5-1 5 0 5-1 5 0 5 0 5-1 5 0 5 0 5-1 5 0 5 0 5-1 5 0 6 0 5-1 5 0 5 0 5-1 5 0 5 0 5 0 5-1 5 0 5 0 5-1 5 0 5 0 5 0 5-1 5 0 5 0 5 0 5-1 4 0 5 0 5 0 5-1 5 0 5 0 5 0 5 0 5-1 5 0 5 0 5 0 5-1 5 0 5 0 5 0 5 0 5-1 5 0 5 0 5 0 5 0 5-1 5 0 4 0 5 0 5 0 5 0 5-1 5 0 5 0 5 0 5 0 5 0 5-1 4 0 5 0 5 0 5 0 5 0 5-1 5 0 5 0 5 0 4 0 5 0 5 0 5-1 5 0 5 0 5 0 4 0 5 0 5 0 5-1 5 0 5 0 4 0 5 0 5 0 5 0 5 0 4-1 5 0 5 0 5 0 5 0 4 0 5 0 5 0 5-1 4 0 5 0 5 0 5 0 5 0 4 0 5 0 5 0 4-1 5 0 5 0" stroke="#0000ff" stroke-width="14.0"/>
<path transform="scale(0.1)" d="M3905 10562l2 1 2 2 2 1 2 3 2 0 2 0 2 7 2-1 2 6 2-3 2 4 2-5 2-16 2 12 2 0 2-3 2-5 2-2 2-14 2 16 2-7 2-4 2-15 2 9 2-13 2 6 2 0 2-9 2-11 2 0 2 6 2-10 2-11 2 2 2-6 2-4 2 6 2-6 2 3 2-4 2-15 2 2 2-1 2-16 2-4 2-1 2-4 2-3 2 3 2-3 2-4 2-7 2 3 2-15 2 3 2-3 2-12 2-3 2 3 2-2 2-18 2 16 2 11 2-11 2-5 2-1 2-8 2 0 2-3 2 5 2-4 2-16 2 3 2 3 2-6 2 2 2-12 2-13 2-12 2-2 2 1 2-13 2 6 2-12 2-9 2-8 2 15 2-15 2 10 2-11 2 6 2-4 2 0 2-13 2-8 2-7 2-3 2 5 2-15 2 8 2-5 2 3 2-1 2-23 2 6 2 2 2-22 2 3 2 1 2-23 2 7 2-2 2-17 2-2 2-13 2 5 2-7 2-6 2 12 2-5 2-1 2-17 2-4 2-14 2 10 2 10 2-23 2 8 2-8 2 4 2 2 2-16 2 8 2-18 2-2 2 0 2-14 2-17 2-1 2-2 2 3 2-19 2 3 2-4 2-9 2-7 2-4 2-10 2 6 2-16 2-1 2-1 2-4 2-5 2 4 2-2 2-5 2-8 2 0 2-12 2-5 2-3 2-12 2-3 2-7 2-3 2-2 2-3 2 8 2-13 2 5 2-17 2-2 2-8 2 6 2-20 2-17 2 20 2-13 2 7 2 4 2-12 2-1 2-14 2 13 2-17 2 11 2-3 2-10 2-7 2 3 2-20 2 6 2 14 2-16 2-19 2 3 2 11 2-10 2-2 2-1 2-10 2-13 2 8 2-7 2-4 2-8 2 4 2-10 2-1 2 2 2-11 2-6 2-17 2 1 2 7 2 2 2-19 2-12 2 3 2-14 2 2 2-4 2-21 2 11 2-9 2 3 2-14 2-9 2 0 2-14 2-11 2-3 2 3 2 14 2-21 2 0 2-11 2 17 2-12 2 3 2-11 2-6 2 2 2-9 2-6 2-1 2-11 2-5 2-3 2-9 2-9 2-8 2 4 2-15 2-3 2 14 2-9 2 1 2 7 2-17 2 1 2-11 2 1 2-8 2 7 2-15 2-10 2-1 2-5 2 3 2-6 2-8 2-1 2-19 2-8 2 5 2 1 2-9 2-6 2-6 2-3 2-7 2-13 2-8 2 9 2-4 2 8 2-5 2-2 2-20 2 1 2-11 2 7 2-16 2-1 2 2 2-6 2-15 2-5 2-7 2 5 2-19 2 5 2-6 2-6 2 5 2-4 2-7 2-2 2-2 2-7 2 5 2-11 2-6 2-2 2 1 2-9 2-2 2-4 2 5 2-17 2-3 2-1 2-4 2-4 2 1 2-3 2-3 2-2 2-5 2-2 2-6 2-4 2 4 2-11 2 2 2 16 2-17 2 0 2-2 2-5 2-11 2 6 2 1 2-7 2 2 2-3 2-8 2 15 2-6 2-3 2-3 2-1 2-2 2 3 2-3 2 6 2-15 2 6 2-8 2-1 2 4 2-3 2 1 2-1 2 5 2-5 2 6 2-5 2 4 2-12 2 4 2 0 2 5 2-6 2-8 2 2 2 9 2-4 2 1 2 4 2 14 2-25 2 2 2 0 2 0 2-9 2-2 2-11 2 8 2 2 2 8 2-12 2 2 2 10 2-7 2 3 2 4 2-2 2-3 2-3 2-1 2-2 2 12 2 1 2 0 2-14 2 1 2-9 2 6 2 6 2-9 2 11 2 7 2 6 2-12 2 0 2 0 2-4 2-7 2 11 2 12 2-16 2 0 2-2 2-4 2 8 2-6 2-4 2 7 2-4 2-4 2 0 2-2 2-3 2-3 2 12 2-4 2-10 2-4 2 9 2-1 2-11 2-8 2 19 2-13 2 2 2-2 2 4 2 0 2-8 2-12 2 6 2 0 2 4 2-11 2 5 2-3 2-14 2 9 2 1 2-7 2 16 2-6 2 9 2 3 2-6 2-4 2-7 2 7 2 0 2 1 2 2 2-19 2 16 2-6 2 7 2-3 2 13 2-21 2 12 2-7 2-12 2 20 2-7 2 8 2 9 2-6 2-10 2-10 2 3 2 2 2-4 2 0 2-3 2 12 2-7 2 7 2-9 2 1 2 3 2-6 2-11 2 10 2-24 2 5 2-2 2 6 2-13 2 10 2-10 2-2 2-3 2 14 2-9 2-5 2-1 2-2 2 10 2-14 2-5 2 10 2 2 2-6 2 7 2 1 2-18 2-4 2 8 2-1 2 1 2-15 2 4 2 9 2-8 2 1 2 4 2 6 2-20 2 22 2-6 2 3 2 7 2-13 2 15 2-22 2 18 2-19 2 5 2 8 2-3 2-8 2 1 2-8 2-5 2 15 2-10 2-7 2 0 2 12 2-9 2 6 2-8 2 4 2-1 2-9 2-2 2 14 2-12 2 14 2-4 2-10 2 0 2 6 2 12 2-1 2-18 2 8 2 1 2-5 2-2 2 8 2-7 2-1 2 5 2 3 2-17 2 3 2-6 2-9 2 19 2 9 2-11 2 2 2 5 2-2 2-8 2 15 2-9 2 4 2 0 2 1 2-7 2 13 2-7 2-5 2-12 2 12 2 0 2-5 2-2 2 2 2-16 2 17 2-7 2 6 2-13 2 8 2 1 2 6 2-8 2-2 2 6 2-8 2-1 2 6 2-9 2 3 2 1 2 5 2-11 2-3 2 1 2 7 2-1 2-6 2 4 2-5 2-4 2-1 2 9 2-3 2 2 2 4 2 1 2-6 2-2 2 0 2-3 2 11 2-10 2-7 2 2 2 8 2 8 2-8 2 9 2-12 2 2 2 7 2-5 2 5 2-5 2 0 2-5 2 7 2 4 2 3 2-2 2 15 2-7 2 5 2 1 2 1 2 4 2-9 2 5 2 4 2 6 2-8 2-2 2 9 2-3 2-5 2 14 2-7 2-5 2 4 2 0 2 3 2 4 2-6 2-9 2 11 2-6 2 4 2 11 2 6 2-3 2-13 2 5 2 9 2-5 2 1 2-18 2 10 2 10 2 2 2-15 2 12 2 6 2-2 2 6 2-3 2-2 2 3 2 4 2-2 2-3 2 6 2 1 2-15 2 11 2-2 2 4 2-11 2 8 2 8 2-6 2 6 2 3 2-5 2 4 2 4 2 0 2-1 2-9 2 7 2-3 2 3 2 2 2-9 2 18 2 9 2-8 2-6 2-2 2 15 2 5 2-3 2 3 2-8 2 11 2-3 2-2 2 8 2-8 2-3 2 5 2 0 2-12 2-7 2 11 2 2 2-4 2 3 2-2 2-13 2 10 2-4 2-9 2 6 2 0 2-5 2 15 2-14 2 7 2 5 2 4 2 0 2 1 2-4 2 12 2 1 2-11 2-16 2 17 2-8 2 5 2 1 2-5 2-6 2-11 2 1 2-2 2-13 2 12 2-14 2 2 2-5 2-1 2-6 2 4 2 2 2-5 2 3 2 9 2-9 2-4 2-1 2 3 2-1 2 7 2 8 2-5 2-1 2-6 2 17 2-13 2 12 2 9 2 8 2-17 2 6 2 6 2 2 2 0 2 13 2-10 2 0 2-4 2-1 2 4 2 8 2-9 2-8 2 14 2-11 2-3 2-2 2 6 2 1 2 6 2 4 2-15 2-2 2-1 2-2 2 12 2 5 2-22 2 8 2 1 2 2 2-11 2-2 2-1 2-8 2-11 2 0 2 2 2 2 2-14 2 11 2-6 2 0 2-15 2 19 2-9 2 10 2-9 2 10 2-7 2-4 2 10 2-4 2-6 2-4 2-1 2-3 2-2 2 9 2-15 2-2 2 7 2-2 2-5 2-7 2-1 2-5 2 12 2-1 2-6 2 19 2-14 2-3 2 7 2 4 2-5 2 5 2 0 2-27 2 9 2 0 2-6 2 5 2-17 2-3 2 5 2 12 2-12 2 6 2 0 2 3 2 11 2-13 2 4 2 7 2-3 2-12 2-6 2 13 2-10 2 11 2-9 2 5 2 5 2 6 2-17 2 0 2 6 2-7 2 12 2-8 2-4 2 2 2-3 2-1 2 0 2-6 2-3 2 8 2 10 2-5 2-15 2 6 2-3 2 6 2-1 2-8 2 16 2-6 2 2 2-12 2 2 2 9 2 3 2-1 2-4 2-11 2 11 2-7 2 18 2-5 2-10 2 6 2 3 2-12 2-3 2 8 2 4 2-10 2 0 2 7 2-5 2 3 2 1 2-3 2-4 2 11 2-20 2 6 2-1 2-1 2-1 2-4 2 6 2 6 2-1 2-10 2 1 2-6 2-9 2-7 2 6 2-1 2 8 2-8 2-6 2 9 2 6 2 1 2-8 2-1 2-7 2 2 2-3 2 8 2-12 2-5 2-5 2-8 2 5 2-1 2-3 2 2 2-10 2 2 2 1 2-13 2 4 2 3 2-17 2 6 2-6 2 3 2-6 2 4 2 0 2 6 2-4 2 6 2 1 2-17 2 4 2 5 2 0 2-14 2 5 2 0 2 16 2-29 2 15 2-10 2-17 2 22 2-3 2 3 2 7 2-9 2 1 2 1 2-11 2-6 2 6 2-1 2-14 2 6 2 6 2-8 2-6 2-3 2 10 2-3 2 6 2-5 2 1 2-11 2 7 2-6 2 7 2-19 2 1 2 8 2-7 2-3 2 5 2-9 2 0 2-9 2 6 2-10 2-12 2 4 2-5 2 11 2-19 2 14 2-9 2-12 2-2 2 7 2-1 2-17 2-2 2 11 2-18 2 8 2-2 2 1 2-2 2-10 2 20 2-19 2 16 2-10 2-7 2-1 2 1 2-10 2 2 2-1 2 9 2-7 2-5 2 4 2-1 2 0 2 1 2-6 2-13 2 14 2-10 2 8 2-1 2-10 2 12 2-13 2 12 2 1 2-3 2 12 2-3 2 0 2 1 2 0 2-3 2 20 2-16 2-10 2-24 2 21 2 4 2 1 2-9 2 7 2 1 2-4 2 0 2-3 2 4 2-1 2-9 2 12 2-16 2 6 2 3 2-2 2-2 2-3 2-4 2-2 2-4 2 5 2-2 2 13 2-10 2-7 2-10 2 13 2-10 2-15 2 16 2-6 2 3 2 3 2 7 2-10 2-1 2 4 2-5 2-8 2-1 2 12 2-3 2-19 2 7 2-1 2-7 2 10 2 11 2-7 2-12 2 13 2 3 2 4 2-5 2 7 2 7 2-5 2 7 2-5 2-9 2 4 2 8 2 4 2-14 2 4 2 13 2-1 2 8 2 0 2-13 2 16 2-6 2 6 2-5 2-15 2-11 2 22 2-9 2 5 2 1 2 4 2 4 2-8 2 9 2-5 2 12 2-7 2 0 2 15 2-18 2 15 2-9 2-2 2 0 2 1 2-4 2 9 2-3 2-9 2 1 2 16 2-20 2-2 2 4 2-5 2 14 2 2 2-10 2 1 2-14 2 19 2-1 2-2 2 3 2-2 2 3 2-6 2 10 2-13 2 5 2 3 2-15 2 21 2-15 2 13 2-6 2 15 2-19 2 15 2-9 2 3 2 5 2 6 2-2 2-4 2 8 2 1 2-6 2 20 2-14 2 10 2-5 2 0 2 1 2 6 2-1 2 15 2-3 2-7 2 11 2 3 2 10 2-17 2 7 2-6 2 5 2-3 2 0 2-16 2 6 2-7 2 3 2-21 2 14 2-7 2 2 2 4 2-5 2 0 2-4 2-5 2 3 2-1 2 1 2-2 2 2 2-11 2 5 2 2 2 3 2-6 2 5 2-12 2 11 2-7 2-7 2 2 2 15 2-3 2-4 2-6 2 1 2 4 2-11 2 3 2 9 2-8 2 0 2-1 2 10 2 1 2-7 2-8 2 1 2 7 2-10 2 3 2 7 2 10 2-9 2-6 2 8 2-2 2-8 2 1 2 1 2 0 2 2 2-5 2 2 2-1 2 17 2-11 2 8 2-8 2 8 2 5 2-8 2 5 2 0 2-15 2 6 2-3 2 3 2-6 2 3 2-2 2-2 2 6 2 0 2 9 2-2 2-1 2-8 2 8 2 2" stroke="#ff0000" stroke-width="15.0"/>
<path transform="scale(0.1)" d="M3905 10562l2-3 2-3 2-2 2-3 2-5 2-4 2-2 2-5 2-3 2-2 2-3 2-4 2-7 2 1 2 0 2-9 2-2 2-8 2-1 2 3 2-8 2-2 2-10 2 7 2-11 2 7 2-9 2-4 2 7 2-8 2 0 2 1 2-8 2-2 2-1 2 5 2-6 2-12 2-3 2 4 2-6 2-6 2 2 2-1 2 2 2-3 2-3 2-5 2 2 2-22 2 0 2 6 2-2 2-1 2 9 2-15 2-3 2 2 2-6 2 5 2-11 2-5 2 6 2-14 2 10 2-10 2 2 2-4 2 0 2-3 2-3 2-7 2-14 2 7 2-1 2 4 2-9 2-9 2-1 2-4 2-3 2-11 2 5 2-11 2-6 2-5 2 8 2-11 2 3 2-11 2-7 2-2 2-2 2-4 2-3 2 0 2-10 2-6 2 0 2-6 2 1 2-1 2-8 2-3 2-3 2-6 2 2 2-6 2-5 2 1 2-4 2-1 2-1 2-15 2 0 2 8 2-3 2-14 2-1 2-6 2-5 2 3 2-7 2 3 2-13 2 14 2-3 2-8 2-13 2 1 2 10 2-10 2-4 2-7 2 3 2-4 2-1 2-10 2 10 2-12 2-13 2-1 2 4 2 0 2 0 2-2 2-7 2-1 2-4 2-6 2-2 2-7 2 11 2-13 2-5 2 5 2-16 2-4 2-2 2-2 2 1 2-1 2-5 2-1 2-3 2-4 2-5 2-12 2 4 2 2 2-2 2-22 2 7 2-4 2 0 2-10 2-4 2 14 2-8 2-8 2-1 2-3 2-8 2-1 2-5 2 0 2-6 2-1 2-11 2 2 2 2 2-7 2-2 2-1 2-4 2-3 2-4 2 1 2 2 2-8 2-4 2-2 2-8 2 3 2-10 2-3 2 2 2 0 2-14 2 0 2-1 2-5 2-7 2 1 2-9 2-7 2 6 2-13 2-10 2 1 2-5 2-2 2-8 2-1 2-1 2-1 2 3 2-13 2-2 2 5 2-10 2-4 2 2 2-15 2 2 2-2 2-1 2-9 2-9 2-11 2-2 2 3 2-11 2 3 2-8 2-4 2-8 2-2 2-9 2 13 2-9 2-7 2-7 2 3 2 3 2-6 2-8 2-3 2-4 2 3 2-4 2-10 2-3 2 1 2-2 2-7 2-1 2-6 2-2 2-3 2-8 2 2 2-2 2-10 2-9 2 10 2-6 2-4 2-8 2-12 2-6 2 17 2-6 2-6 2 3 2-1 2-12 2 1 2 0 2-6 2-6 2 0 2-18 2 5 2 4 2-14 2 6 2-5 2 0 2 7 2-13 2 1 2 3 2 2 2-12 2-4 2-3 2-6 2-9 2 3 2 7 2-14 2 0 2 4 2-8 2-5 2 8 2-12 2 5 2-10 2-2 2-2 2 2 2-3 2-10 2 0 2 9 2-7 2-4 2 9 2-11 2-4 2-12 2 5 2-5 2-1 2 1 2-1 2-3 2-11 2 3 2-7 2 3 2 0 2-6 2-3 2 4 2 11 2-13 2-8 2 8 2 3 2-18 2-5 2-1 2 3 2 0 2-1 2 5 2-8 2-11 2 0 2 6 2-6 2-15 2-1 2 7 2-1 2 5 2 0 2 4 2-6 2-6 2-4 2 3 2-10 2 3 2-7 2-1 2 1 2 0 2 5 2-12 2 8 2-2 2-4 2-11 2-1 2 6 2-3 2-2 2-14 2 0 2-1 2 9 2-10 2-6 2 3 2 7 2-5 2 2 2-15 2 12 2-14 2 7 2-9 2-2 2-2 2 3 2-8 2 1 2 2 2 2 2 0 2-7 2 11 2-5 2-4 2 5 2-6 2 15 2-9 2-1 2 1 2-2 2-5 2-3 2 2 2 3 2-11 2 2 2-7 2 8 2-14 2 5 2 0 2-2 2-7 2-3 2 7 2-4 2 2 2 3 2-13 2-10 2 0 2 13 2-24 2 11 2 6 2-13 2 8 2-7 2-1 2 4 2-8 2-5 2-2 2-12 2 11 2 8 2-11 2-1 2-2 2-4 2 3 2 0 2-5 2-3 2 3 2-5 2-7 2 5 2 3 2-7 2 2 2 2 2-9 2-4 2-4 2 9 2-11 2 3 2 0 2 2 2-8 2-8 2 11 2-2 2 4 2-2 2 11 2-10 2-1 2-3 2-5 2-3 2 0 2-4 2-2 2-8 2 3 2 2 2-1 2-9 2 4 2-8 2 6 2-3 2 3 2-1 2 3 2 4 2-9 2-3 2 10 2-7 2-3 2 6 2-2 2 7 2-9 2 5 2-1 2-8 2 11 2 5 2-17 2 0 2-2 2 5 2-1 2-4 2 0 2 0 2 1 2-3 2-6 2 11 2-10 2 8 2-1 2-11 2-5 2 9 2-1 2-1 2-4 2-2 2 6 2-7 2 5 2-13 2 7 2-3 2 4 2-6 2 0 2 3 2-8 2-7 2 3 2 5 2-16 2-1 2 4 2 1 2-1 2-1 2-5 2 3 2-3 2 5 2-8 2 0 2-9 2 3 2 3 2 0 2 5 2-14 2 3 2 10 2-11 2 3 2-1 2-7 2 4 2-3 2-3 2-4 2 8 2-13 2 8 2-10 2-1 2 1 2-8 2 2 2 2 2 0 2 0 2-9 2 11 2-2 2-2 2-3 2 8 2-5 2-7 2 0 2-2 2-5 2 2 2-6 2-6 2-1 2 8 2-10 2-2 2 5 2-7 2 3 2 2 2-9 2-6 2-3 2 7 2-13 2-1 2-3 2 5 2 6 2-6 2-7 2 14 2-17 2 3 2-5 2-3 2 10 2-10 2 16 2-8 2 0 2 2 2 1 2-13 2-3 2-3 2-3 2 0 2 10 2-13 2-5 2 3 2 10 2-12 2 4 2-5 2 8 2 6 2-1 2-11 2-7 2-1 2-1 2-2 2 10 2 0 2-6 2 8 2-2 2-8 2 0 2 1 2-3 2-5 2 7 2-13 2-2 2 4 2 0 2 1 2-16 2 21 2-13 2 9 2-1 2-17 2 4 2-1 2-5 2-3 2 6 2 3 2 1 2-4 2 5 2 6 2-3 2-4 2 2 2 4 2-4 2 5 2-1 2-2 2-1 2 2 2 1 2-8 2 9 2-3 2-3 2 0 2 6 2 4 2-8 2 5 2-1 2-3 2 0 2 7 2-6 2-4 2 0 2 5 2 4 2-9 2-7 2 17 2-1 2-8 2-4 2-3 2 10 2 2 2-16 2 10 2-6 2 1 2-8 2 14 2-14 2 0 2-6 2 7 2 0 2-6 2-13 2 8 2 4 2-16 2 15 2-2 2 4 2-1 2-8 2 6 2 2 2-6 2 1 2-3 2-1 2-7 2 10 2 2 2-4 2 1 2 2 2-4 2-5 2 0 2 1 2 0 2-12 2 1 2 3 2 8 2-9 2 3 2 4 2-16 2 18 2-13 2 1 2-2 2-7 2 10 2-5 2 1 2 10 2-9 2 1 2 2 2-12 2 3 2 4 2 2 2 3 2-4 2-3 2 4 2-7 2 0 2 6 2-7 2-1 2-7 2-2 2-3 2 3 2 1 2 0 2-10 2 1 2 6 2-4 2-1 2 9 2-12 2-1 2-8 2 20 2-30 2 3 2 2 2 11 2 3 2-3 2 5 2-3 2-2 2-2 2-3 2-4 2-1 2 10 2-3 2-5 2 4 2-2 2 5 2-8 2 1 2-10 2 5 2 4 2 0 2-13 2 6 2 3 2-5 2 1 2 1 2-4 2 1 2 6 2-6 2 16 2 2 2-14 2-3 2 4 2 1 2 1 2-5 2 6 2-2 2-12 2 5 2 3 2-4 2 0 2-6 2-2 2 2 2 7 2-1 2-13 2 3 2 2 2 15 2-7 2-9 2 0 2-3 2-1 2-6 2 7 2-4 2 3 2 7 2-5 2 6 2-5 2 11 2-12 2-12 2 5 2 8 2-6 2 0 2 8 2-8 2 17 2-11 2-1 2 0 2-6 2 10 2-5 2 3 2-2 2 0 2 3 2-4 2 0 2-4 2 2 2-1 2-12 2-1 2 4 2-4 2 5 2-2 2 4 2-6 2 14 2 0 2-5 2-5 2-2 2 12 2-6 2 8 2-10 2 4 2 2 2 1 2 1 2-7 2 2 2-4 2 5 2-2 2 4 2-4 2 1 2 2 2-7 2-3 2-1 2 4 2-4 2 0 2 10 2-6 2 4 2 0 2-9 2-5 2 8 2-4 2 4 2 7 2-15 2 3 2 3 2 5 2-5 2 4 2-9 2-2 2 6 2 1 2-2 2 1 2 9 2 12 2-20 2 6 2-4 2-5 2 13 2-4 2 2 2-6 2-4 2 4 2 1 2-1 2 4 2 0 2-13 2 6 2-16 2 15 2 0 2-9 2 1 2 4 2-16 2 13 2-4 2 2 2-5 2 5 2 6 2 0 2-7 2 7 2-2 2 0 2 7 2-3 2-5 2-12 2 3 2 7 2-7 2-4 2-1 2-1 2-10 2 18 2-7 2-3 2 7 2-10 2-3 2 4 2 8 2-7 2-1 2-2 2 6 2 4 2-10 2 3 2-2 2 10 2 3 2 1 2-6 2-1 2 5 2 5 2-8 2 1 2 9 2-2 2 7 2-4 2 8 2 4 2-7 2 4 2 4 2-2 2-9 2 19 2-13 2 0 2 10 2-5 2 3 2 5 2 1 2 4 2-12 2-1 2 19 2-16 2 13 2-4 2 0 2-10 2 1 2-3 2 6 2-11 2 12 2 0 2-5 2-1 2 8 2-4 2 3 2 1 2 6 2 1 2-5 2-4 2-4 2 10 2-11 2 8 2-4 2 2 2 0 2 9 2-12 2-1 2 2 2 3 2 6 2-3 2 4 2 0 2 7 2-1 2-2 2 5 2 0 2 0 2-2 2-10 2 7 2 10 2 1 2-1 2-5 2-15 2 15 2-8 2 1 2-2 2 3 2 0 2-1 2 0 2 5 2-10 2 11 2 4 2-10 2 8 2-6 2-11 2 6 2 4 2-7 2-2 2 7 2-3 2 2 2 0 2-1 2 1 2-3 2-9 2 17 2-21 2-4 2 0 2 9 2-4 2-5 2 6 2 0 2-5 2-3 2 8 2 3 2-8 2 2 2-4 2 4 2-10 2 3 2 3 2 7 2-10 2 3 2-6 2-6 2 4 2-6 2-14 2 3 2 8 2-6 2 4 2 8 2-15 2 11 2 0 2-3 2 4 2 1 2 1 2 8 2-11 2 4 2 2 2-17 2 13 2-4 2-8 2 10 2-9 2 1 2 1 2 0 2 5 2-2 2 2 2 4 2-8 2 1 2 3 2 8 2-7 2 2 2-4 2-9 2 6 2-5 2 9 2-13 2 1 2 5 2-6 2 0 2 4 2 2 2 1 2-8 2 2 2 5 2-12 2 2 2 3 2-5 2-2 2 0 2 4 2 0 2-3 2-3 2 1 2 0 2-2 2 2 2-10 2 5 2 7 2 3 2-3 2-5 2 10 2-1 2-5 2 7 2-2 2-12 2 3 2-5 2-7 2 15 2 0 2 0 2-9 2 8 2-3 2-1 2 5 2-2 2 7 2 10 2-7 2 1 2-1 2-11 2 18 2-5 2 2 2-18 2 4 2 5 2-4 2 6 2 0 2 0 2 4 2-3 2-1 2 5 2-1 2 4 2-9 2 12 2-14 2 15 2 0 2 1 2 3 2-5 2-1 2-2 2-1 2-1 2 3 2 10 2 3 2 3 2-13 2 12 2-5 2-5 2 4 2-7 2 5 2 2 2-1 2-1 2-8 2 4 2 3 2-12 2 3 2-10 2-3 2 8 2 4 2-4 2 4 2-3 2-1 2 0 2-2 2 11 2-5 2-5 2 8 2-10 2 3 2 3 2-7 2 3 2-5 2 2 2-1 2 2 2 0 2 9 2-9 2-3 2 1 2 3 2-1 2 1 2 3 2-12 2 0 2 5 2 2 2 1 2 4 2-9 2 15 2-2 2-6 2-2 2 1 2-3 2 1 2 6 2-5 2-3 2 5 2-5 2-8 2 4 2 3 2-6 2 12 2-9 2-8 2 9 2 7 2-11 2-10 2-2 2 4 2-12 2 8" stroke="#008000" stroke-width="15.0"/>
</g>
<rect x="381.1" y="869.3" width="94.19999999999999" height="42.40000000000009" rx="1.5" fill="#fff" fill-opacity="0.8" stroke="#d6d6d6" stroke-width="0.7"/>
<line x1="384.2" y1="876.8" x2="403.8" y2="876.8" stroke="#0000ff" stroke-width="1.3"/>
<text x="410.60" y="880.19" font-size="9.234" text-anchor="start" textLength="61.10" lengthAdjust="spacingAndGlyphs" >Deterministic</text>
<line x1="384.2" y1="890.0" x2="403.8" y2="890.0" stroke="#ff0000" stroke-width="1.3" stroke-dasharray="5.2 2.3"/>
<text x="410.60" y="893.39" font-size="9.234" text-anchor="start" textLength="54.65" lengthAdjust="spacingAndGlyphs" >White Noise</text>
<line x1="384.2" y1="903.3" x2="403.8" y2="903.3" stroke="#008000" stroke-width="1.3" stroke-dasharray="8.7 2.2 1.4 2.2"/>
<text x="410.60" y="906.69" font-size="9.234" text-anchor="start" textLength="49.62" lengthAdjust="spacingAndGlyphs" >Lévy Noise</text>
<rect x="376.3" y="864.6" width="306.2" height="202.80000000000007" fill="none" stroke="#000" stroke-width="0.75"/>
<line x1="390.2" y1="1067.4" x2="390.2" y2="1070.5806" stroke="#000" stroke-width="0.75"/>
<text x="390.20" y="1080.60" font-size="9.234" text-anchor="middle" textLength="5.29" lengthAdjust="spacingAndGlyphs" >0</text>
<line x1="445.84" y1="1067.4" x2="445.84" y2="1070.5806" stroke="#000" stroke-width="0.75"/>
<text x="445.84" y="1080.60" font-size="9.234" text-anchor="middle" textLength="10.59" lengthAdjust="spacingAndGlyphs" >20</text>
<line x1="501.48" y1="1067.4" x2="501.48" y2="1070.5806" stroke="#000" stroke-width="0.75"/>
<text x="501.48" y="1080.60" font-size="9.234" text-anchor="middle" textLength="10.59" lengthAdjust="spacingAndGlyphs" >40</text>
<line x1="557.12" y1="1067.4" x2="557.12" y2="1070.5806" stroke="#000" stroke-width="0.75"/>
<text x="557.12" y="1080.60" font-size="9.234" text-anchor="middle" textLength="10.59" lengthAdjust="spacingAndGlyphs" >60</text>
<line x1="612.76" y1="1067.4" x2="612.76" y2="1070.5806" stroke="#000" stroke-width="0.75"/>
<text x="612.76" y="1080.60" font-size="9.234" text-anchor="middle" textLength="10.59" lengthAdjust="spacingAndGlyphs" >80</text>
<line x1="668.4" y1="1067.4" x2="668.4" y2="1070.5806" stroke="#000" stroke-width="0.75"/>
<text x="668.40" y="1080.60" font-size="9.234" text-anchor="middle" textLength="15.88" lengthAdjust="spacingAndGlyphs" >100</text>
<line x1="373.1194" y1="868.8" x2="376.3" y2="868.8" stroke="#000" stroke-width="0.75"/>
<text x="369.73" y="872.40" font-size="9.234" text-anchor="end" textLength="5.29" lengthAdjust="spacingAndGlyphs" >6</text>
<line x1="373.1194" y1="904.32" x2="376.3" y2="904.32" stroke="#000" stroke-width="0.75"/>
<text x="369.73" y="907.92" font-size="9.234" text-anchor="end" textLength="5.29" lengthAdjust="spacingAndGlyphs" >5</text>
<line x1="373.1194" y1="939.84" x2="376.3" y2="939.84" stroke="#000" stroke-width="0.75"/>
<text x="369.73" y="943.44" font-size="9.234" text-anchor="end" textLength="5.29" lengthAdjust="spacingAndGlyphs" >4</text>
<line x1="373.1194" y1="975.36" x2="376.3" y2="975.36" stroke="#000" stroke-width="0.75"/>
<text x="369.73" y="978.96" font-size="9.234" text-anchor="end" textLength="5.29" lengthAdjust="spacingAndGlyphs" >3</text>
<line x1="373.1194" y1="1010.88" x2="376.3" y2="1010.88" stroke="#000" stroke-width="0.75"/>
<text x="369.73" y="1014.48" font-size="9.234" text-anchor="end" textLength="5.29" lengthAdjust="spacingAndGlyphs" >2</text>
<line x1="373.1194" y1="1046.4" x2="376.3" y2="1046.4" stroke="#000" stroke-width="0.75"/>
<text x="369.73" y="1050.00" font-size="9.234" text-anchor="end" textLength="5.29" lengthAdjust="spacingAndGlyphs" >1</text>
<text x="529.40" y="859.40" font-size="11.286" text-anchor="middle" textLength="95.79" lengthAdjust="spacingAndGlyphs" >Comparison for Ir</text>
<text x="529.40" y="1093.70" font-size="9.234" text-anchor="middle" textLength="21.75" lengthAdjust="spacingAndGlyphs" >Time</text>
<text x="358.90" y="967.00" font-size="9.234" text-anchor="middle" textLength="6.20" lengthAdjust="spacingAndGlyphs" transform="rotate(-90 358.90 967.00)" >Ir</text>
<text x="509.90" y="1122.70" font-size="16.5" text-anchor="middle" style="font-family:'Liberation Serif', serif;fill:#111;stroke:none">(</text>
<text x="516.70" y="1122.20" font-size="15.5" text-anchor="middle" textLength="7.60" lengthAdjust="spacingAndGlyphs" style="font-family:'Liberation Serif', serif;fill:#111;stroke:none">h</text>
<text x="523.10" y="1122.70" font-size="16.5" text-anchor="middle" style="font-family:'Liberation Serif', serif;fill:#111;stroke:none">)</text>
</svg></body></html>
